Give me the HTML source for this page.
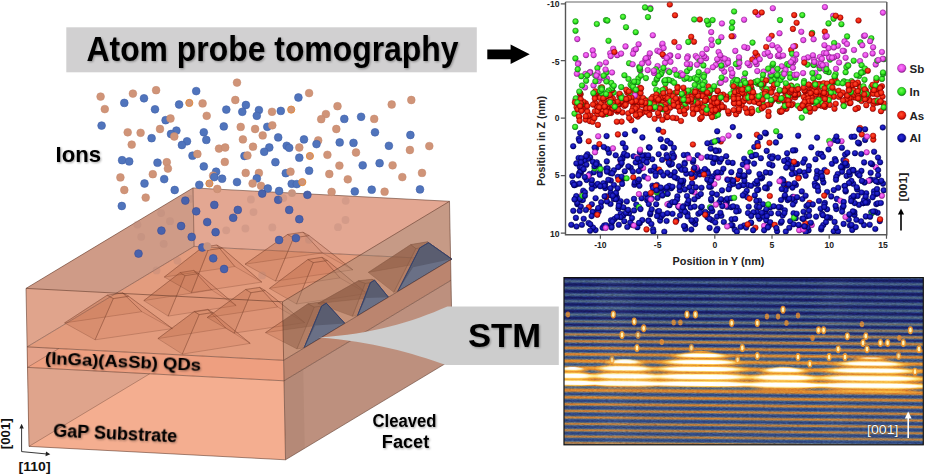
<!DOCTYPE html>
<html><head><meta charset="utf-8"><style>
html,body{margin:0;padding:0;background:#fff;}
body{width:925px;height:475px;overflow:hidden;}
svg{display:block;font-family:"Liberation Sans",sans-serif;}
.tk{font-size:8.6px;font-weight:bold;fill:#222;}
.axl{font-size:10.8px;font-weight:bold;fill:#222;}
.leg{font-size:11.5px;font-weight:bold;fill:#222;}
.lab001{font-size:11.5px;font-weight:bold;fill:#222;}
.cm{font-weight:bold;fill:#000;}
</style></head><body>
<svg width="925" height="475" viewBox="0 0 925 475">
<defs>
<radialGradient id="gal" cx="0.45" cy="0.4" r="0.6"><stop offset="0" stop-color="#3030d8"/><stop offset="0.7" stop-color="#0c0ca8"/><stop offset="1" stop-color="#000058"/></radialGradient>
<circle id="dal" r="2.8" fill="url(#gal)" stroke="#000058" stroke-width="0.5"/>
<circle id="Lal" r="4.2" fill="url(#gal)" stroke="#000058" stroke-width="0.5"/>
<radialGradient id="gas" cx="0.45" cy="0.4" r="0.6"><stop offset="0" stop-color="#ff5030"/><stop offset="0.7" stop-color="#e81808"/><stop offset="1" stop-color="#8a0000"/></radialGradient>
<circle id="das" r="2.8" fill="url(#gas)" stroke="#8a0000" stroke-width="0.5"/>
<circle id="Las" r="4.2" fill="url(#gas)" stroke="#8a0000" stroke-width="0.5"/>
<radialGradient id="gin" cx="0.45" cy="0.4" r="0.6"><stop offset="0" stop-color="#70ff50"/><stop offset="0.7" stop-color="#22dd18"/><stop offset="1" stop-color="#107a10"/></radialGradient>
<circle id="din" r="2.8" fill="url(#gin)" stroke="#107a10" stroke-width="0.5"/>
<circle id="Lin" r="4.2" fill="url(#gin)" stroke="#107a10" stroke-width="0.5"/>
<radialGradient id="gsb" cx="0.45" cy="0.4" r="0.6"><stop offset="0" stop-color="#ff80ff"/><stop offset="0.7" stop-color="#e040e0"/><stop offset="1" stop-color="#8a208a"/></radialGradient>
<circle id="dsb" r="2.8" fill="url(#gsb)" stroke="#8a208a" stroke-width="0.5"/>
<circle id="Lsb" r="4.2" fill="url(#gsb)" stroke="#8a208a" stroke-width="0.5"/>
<filter id="shd" x="-5%" y="-5%" width="110%" height="120%"><feGaussianBlur in="SourceAlpha" stdDeviation="0.8"/><feOffset dx="1.3" dy="1.3" result="b"/><feFlood flood-color="#000" flood-opacity="0.35"/><feComposite in2="b" operator="in"/><feMerge><feMergeNode/><feMergeNode in="SourceGraphic"/></feMerge></filter>
</defs>
<rect width="925" height="475" fill="#fff"/>
<g id="plot">
<use href="#dsb" x="670.3" y="55.4"/>
<use href="#dal" x="609.0" y="152.8"/>
<use href="#das" x="666.3" y="97.5"/>
<use href="#dal" x="610.5" y="204.0"/>
<use href="#das" x="633.5" y="106.1"/>
<use href="#dal" x="800.7" y="227.9"/>
<use href="#din" x="798.4" y="94.5"/>
<use href="#din" x="580.4" y="93.8"/>
<use href="#dal" x="853.3" y="170.0"/>
<use href="#das" x="806.1" y="95.3"/>
<use href="#dal" x="787.4" y="159.2"/>
<use href="#dal" x="713.1" y="176.4"/>
<use href="#das" x="771.7" y="101.3"/>
<use href="#dal" x="650.2" y="214.3"/>
<use href="#dal" x="859.0" y="204.8"/>
<use href="#din" x="645.3" y="99.8"/>
<use href="#dal" x="808.5" y="230.4"/>
<use href="#dal" x="620.6" y="201.2"/>
<use href="#din" x="669.9" y="102.8"/>
<use href="#dal" x="795.9" y="185.0"/>
<use href="#dal" x="782.7" y="215.5"/>
<use href="#dsb" x="860.0" y="61.1"/>
<use href="#din" x="704.6" y="82.0"/>
<use href="#das" x="619.3" y="96.1"/>
<use href="#dal" x="671.2" y="188.3"/>
<use href="#dal" x="620.7" y="178.6"/>
<use href="#dal" x="787.3" y="185.9"/>
<use href="#das" x="750.9" y="110.9"/>
<use href="#dsb" x="721.9" y="23.5"/>
<use href="#das" x="686.5" y="107.7"/>
<use href="#din" x="757.8" y="83.8"/>
<use href="#dal" x="579.2" y="173.1"/>
<use href="#das" x="747.8" y="94.2"/>
<use href="#dsb" x="723.0" y="58.4"/>
<use href="#dal" x="754.3" y="147.0"/>
<use href="#dsb" x="770.3" y="75.9"/>
<use href="#dal" x="780.7" y="207.4"/>
<use href="#dal" x="640.9" y="168.6"/>
<use href="#dsb" x="813.1" y="64.5"/>
<use href="#das" x="645.5" y="109.6"/>
<use href="#dsb" x="648.0" y="57.4"/>
<use href="#das" x="869.9" y="100.4"/>
<use href="#dal" x="651.6" y="198.5"/>
<use href="#dal" x="876.0" y="194.0"/>
<use href="#dal" x="756.7" y="212.0"/>
<use href="#dal" x="606.2" y="168.6"/>
<use href="#das" x="817.9" y="87.6"/>
<use href="#dal" x="870.8" y="179.6"/>
<use href="#das" x="669.8" y="4.5"/>
<use href="#dal" x="770.1" y="172.8"/>
<use href="#dsb" x="617.2" y="55.2"/>
<use href="#dsb" x="694.6" y="192.5"/>
<use href="#din" x="611.2" y="94.1"/>
<use href="#das" x="851.6" y="88.8"/>
<use href="#din" x="778.8" y="101.0"/>
<use href="#din" x="701.7" y="93.4"/>
<use href="#dal" x="853.2" y="183.8"/>
<use href="#dal" x="639.8" y="223.1"/>
<use href="#din" x="801.8" y="117.6"/>
<use href="#dsb" x="756.6" y="64.2"/>
<use href="#dal" x="667.3" y="140.9"/>
<use href="#din" x="664.3" y="81.2"/>
<use href="#das" x="808.8" y="84.8"/>
<use href="#das" x="736.3" y="101.3"/>
<use href="#dal" x="631.9" y="224.7"/>
<use href="#das" x="700.1" y="103.2"/>
<use href="#dal" x="727.2" y="206.8"/>
<use href="#din" x="639.3" y="67.0"/>
<use href="#das" x="794.2" y="15.1"/>
<use href="#dal" x="867.9" y="201.3"/>
<use href="#das" x="785.3" y="108.4"/>
<use href="#din" x="858.0" y="84.2"/>
<use href="#dal" x="795.2" y="173.1"/>
<use href="#dal" x="693.0" y="162.0"/>
<use href="#dal" x="853.5" y="197.3"/>
<use href="#das" x="809.7" y="88.4"/>
<use href="#din" x="733.6" y="89.8"/>
<use href="#dal" x="787.7" y="200.1"/>
<use href="#dal" x="672.5" y="175.3"/>
<use href="#das" x="713.6" y="107.5"/>
<use href="#dal" x="785.8" y="231.6"/>
<use href="#das" x="612.5" y="107.0"/>
<use href="#das" x="661.5" y="94.9"/>
<use href="#dal" x="851.4" y="197.9"/>
<use href="#dal" x="792.9" y="196.8"/>
<use href="#dsb" x="592.7" y="50.4"/>
<use href="#din" x="734.1" y="11.5"/>
<use href="#dsb" x="881.9" y="52.0"/>
<use href="#das" x="717.5" y="91.3"/>
<use href="#din" x="718.3" y="62.6"/>
<use href="#dsb" x="881.9" y="195.7"/>
<use href="#das" x="633.3" y="177.4"/>
<use href="#das" x="609.6" y="102.2"/>
<use href="#das" x="659.2" y="100.2"/>
<use href="#din" x="715.4" y="116.1"/>
<use href="#din" x="656.2" y="89.7"/>
<use href="#dal" x="577.4" y="204.2"/>
<use href="#din" x="772.4" y="65.3"/>
<use href="#das" x="705.9" y="109.6"/>
<use href="#das" x="697.9" y="106.4"/>
<use href="#dal" x="761.3" y="178.4"/>
<use href="#das" x="805.4" y="223.2"/>
<use href="#dal" x="650.7" y="170.8"/>
<use href="#din" x="659.5" y="91.3"/>
<use href="#dal" x="684.8" y="189.4"/>
<use href="#din" x="667.0" y="193.9"/>
<use href="#dal" x="857.5" y="173.6"/>
<use href="#dal" x="794.7" y="201.5"/>
<use href="#din" x="739.0" y="60.3"/>
<use href="#dal" x="658.6" y="129.8"/>
<use href="#das" x="772.9" y="88.1"/>
<use href="#das" x="602.9" y="110.3"/>
<use href="#dal" x="688.1" y="203.2"/>
<use href="#das" x="807.6" y="95.1"/>
<use href="#dal" x="723.8" y="222.0"/>
<use href="#das" x="708.9" y="98.6"/>
<use href="#din" x="657.7" y="73.7"/>
<use href="#das" x="714.7" y="109.9"/>
<use href="#das" x="785.9" y="87.7"/>
<use href="#das" x="784.0" y="90.7"/>
<use href="#din" x="742.9" y="81.9"/>
<use href="#dal" x="809.0" y="210.6"/>
<use href="#din" x="859.5" y="89.5"/>
<use href="#das" x="830.1" y="93.8"/>
<use href="#das" x="769.8" y="196.0"/>
<use href="#das" x="610.4" y="93.5"/>
<use href="#das" x="803.8" y="97.1"/>
<use href="#dsb" x="837.3" y="55.9"/>
<use href="#das" x="786.1" y="184.1"/>
<use href="#dal" x="581.9" y="224.8"/>
<use href="#dal" x="754.1" y="163.6"/>
<use href="#din" x="847.1" y="36.4"/>
<use href="#din" x="728.7" y="96.6"/>
<use href="#dal" x="876.3" y="204.1"/>
<use href="#dal" x="611.3" y="225.2"/>
<use href="#din" x="733.1" y="82.0"/>
<use href="#dal" x="617.9" y="176.9"/>
<use href="#das" x="818.2" y="105.2"/>
<use href="#dal" x="652.5" y="185.7"/>
<use href="#dal" x="869.9" y="180.4"/>
<use href="#dal" x="878.0" y="157.6"/>
<use href="#dal" x="871.3" y="212.1"/>
<use href="#dal" x="818.2" y="153.6"/>
<use href="#dal" x="605.2" y="184.1"/>
<use href="#das" x="700.1" y="118.9"/>
<use href="#din" x="762.1" y="94.6"/>
<use href="#das" x="801.1" y="107.6"/>
<use href="#dal" x="788.7" y="165.6"/>
<use href="#das" x="677.4" y="100.3"/>
<use href="#dal" x="804.1" y="172.5"/>
<use href="#din" x="813.4" y="87.8"/>
<use href="#dal" x="711.0" y="186.7"/>
<use href="#dal" x="596.0" y="148.3"/>
<use href="#dal" x="717.4" y="228.7"/>
<use href="#das" x="751.7" y="108.8"/>
<use href="#dal" x="790.5" y="161.6"/>
<use href="#das" x="628.2" y="113.3"/>
<use href="#dsb" x="845.6" y="57.8"/>
<use href="#dsb" x="721.4" y="37.2"/>
<use href="#dal" x="623.1" y="156.3"/>
<use href="#dal" x="572.3" y="176.0"/>
<use href="#dal" x="633.6" y="156.3"/>
<use href="#das" x="835.8" y="82.1"/>
<use href="#dal" x="784.8" y="210.4"/>
<use href="#dal" x="603.3" y="183.2"/>
<use href="#dal" x="610.8" y="180.5"/>
<use href="#dal" x="717.1" y="216.6"/>
<use href="#dsb" x="585.4" y="73.9"/>
<use href="#dal" x="842.5" y="168.6"/>
<use href="#dal" x="676.3" y="220.3"/>
<use href="#din" x="581.3" y="76.3"/>
<use href="#dsb" x="828.5" y="48.1"/>
<use href="#dsb" x="667.8" y="101.9"/>
<use href="#das" x="860.5" y="87.3"/>
<use href="#dal" x="594.6" y="147.5"/>
<use href="#das" x="811.9" y="97.0"/>
<use href="#das" x="884.0" y="103.5"/>
<use href="#dsb" x="758.2" y="14.7"/>
<use href="#das" x="681.3" y="97.8"/>
<use href="#das" x="588.7" y="141.2"/>
<use href="#das" x="751.1" y="113.2"/>
<use href="#das" x="636.2" y="90.0"/>
<use href="#dal" x="660.2" y="188.0"/>
<use href="#das" x="649.2" y="113.6"/>
<use href="#dsb" x="825.3" y="36.9"/>
<use href="#das" x="849.0" y="97.9"/>
<use href="#dal" x="679.8" y="190.5"/>
<use href="#dal" x="581.0" y="172.6"/>
<use href="#dal" x="741.7" y="176.3"/>
<use href="#das" x="675.7" y="221.8"/>
<use href="#dal" x="712.3" y="220.3"/>
<use href="#das" x="804.9" y="91.2"/>
<use href="#dal" x="746.7" y="190.9"/>
<use href="#das" x="741.8" y="105.1"/>
<use href="#dal" x="610.7" y="192.8"/>
<use href="#das" x="627.3" y="92.6"/>
<use href="#dal" x="874.0" y="191.2"/>
<use href="#dal" x="695.2" y="224.1"/>
<use href="#din" x="851.5" y="81.1"/>
<use href="#dal" x="660.7" y="139.2"/>
<use href="#dal" x="652.3" y="159.3"/>
<use href="#dal" x="666.6" y="155.0"/>
<use href="#din" x="719.6" y="83.0"/>
<use href="#din" x="575.4" y="58.4"/>
<use href="#das" x="759.4" y="83.4"/>
<use href="#das" x="849.6" y="103.2"/>
<use href="#das" x="719.2" y="107.4"/>
<use href="#das" x="647.4" y="107.4"/>
<use href="#din" x="813.3" y="78.5"/>
<use href="#dal" x="759.4" y="218.8"/>
<use href="#dal" x="842.8" y="165.1"/>
<use href="#das" x="881.9" y="86.2"/>
<use href="#dal" x="762.2" y="177.4"/>
<use href="#das" x="739.0" y="104.0"/>
<use href="#das" x="761.7" y="12.5"/>
<use href="#din" x="784.2" y="72.2"/>
<use href="#dal" x="817.2" y="174.8"/>
<use href="#dal" x="707.5" y="213.8"/>
<use href="#din" x="872.0" y="213.1"/>
<use href="#das" x="720.9" y="141.5"/>
<use href="#das" x="642.0" y="112.9"/>
<use href="#din" x="654.6" y="83.4"/>
<use href="#dal" x="726.7" y="202.8"/>
<use href="#dsb" x="728.5" y="135.6"/>
<use href="#din" x="828.7" y="72.2"/>
<use href="#dal" x="790.2" y="221.3"/>
<use href="#das" x="824.7" y="95.5"/>
<use href="#dal" x="765.9" y="133.4"/>
<use href="#din" x="790.1" y="74.0"/>
<use href="#dal" x="778.4" y="213.4"/>
<use href="#dal" x="852.2" y="229.9"/>
<use href="#das" x="834.5" y="108.7"/>
<use href="#din" x="735.2" y="91.3"/>
<use href="#das" x="756.9" y="134.7"/>
<use href="#das" x="820.5" y="95.0"/>
<use href="#dal" x="836.9" y="198.9"/>
<use href="#dal" x="740.4" y="185.2"/>
<use href="#dal" x="784.1" y="160.9"/>
<use href="#das" x="827.6" y="92.9"/>
<use href="#dsb" x="657.4" y="50.7"/>
<use href="#dal" x="629.1" y="213.3"/>
<use href="#dal" x="867.3" y="202.8"/>
<use href="#dal" x="613.9" y="170.3"/>
<use href="#dsb" x="650.3" y="8.0"/>
<use href="#dal" x="814.8" y="183.5"/>
<use href="#dal" x="819.0" y="201.0"/>
<use href="#dsb" x="625.5" y="46.4"/>
<use href="#dsb" x="668.1" y="70.7"/>
<use href="#das" x="637.3" y="106.8"/>
<use href="#das" x="610.3" y="107.8"/>
<use href="#dal" x="699.8" y="174.5"/>
<use href="#dal" x="716.4" y="230.4"/>
<use href="#dal" x="806.4" y="216.5"/>
<use href="#das" x="583.0" y="108.7"/>
<use href="#dal" x="678.3" y="206.4"/>
<use href="#dal" x="606.9" y="201.4"/>
<use href="#das" x="665.0" y="88.5"/>
<use href="#das" x="646.6" y="111.9"/>
<use href="#dal" x="713.2" y="162.9"/>
<use href="#das" x="587.3" y="117.1"/>
<use href="#dsb" x="754.8" y="57.5"/>
<use href="#das" x="745.5" y="108.5"/>
<use href="#din" x="665.4" y="83.5"/>
<use href="#din" x="787.1" y="64.1"/>
<use href="#das" x="770.3" y="104.3"/>
<use href="#das" x="585.7" y="119.6"/>
<use href="#das" x="861.6" y="101.0"/>
<use href="#das" x="692.9" y="106.7"/>
<use href="#dal" x="715.3" y="222.5"/>
<use href="#din" x="606.6" y="113.9"/>
<use href="#das" x="736.0" y="114.3"/>
<use href="#das" x="717.2" y="98.3"/>
<use href="#dal" x="654.4" y="186.3"/>
<use href="#dal" x="877.6" y="212.7"/>
<use href="#dal" x="697.7" y="171.5"/>
<use href="#din" x="873.0" y="88.1"/>
<use href="#das" x="816.9" y="93.5"/>
<use href="#dal" x="800.9" y="227.4"/>
<use href="#dsb" x="678.0" y="56.2"/>
<use href="#das" x="874.8" y="101.0"/>
<use href="#das" x="869.2" y="100.5"/>
<use href="#das" x="852.6" y="82.5"/>
<use href="#das" x="747.1" y="112.8"/>
<use href="#dal" x="754.7" y="155.0"/>
<use href="#dsb" x="732.0" y="75.9"/>
<use href="#das" x="694.0" y="41.7"/>
<use href="#das" x="670.0" y="94.6"/>
<use href="#das" x="713.0" y="101.0"/>
<use href="#dal" x="883.0" y="183.6"/>
<use href="#dal" x="817.1" y="137.6"/>
<use href="#dal" x="647.2" y="200.2"/>
<use href="#din" x="882.0" y="78.9"/>
<use href="#din" x="650.4" y="8.9"/>
<use href="#dal" x="657.7" y="211.5"/>
<use href="#dal" x="760.1" y="137.3"/>
<use href="#dsb" x="662.2" y="45.5"/>
<use href="#das" x="692.8" y="109.0"/>
<use href="#das" x="611.1" y="113.0"/>
<use href="#das" x="663.1" y="102.4"/>
<use href="#das" x="657.7" y="100.7"/>
<use href="#dal" x="744.6" y="176.5"/>
<use href="#dal" x="661.7" y="190.6"/>
<use href="#dsb" x="640.3" y="70.5"/>
<use href="#dsb" x="811.7" y="225.1"/>
<use href="#dal" x="851.4" y="180.9"/>
<use href="#das" x="597.9" y="124.9"/>
<use href="#das" x="609.5" y="113.0"/>
<use href="#dal" x="795.7" y="218.2"/>
<use href="#din" x="788.3" y="91.0"/>
<use href="#din" x="774.6" y="78.9"/>
<use href="#dal" x="843.6" y="223.9"/>
<use href="#das" x="824.9" y="106.9"/>
<use href="#din" x="731.8" y="27.9"/>
<use href="#din" x="832.2" y="82.4"/>
<use href="#dal" x="711.9" y="142.5"/>
<use href="#dal" x="845.1" y="154.6"/>
<use href="#dsb" x="595.0" y="152.3"/>
<use href="#dsb" x="813.8" y="59.2"/>
<use href="#dal" x="758.2" y="216.2"/>
<use href="#dal" x="591.8" y="204.3"/>
<use href="#dsb" x="659.7" y="51.8"/>
<use href="#das" x="883.9" y="108.0"/>
<use href="#dal" x="707.3" y="156.8"/>
<use href="#dal" x="874.9" y="211.5"/>
<use href="#dal" x="731.2" y="179.9"/>
<use href="#das" x="585.7" y="103.3"/>
<use href="#dal" x="595.3" y="185.6"/>
<use href="#das" x="792.8" y="104.0"/>
<use href="#das" x="718.2" y="110.2"/>
<use href="#din" x="613.7" y="92.6"/>
<use href="#das" x="697.6" y="103.0"/>
<use href="#das" x="643.0" y="98.0"/>
<use href="#dal" x="692.1" y="173.8"/>
<use href="#dal" x="817.1" y="185.6"/>
<use href="#dal" x="579.1" y="198.6"/>
<use href="#din" x="721.8" y="95.5"/>
<use href="#dsb" x="739.0" y="57.3"/>
<use href="#dal" x="606.7" y="196.3"/>
<use href="#das" x="587.3" y="111.6"/>
<use href="#dsb" x="727.8" y="60.2"/>
<use href="#das" x="733.8" y="102.7"/>
<use href="#das" x="705.1" y="109.9"/>
<use href="#das" x="713.0" y="111.7"/>
<use href="#dal" x="670.1" y="175.1"/>
<use href="#das" x="790.9" y="105.0"/>
<use href="#das" x="726.2" y="97.7"/>
<use href="#dal" x="726.8" y="200.9"/>
<use href="#das" x="861.8" y="134.5"/>
<use href="#dal" x="877.9" y="203.3"/>
<use href="#dal" x="591.8" y="188.6"/>
<use href="#das" x="750.4" y="99.1"/>
<use href="#dal" x="572.8" y="182.8"/>
<use href="#dal" x="608.3" y="179.8"/>
<use href="#das" x="881.0" y="111.2"/>
<use href="#din" x="807.4" y="64.6"/>
<use href="#din" x="844.1" y="81.4"/>
<use href="#dal" x="729.8" y="185.8"/>
<use href="#dsb" x="598.7" y="81.0"/>
<use href="#dal" x="622.7" y="178.9"/>
<use href="#dal" x="620.6" y="160.0"/>
<use href="#dsb" x="793.3" y="62.6"/>
<use href="#dsb" x="795.3" y="60.0"/>
<use href="#dal" x="620.5" y="165.0"/>
<use href="#dal" x="863.4" y="203.1"/>
<use href="#das" x="648.1" y="104.1"/>
<use href="#dal" x="744.2" y="158.7"/>
<use href="#das" x="833.6" y="90.9"/>
<use href="#das" x="606.9" y="105.8"/>
<use href="#din" x="849.1" y="89.3"/>
<use href="#dal" x="731.6" y="219.3"/>
<use href="#das" x="608.7" y="106.7"/>
<use href="#das" x="666.6" y="117.2"/>
<use href="#dsb" x="657.6" y="66.1"/>
<use href="#das" x="786.5" y="108.7"/>
<use href="#dal" x="821.3" y="153.9"/>
<use href="#dal" x="690.7" y="207.5"/>
<use href="#das" x="721.1" y="104.5"/>
<use href="#dal" x="760.9" y="158.2"/>
<use href="#dal" x="817.1" y="171.0"/>
<use href="#dal" x="702.7" y="171.6"/>
<use href="#dal" x="599.7" y="172.6"/>
<use href="#das" x="590.5" y="115.6"/>
<use href="#dal" x="630.3" y="222.5"/>
<use href="#dal" x="648.4" y="220.5"/>
<use href="#das" x="617.4" y="111.6"/>
<use href="#dsb" x="837.8" y="45.7"/>
<use href="#das" x="818.3" y="95.3"/>
<use href="#dal" x="602.6" y="227.7"/>
<use href="#dsb" x="621.1" y="53.6"/>
<use href="#das" x="639.6" y="101.6"/>
<use href="#dsb" x="817.8" y="65.0"/>
<use href="#din" x="862.1" y="91.7"/>
<use href="#dal" x="855.7" y="227.1"/>
<use href="#das" x="612.0" y="90.1"/>
<use href="#das" x="699.8" y="19.5"/>
<use href="#das" x="853.0" y="97.5"/>
<use href="#dsb" x="794.2" y="197.1"/>
<use href="#dal" x="653.1" y="229.4"/>
<use href="#dal" x="648.8" y="204.1"/>
<use href="#das" x="637.6" y="97.0"/>
<use href="#dsb" x="844.5" y="41.4"/>
<use href="#das" x="681.7" y="104.1"/>
<use href="#din" x="735.5" y="79.9"/>
<use href="#dsb" x="812.9" y="55.3"/>
<use href="#din" x="797.9" y="105.7"/>
<use href="#das" x="745.1" y="94.7"/>
<use href="#das" x="654.6" y="105.6"/>
<use href="#din" x="630.6" y="84.6"/>
<use href="#das" x="748.4" y="85.1"/>
<use href="#dal" x="880.8" y="203.0"/>
<use href="#din" x="736.9" y="97.8"/>
<use href="#din" x="754.9" y="82.1"/>
<use href="#dal" x="624.2" y="153.6"/>
<use href="#dal" x="803.6" y="211.7"/>
<use href="#das" x="757.3" y="102.0"/>
<use href="#dal" x="848.9" y="183.1"/>
<use href="#dsb" x="817.6" y="63.3"/>
<use href="#dal" x="695.9" y="187.3"/>
<use href="#dal" x="756.8" y="206.6"/>
<use href="#dal" x="792.4" y="187.6"/>
<use href="#das" x="664.8" y="98.0"/>
<use href="#dal" x="792.2" y="199.0"/>
<use href="#din" x="830.0" y="59.6"/>
<use href="#dal" x="875.3" y="229.0"/>
<use href="#dal" x="578.8" y="138.7"/>
<use href="#din" x="704.2" y="74.6"/>
<use href="#din" x="639.8" y="69.6"/>
<use href="#din" x="736.9" y="82.1"/>
<use href="#dsb" x="695.7" y="56.0"/>
<use href="#din" x="688.5" y="94.8"/>
<use href="#das" x="759.0" y="102.2"/>
<use href="#dal" x="866.2" y="193.2"/>
<use href="#din" x="834.8" y="76.9"/>
<use href="#dal" x="579.7" y="210.8"/>
<use href="#das" x="816.9" y="91.9"/>
<use href="#dal" x="611.6" y="227.4"/>
<use href="#das" x="718.8" y="108.7"/>
<use href="#dal" x="657.5" y="197.9"/>
<use href="#das" x="616.3" y="103.3"/>
<use href="#dal" x="720.2" y="160.1"/>
<use href="#dal" x="692.1" y="183.3"/>
<use href="#dal" x="580.4" y="171.4"/>
<use href="#das" x="659.0" y="169.6"/>
<use href="#dal" x="599.2" y="166.2"/>
<use href="#dsb" x="706.1" y="58.3"/>
<use href="#dal" x="874.0" y="194.3"/>
<use href="#din" x="574.5" y="113.6"/>
<use href="#das" x="721.1" y="107.2"/>
<use href="#dal" x="591.7" y="183.8"/>
<use href="#das" x="809.5" y="202.8"/>
<use href="#din" x="845.6" y="72.2"/>
<use href="#dal" x="830.2" y="217.8"/>
<use href="#dal" x="748.0" y="213.1"/>
<use href="#dal" x="621.8" y="178.0"/>
<use href="#das" x="681.5" y="105.8"/>
<use href="#dal" x="617.0" y="197.5"/>
<use href="#dal" x="579.8" y="167.1"/>
<use href="#din" x="853.0" y="90.5"/>
<use href="#din" x="633.6" y="89.3"/>
<use href="#dal" x="595.5" y="230.1"/>
<use href="#dal" x="711.4" y="178.4"/>
<use href="#dal" x="645.0" y="155.3"/>
<use href="#dal" x="716.1" y="173.1"/>
<use href="#dal" x="792.9" y="204.5"/>
<use href="#dal" x="592.8" y="161.7"/>
<use href="#din" x="691.7" y="92.6"/>
<use href="#das" x="575.6" y="99.8"/>
<use href="#dsb" x="764.6" y="53.9"/>
<use href="#dal" x="687.4" y="213.7"/>
<use href="#das" x="821.6" y="105.8"/>
<use href="#dal" x="747.9" y="185.1"/>
<use href="#das" x="738.2" y="86.1"/>
<use href="#das" x="843.5" y="105.2"/>
<use href="#das" x="676.3" y="118.2"/>
<use href="#dal" x="590.1" y="157.2"/>
<use href="#das" x="805.9" y="99.7"/>
<use href="#dal" x="759.2" y="200.7"/>
<use href="#das" x="874.2" y="89.8"/>
<use href="#dal" x="851.6" y="136.8"/>
<use href="#dal" x="864.1" y="162.4"/>
<use href="#das" x="631.3" y="120.3"/>
<use href="#dal" x="823.3" y="225.0"/>
<use href="#dal" x="653.5" y="170.2"/>
<use href="#din" x="752.5" y="42.6"/>
<use href="#dal" x="757.4" y="184.0"/>
<use href="#din" x="833.6" y="93.2"/>
<use href="#dal" x="836.3" y="209.1"/>
<use href="#din" x="771.2" y="75.2"/>
<use href="#das" x="819.8" y="84.0"/>
<use href="#din" x="795.6" y="77.8"/>
<use href="#din" x="575.8" y="98.4"/>
<use href="#din" x="883.8" y="59.2"/>
<use href="#dal" x="838.2" y="187.7"/>
<use href="#dal" x="734.8" y="229.6"/>
<use href="#das" x="579.2" y="116.8"/>
<use href="#dal" x="815.1" y="186.0"/>
<use href="#das" x="718.0" y="103.4"/>
<use href="#dal" x="874.9" y="180.0"/>
<use href="#dal" x="595.6" y="198.2"/>
<use href="#dal" x="731.3" y="207.2"/>
<use href="#dal" x="851.6" y="170.0"/>
<use href="#dal" x="797.1" y="197.2"/>
<use href="#dal" x="660.9" y="193.1"/>
<use href="#dal" x="618.8" y="224.8"/>
<use href="#dal" x="804.7" y="159.3"/>
<use href="#din" x="645.0" y="7.4"/>
<use href="#das" x="816.5" y="92.8"/>
<use href="#das" x="701.7" y="117.3"/>
<use href="#dal" x="648.6" y="220.9"/>
<use href="#das" x="750.1" y="97.1"/>
<use href="#dal" x="791.8" y="174.1"/>
<use href="#dsb" x="790.9" y="63.0"/>
<use href="#das" x="784.4" y="101.7"/>
<use href="#dal" x="770.3" y="207.3"/>
<use href="#dsb" x="764.1" y="225.9"/>
<use href="#dal" x="784.6" y="196.8"/>
<use href="#din" x="730.6" y="94.1"/>
<use href="#dal" x="744.1" y="225.5"/>
<use href="#din" x="663.5" y="105.7"/>
<use href="#das" x="783.5" y="97.7"/>
<use href="#din" x="737.5" y="80.3"/>
<use href="#dsb" x="593.5" y="85.4"/>
<use href="#din" x="600.6" y="87.7"/>
<use href="#das" x="733.8" y="96.2"/>
<use href="#dsb" x="757.3" y="71.1"/>
<use href="#dal" x="857.6" y="195.9"/>
<use href="#das" x="791.2" y="49.9"/>
<use href="#dsb" x="770.2" y="71.6"/>
<use href="#dsb" x="733.4" y="36.2"/>
<use href="#dal" x="679.0" y="207.3"/>
<use href="#das" x="577.4" y="107.3"/>
<use href="#dal" x="669.2" y="203.6"/>
<use href="#dal" x="607.5" y="168.4"/>
<use href="#das" x="855.8" y="97.6"/>
<use href="#das" x="777.2" y="99.0"/>
<use href="#das" x="599.9" y="95.4"/>
<use href="#das" x="766.2" y="47.0"/>
<use href="#dsb" x="772.3" y="45.2"/>
<use href="#das" x="822.8" y="92.8"/>
<use href="#dal" x="757.5" y="142.9"/>
<use href="#dal" x="831.2" y="196.4"/>
<use href="#dsb" x="613.2" y="48.7"/>
<use href="#das" x="615.8" y="107.7"/>
<use href="#das" x="716.0" y="102.3"/>
<use href="#dsb" x="647.7" y="70.1"/>
<use href="#dal" x="684.2" y="210.6"/>
<use href="#din" x="706.0" y="91.8"/>
<use href="#dal" x="575.9" y="217.9"/>
<use href="#din" x="697.9" y="76.1"/>
<use href="#das" x="620.6" y="104.1"/>
<use href="#dsb" x="610.2" y="53.2"/>
<use href="#dal" x="827.1" y="209.3"/>
<use href="#dal" x="743.6" y="185.1"/>
<use href="#das" x="755.4" y="12.1"/>
<use href="#din" x="834.1" y="43.0"/>
<use href="#dal" x="574.3" y="185.2"/>
<use href="#dal" x="797.1" y="163.9"/>
<use href="#dsb" x="738.4" y="82.1"/>
<use href="#dal" x="669.1" y="185.9"/>
<use href="#dal" x="769.5" y="184.0"/>
<use href="#dal" x="705.4" y="212.0"/>
<use href="#dsb" x="706.6" y="49.1"/>
<use href="#dsb" x="645.3" y="59.6"/>
<use href="#das" x="806.9" y="105.7"/>
<use href="#das" x="603.1" y="114.6"/>
<use href="#dal" x="592.7" y="211.9"/>
<use href="#din" x="883.1" y="73.9"/>
<use href="#das" x="601.9" y="87.3"/>
<use href="#dal" x="694.7" y="176.6"/>
<use href="#dal" x="660.1" y="220.6"/>
<use href="#din" x="791.9" y="92.9"/>
<use href="#dal" x="747.9" y="162.0"/>
<use href="#das" x="833.7" y="96.8"/>
<use href="#das" x="607.5" y="104.0"/>
<use href="#das" x="748.2" y="88.7"/>
<use href="#dsb" x="799.2" y="230.2"/>
<use href="#das" x="808.4" y="98.5"/>
<use href="#dsb" x="652.8" y="35.3"/>
<use href="#dal" x="744.4" y="180.8"/>
<use href="#dal" x="721.2" y="172.5"/>
<use href="#dal" x="849.9" y="225.5"/>
<use href="#das" x="654.6" y="118.8"/>
<use href="#dsb" x="707.5" y="70.8"/>
<use href="#dal" x="597.7" y="183.9"/>
<use href="#das" x="860.4" y="95.2"/>
<use href="#dal" x="719.6" y="162.0"/>
<use href="#dsb" x="714.4" y="184.0"/>
<use href="#das" x="818.1" y="105.3"/>
<use href="#das" x="735.0" y="103.5"/>
<use href="#dal" x="854.5" y="214.9"/>
<use href="#din" x="826.0" y="90.6"/>
<use href="#dal" x="731.3" y="172.2"/>
<use href="#das" x="789.7" y="98.9"/>
<use href="#das" x="621.6" y="121.6"/>
<use href="#din" x="792.1" y="53.8"/>
<use href="#dsb" x="866.6" y="152.3"/>
<use href="#dal" x="680.6" y="168.4"/>
<use href="#dal" x="661.0" y="216.9"/>
<use href="#dal" x="587.8" y="159.0"/>
<use href="#das" x="682.6" y="94.7"/>
<use href="#din" x="684.5" y="79.0"/>
<use href="#din" x="828.5" y="23.4"/>
<use href="#dal" x="822.1" y="213.7"/>
<use href="#dal" x="601.2" y="202.3"/>
<use href="#din" x="645.9" y="78.1"/>
<use href="#dal" x="744.7" y="193.7"/>
<use href="#dal" x="698.1" y="196.3"/>
<use href="#din" x="750.4" y="152.6"/>
<use href="#das" x="674.1" y="93.6"/>
<use href="#dsb" x="585.0" y="87.5"/>
<use href="#das" x="589.8" y="121.1"/>
<use href="#din" x="690.7" y="93.1"/>
<use href="#din" x="771.2" y="81.2"/>
<use href="#dal" x="622.8" y="143.3"/>
<use href="#das" x="811.5" y="88.3"/>
<use href="#dsb" x="687.8" y="56.4"/>
<use href="#dal" x="613.9" y="185.0"/>
<use href="#din" x="635.7" y="92.8"/>
<use href="#dal" x="666.5" y="188.8"/>
<use href="#dal" x="732.5" y="225.4"/>
<use href="#das" x="601.6" y="97.1"/>
<use href="#din" x="751.7" y="88.9"/>
<use href="#dal" x="581.8" y="200.0"/>
<use href="#dal" x="591.6" y="216.1"/>
<use href="#dsb" x="665.0" y="62.9"/>
<use href="#das" x="827.0" y="94.4"/>
<use href="#dal" x="824.8" y="202.9"/>
<use href="#dal" x="766.9" y="188.5"/>
<use href="#dal" x="764.0" y="216.9"/>
<use href="#das" x="618.0" y="110.2"/>
<use href="#das" x="738.0" y="94.8"/>
<use href="#din" x="661.8" y="72.1"/>
<use href="#dal" x="857.2" y="189.4"/>
<use href="#din" x="691.7" y="90.3"/>
<use href="#din" x="693.3" y="100.9"/>
<use href="#das" x="636.6" y="112.5"/>
<use href="#das" x="783.2" y="98.1"/>
<use href="#das" x="692.0" y="177.8"/>
<use href="#din" x="639.9" y="67.7"/>
<use href="#das" x="785.8" y="92.8"/>
<use href="#din" x="607.6" y="94.3"/>
<use href="#dsb" x="875.8" y="167.2"/>
<use href="#dsb" x="824.4" y="45.2"/>
<use href="#dsb" x="738.5" y="66.7"/>
<use href="#das" x="715.2" y="97.9"/>
<use href="#das" x="880.3" y="87.4"/>
<use href="#dsb" x="680.7" y="73.2"/>
<use href="#das" x="772.9" y="99.6"/>
<use href="#dal" x="691.3" y="173.8"/>
<use href="#din" x="762.7" y="79.1"/>
<use href="#dal" x="864.0" y="225.1"/>
<use href="#din" x="790.9" y="90.4"/>
<use href="#dal" x="610.4" y="172.9"/>
<use href="#dal" x="775.9" y="142.4"/>
<use href="#dal" x="620.7" y="213.7"/>
<use href="#din" x="762.4" y="87.8"/>
<use href="#das" x="787.4" y="98.0"/>
<use href="#dal" x="793.6" y="213.3"/>
<use href="#dal" x="681.4" y="210.4"/>
<use href="#dal" x="636.3" y="204.6"/>
<use href="#dal" x="842.0" y="171.7"/>
<use href="#dal" x="606.8" y="171.6"/>
<use href="#dal" x="863.2" y="203.1"/>
<use href="#das" x="618.6" y="101.5"/>
<use href="#dal" x="864.1" y="200.0"/>
<use href="#das" x="765.1" y="92.7"/>
<use href="#das" x="872.7" y="92.0"/>
<use href="#dal" x="837.7" y="174.0"/>
<use href="#das" x="882.5" y="96.6"/>
<use href="#din" x="611.3" y="82.9"/>
<use href="#das" x="708.5" y="86.5"/>
<use href="#das" x="818.5" y="84.4"/>
<use href="#das" x="580.5" y="94.5"/>
<use href="#das" x="760.4" y="103.6"/>
<use href="#das" x="744.5" y="98.5"/>
<use href="#dsb" x="645.9" y="58.3"/>
<use href="#din" x="648.0" y="17.1"/>
<use href="#dsb" x="779.5" y="33.3"/>
<use href="#dsb" x="582.3" y="194.3"/>
<use href="#dal" x="766.3" y="220.2"/>
<use href="#dal" x="824.6" y="170.0"/>
<use href="#din" x="709.3" y="95.1"/>
<use href="#dal" x="731.0" y="225.1"/>
<use href="#dal" x="710.7" y="148.6"/>
<use href="#dal" x="624.8" y="171.2"/>
<use href="#din" x="755.4" y="82.1"/>
<use href="#dsb" x="731.0" y="69.3"/>
<use href="#dsb" x="847.6" y="65.0"/>
<use href="#das" x="719.4" y="99.0"/>
<use href="#das" x="737.3" y="179.1"/>
<use href="#dal" x="807.5" y="227.8"/>
<use href="#dsb" x="747.3" y="47.9"/>
<use href="#das" x="794.3" y="91.1"/>
<use href="#din" x="703.4" y="65.4"/>
<use href="#dal" x="666.8" y="187.3"/>
<use href="#das" x="618.4" y="179.8"/>
<use href="#dal" x="637.4" y="227.2"/>
<use href="#din" x="684.0" y="96.3"/>
<use href="#das" x="878.6" y="89.6"/>
<use href="#dal" x="828.2" y="217.3"/>
<use href="#din" x="790.1" y="77.7"/>
<use href="#din" x="813.7" y="64.9"/>
<use href="#dsb" x="772.7" y="70.7"/>
<use href="#das" x="849.4" y="98.1"/>
<use href="#das" x="638.7" y="102.1"/>
<use href="#dsb" x="882.9" y="12.6"/>
<use href="#dal" x="670.1" y="164.7"/>
<use href="#dal" x="575.6" y="198.4"/>
<use href="#das" x="761.5" y="104.7"/>
<use href="#din" x="687.0" y="71.2"/>
<use href="#dal" x="769.1" y="225.6"/>
<use href="#dal" x="634.4" y="184.7"/>
<use href="#das" x="838.7" y="90.8"/>
<use href="#dal" x="698.4" y="213.8"/>
<use href="#dsb" x="634.1" y="50.3"/>
<use href="#das" x="621.5" y="102.4"/>
<use href="#dal" x="582.8" y="200.0"/>
<use href="#dal" x="680.0" y="215.5"/>
<use href="#dal" x="725.2" y="200.4"/>
<use href="#dal" x="597.7" y="210.3"/>
<use href="#din" x="595.4" y="81.3"/>
<use href="#dal" x="764.8" y="212.5"/>
<use href="#dal" x="823.4" y="182.4"/>
<use href="#dal" x="618.5" y="208.4"/>
<use href="#dal" x="653.0" y="188.1"/>
<use href="#dal" x="826.0" y="222.1"/>
<use href="#das" x="574.9" y="102.4"/>
<use href="#das" x="827.0" y="171.8"/>
<use href="#dal" x="576.3" y="196.1"/>
<use href="#dal" x="854.7" y="203.1"/>
<use href="#dal" x="644.4" y="176.6"/>
<use href="#dal" x="844.5" y="186.0"/>
<use href="#dal" x="604.2" y="225.6"/>
<use href="#dsb" x="719.5" y="62.5"/>
<use href="#din" x="825.9" y="71.1"/>
<use href="#din" x="656.6" y="79.6"/>
<use href="#dsb" x="610.7" y="56.1"/>
<use href="#das" x="745.7" y="83.2"/>
<use href="#das" x="679.5" y="102.7"/>
<use href="#din" x="698.7" y="72.1"/>
<use href="#das" x="663.2" y="97.3"/>
<use href="#din" x="859.0" y="76.0"/>
<use href="#dsb" x="749.5" y="65.2"/>
<use href="#das" x="612.2" y="106.9"/>
<use href="#dal" x="781.7" y="179.1"/>
<use href="#dal" x="694.6" y="206.6"/>
<use href="#das" x="774.1" y="84.7"/>
<use href="#din" x="688.3" y="41.9"/>
<use href="#das" x="663.2" y="131.8"/>
<use href="#din" x="812.2" y="32.9"/>
<use href="#dal" x="754.9" y="183.6"/>
<use href="#dsb" x="781.7" y="66.3"/>
<use href="#din" x="660.9" y="74.2"/>
<use href="#das" x="726.2" y="96.5"/>
<use href="#das" x="760.0" y="102.5"/>
<use href="#dal" x="619.6" y="204.5"/>
<use href="#dsb" x="829.4" y="56.9"/>
<use href="#din" x="612.1" y="88.3"/>
<use href="#dal" x="718.8" y="150.7"/>
<use href="#dal" x="613.8" y="198.9"/>
<use href="#dsb" x="711.4" y="39.7"/>
<use href="#dal" x="707.4" y="217.2"/>
<use href="#dal" x="758.3" y="189.6"/>
<use href="#dal" x="746.1" y="227.6"/>
<use href="#dal" x="760.5" y="177.0"/>
<use href="#din" x="671.9" y="81.0"/>
<use href="#dsb" x="833.2" y="15.8"/>
<use href="#das" x="792.9" y="28.9"/>
<use href="#das" x="780.4" y="111.7"/>
<use href="#das" x="626.1" y="102.5"/>
<use href="#dal" x="861.4" y="170.9"/>
<use href="#das" x="684.7" y="113.9"/>
<use href="#din" x="651.5" y="100.7"/>
<use href="#das" x="617.9" y="134.4"/>
<use href="#dal" x="798.2" y="135.7"/>
<use href="#dal" x="802.4" y="218.6"/>
<use href="#din" x="692.5" y="97.6"/>
<use href="#dsb" x="844.0" y="51.0"/>
<use href="#din" x="694.4" y="78.2"/>
<use href="#das" x="588.8" y="207.2"/>
<use href="#dsb" x="737.5" y="64.1"/>
<use href="#dsb" x="606.9" y="78.4"/>
<use href="#dsb" x="718.6" y="52.0"/>
<use href="#dsb" x="725.4" y="205.5"/>
<use href="#din" x="762.4" y="102.6"/>
<use href="#das" x="835.7" y="103.8"/>
<use href="#das" x="779.2" y="99.5"/>
<use href="#dal" x="821.0" y="172.8"/>
<use href="#din" x="655.9" y="69.3"/>
<use href="#dal" x="695.7" y="220.1"/>
<use href="#das" x="794.9" y="96.0"/>
<use href="#das" x="693.7" y="169.4"/>
<use href="#das" x="652.8" y="96.8"/>
<use href="#dal" x="764.8" y="212.1"/>
<use href="#dsb" x="590.2" y="72.0"/>
<use href="#dal" x="756.4" y="200.9"/>
<use href="#din" x="846.4" y="67.1"/>
<use href="#dal" x="770.3" y="222.3"/>
<use href="#din" x="679.9" y="75.8"/>
<use href="#dal" x="712.1" y="193.3"/>
<use href="#das" x="666.7" y="110.3"/>
<use href="#dsb" x="829.1" y="57.5"/>
<use href="#dal" x="606.0" y="225.2"/>
<use href="#dal" x="742.8" y="164.6"/>
<use href="#din" x="662.7" y="89.9"/>
<use href="#das" x="800.2" y="108.2"/>
<use href="#dal" x="666.6" y="221.0"/>
<use href="#das" x="724.0" y="107.3"/>
<use href="#das" x="786.0" y="103.1"/>
<use href="#dal" x="670.5" y="143.4"/>
<use href="#din" x="779.8" y="111.0"/>
<use href="#din" x="712.6" y="20.1"/>
<use href="#das" x="710.8" y="106.4"/>
<use href="#dal" x="806.5" y="206.0"/>
<use href="#das" x="864.5" y="96.7"/>
<use href="#dal" x="785.6" y="190.1"/>
<use href="#dal" x="714.8" y="159.0"/>
<use href="#dal" x="642.3" y="220.1"/>
<use href="#dal" x="736.8" y="207.3"/>
<use href="#dsb" x="725.8" y="64.5"/>
<use href="#das" x="597.6" y="106.9"/>
<use href="#din" x="657.1" y="78.6"/>
<use href="#das" x="652.9" y="108.9"/>
<use href="#dsb" x="578.4" y="63.2"/>
<use href="#dal" x="812.8" y="204.4"/>
<use href="#dal" x="662.1" y="159.8"/>
<use href="#dal" x="847.4" y="152.7"/>
<use href="#dal" x="765.8" y="172.4"/>
<use href="#dal" x="701.0" y="207.5"/>
<use href="#das" x="781.9" y="181.2"/>
<use href="#dal" x="872.1" y="164.2"/>
<use href="#din" x="780.7" y="74.5"/>
<use href="#das" x="777.0" y="95.1"/>
<use href="#din" x="606.4" y="72.4"/>
<use href="#das" x="576.6" y="107.2"/>
<use href="#das" x="854.3" y="94.7"/>
<use href="#das" x="691.0" y="101.7"/>
<use href="#das" x="857.6" y="91.5"/>
<use href="#dal" x="627.3" y="227.0"/>
<use href="#din" x="789.0" y="65.1"/>
<use href="#dal" x="689.5" y="187.3"/>
<use href="#das" x="814.7" y="108.4"/>
<use href="#dsb" x="770.1" y="55.9"/>
<use href="#das" x="824.8" y="31.6"/>
<use href="#das" x="697.9" y="97.5"/>
<use href="#das" x="723.1" y="94.6"/>
<use href="#das" x="868.5" y="95.0"/>
<use href="#das" x="661.0" y="105.2"/>
<use href="#das" x="735.0" y="92.2"/>
<use href="#das" x="875.7" y="101.3"/>
<use href="#dsb" x="841.5" y="141.2"/>
<use href="#das" x="588.4" y="115.8"/>
<use href="#din" x="871.3" y="38.3"/>
<use href="#dal" x="726.2" y="156.2"/>
<use href="#dal" x="753.5" y="212.3"/>
<use href="#dsb" x="803.1" y="73.1"/>
<use href="#das" x="583.5" y="103.7"/>
<use href="#dsb" x="875.7" y="64.4"/>
<use href="#din" x="819.9" y="68.5"/>
<use href="#dsb" x="664.0" y="56.2"/>
<use href="#dsb" x="842.7" y="50.8"/>
<use href="#das" x="827.7" y="94.2"/>
<use href="#das" x="815.9" y="94.5"/>
<use href="#dal" x="770.1" y="156.6"/>
<use href="#dsb" x="819.9" y="57.0"/>
<use href="#das" x="649.4" y="114.9"/>
<use href="#dsb" x="801.3" y="31.8"/>
<use href="#din" x="833.3" y="82.4"/>
<use href="#dal" x="848.8" y="219.6"/>
<use href="#dal" x="623.4" y="215.4"/>
<use href="#dal" x="615.8" y="194.6"/>
<use href="#das" x="677.6" y="102.5"/>
<use href="#dal" x="709.6" y="218.9"/>
<use href="#dal" x="639.4" y="185.8"/>
<use href="#dal" x="751.0" y="222.9"/>
<use href="#das" x="875.8" y="89.7"/>
<use href="#din" x="758.6" y="110.0"/>
<use href="#din" x="710.1" y="207.2"/>
<use href="#das" x="709.7" y="92.3"/>
<use href="#din" x="656.6" y="192.3"/>
<use href="#dal" x="750.9" y="222.5"/>
<use href="#das" x="812.7" y="88.5"/>
<use href="#din" x="787.6" y="100.9"/>
<use href="#dal" x="821.1" y="154.6"/>
<use href="#das" x="853.6" y="90.3"/>
<use href="#dal" x="624.3" y="221.2"/>
<use href="#dsb" x="823.9" y="53.1"/>
<use href="#das" x="579.3" y="106.3"/>
<use href="#das" x="676.1" y="92.2"/>
<use href="#das" x="598.0" y="111.2"/>
<use href="#das" x="601.0" y="94.8"/>
<use href="#dsb" x="747.6" y="63.3"/>
<use href="#dal" x="821.2" y="229.5"/>
<use href="#dal" x="576.5" y="226.5"/>
<use href="#das" x="662.6" y="54.4"/>
<use href="#din" x="861.6" y="65.2"/>
<use href="#dsb" x="612.9" y="148.3"/>
<use href="#das" x="715.7" y="98.4"/>
<use href="#das" x="819.0" y="91.5"/>
<use href="#dal" x="583.2" y="190.7"/>
<use href="#din" x="843.7" y="81.7"/>
<use href="#das" x="752.3" y="59.5"/>
<use href="#dsb" x="794.6" y="74.9"/>
<use href="#dsb" x="826.7" y="36.1"/>
<use href="#dal" x="748.7" y="171.7"/>
<use href="#das" x="605.7" y="96.4"/>
<use href="#din" x="708.5" y="96.8"/>
<use href="#dal" x="647.5" y="197.8"/>
<use href="#dsb" x="840.5" y="200.8"/>
<use href="#dsb" x="807.9" y="57.4"/>
<use href="#dal" x="619.2" y="203.0"/>
<use href="#dal" x="615.8" y="199.2"/>
<use href="#dal" x="642.2" y="155.6"/>
<use href="#das" x="578.1" y="103.3"/>
<use href="#dal" x="625.9" y="212.9"/>
<use href="#das" x="845.5" y="99.5"/>
<use href="#dsb" x="643.1" y="168.0"/>
<use href="#dal" x="674.7" y="172.1"/>
<use href="#dal" x="687.3" y="203.4"/>
<use href="#dal" x="677.4" y="196.4"/>
<use href="#dal" x="778.6" y="207.1"/>
<use href="#din" x="864.5" y="79.7"/>
<use href="#dal" x="822.4" y="178.8"/>
<use href="#din" x="635.7" y="32.2"/>
<use href="#dsb" x="704.1" y="56.3"/>
<use href="#din" x="829.3" y="141.0"/>
<use href="#das" x="711.2" y="101.3"/>
<use href="#dal" x="683.8" y="155.1"/>
<use href="#das" x="791.4" y="105.0"/>
<use href="#dsb" x="578.0" y="64.0"/>
<use href="#das" x="775.4" y="98.1"/>
<use href="#das" x="626.2" y="89.7"/>
<use href="#din" x="712.4" y="89.1"/>
<use href="#dsb" x="620.7" y="161.6"/>
<use href="#das" x="771.4" y="91.0"/>
<use href="#das" x="828.1" y="103.7"/>
<use href="#dal" x="756.9" y="181.1"/>
<use href="#dal" x="798.8" y="177.2"/>
<use href="#dal" x="870.7" y="172.7"/>
<use href="#dal" x="620.8" y="160.2"/>
<use href="#dsb" x="868.5" y="180.8"/>
<use href="#das" x="877.3" y="102.6"/>
<use href="#dsb" x="824.5" y="69.0"/>
<use href="#das" x="599.4" y="144.1"/>
<use href="#das" x="720.4" y="95.0"/>
<use href="#dal" x="586.6" y="179.9"/>
<use href="#das" x="645.6" y="100.9"/>
<use href="#das" x="824.2" y="98.1"/>
<use href="#dsb" x="697.4" y="57.8"/>
<use href="#dal" x="580.2" y="133.1"/>
<use href="#das" x="656.4" y="94.5"/>
<use href="#das" x="847.2" y="95.7"/>
<use href="#das" x="858.5" y="20.5"/>
<use href="#dal" x="846.6" y="175.9"/>
<use href="#das" x="780.1" y="111.4"/>
<use href="#dal" x="772.8" y="156.4"/>
<use href="#din" x="863.4" y="86.2"/>
<use href="#das" x="783.3" y="108.3"/>
<use href="#das" x="709.0" y="93.3"/>
<use href="#dsb" x="796.8" y="74.6"/>
<use href="#dsb" x="796.4" y="54.4"/>
<use href="#dal" x="716.8" y="158.6"/>
<use href="#das" x="674.7" y="105.8"/>
<use href="#das" x="693.4" y="113.0"/>
<use href="#dsb" x="633.0" y="53.7"/>
<use href="#dsb" x="648.0" y="178.4"/>
<use href="#dal" x="607.5" y="149.0"/>
<use href="#din" x="586.1" y="80.8"/>
<use href="#dal" x="643.3" y="160.5"/>
<use href="#dal" x="642.4" y="137.4"/>
<use href="#dal" x="732.8" y="127.1"/>
<use href="#das" x="823.7" y="83.2"/>
<use href="#dal" x="718.1" y="140.2"/>
<use href="#dal" x="883.7" y="190.3"/>
<use href="#das" x="701.8" y="92.0"/>
<use href="#dal" x="593.0" y="227.6"/>
<use href="#das" x="717.2" y="104.5"/>
<use href="#dsb" x="667.4" y="204.3"/>
<use href="#dsb" x="777.6" y="47.3"/>
<use href="#din" x="797.6" y="89.1"/>
<use href="#dal" x="591.9" y="180.0"/>
<use href="#din" x="628.5" y="79.0"/>
<use href="#dal" x="605.2" y="188.1"/>
<use href="#das" x="811.7" y="34.0"/>
<use href="#dal" x="573.3" y="210.8"/>
<use href="#din" x="863.4" y="72.0"/>
<use href="#das" x="674.7" y="103.2"/>
<use href="#din" x="638.4" y="78.4"/>
<use href="#das" x="840.3" y="17.6"/>
<use href="#dal" x="865.8" y="216.4"/>
<use href="#dal" x="579.4" y="140.7"/>
<use href="#das" x="866.3" y="98.2"/>
<use href="#dal" x="842.1" y="167.2"/>
<use href="#dal" x="877.3" y="193.4"/>
<use href="#das" x="692.2" y="92.6"/>
<use href="#das" x="714.5" y="101.1"/>
<use href="#dal" x="794.5" y="183.2"/>
<use href="#dsb" x="636.9" y="157.3"/>
<use href="#dal" x="763.1" y="204.3"/>
<use href="#das" x="798.4" y="178.3"/>
<use href="#dal" x="803.2" y="162.6"/>
<use href="#dal" x="869.7" y="224.7"/>
<use href="#das" x="737.4" y="99.1"/>
<use href="#das" x="640.6" y="93.1"/>
<use href="#dal" x="628.1" y="209.9"/>
<use href="#dsb" x="600.3" y="77.4"/>
<use href="#din" x="703.8" y="76.8"/>
<use href="#das" x="814.3" y="102.0"/>
<use href="#das" x="709.8" y="113.4"/>
<use href="#dal" x="584.9" y="192.4"/>
<use href="#dsb" x="826.1" y="65.0"/>
<use href="#din" x="745.3" y="95.9"/>
<use href="#dal" x="858.2" y="173.7"/>
<use href="#din" x="608.6" y="90.6"/>
<use href="#dal" x="738.5" y="186.4"/>
<use href="#din" x="657.3" y="71.8"/>
<use href="#dal" x="622.1" y="183.9"/>
<use href="#din" x="814.9" y="102.8"/>
<use href="#din" x="835.6" y="74.0"/>
<use href="#das" x="755.5" y="96.0"/>
<use href="#das" x="750.5" y="92.2"/>
<use href="#dsb" x="820.5" y="65.4"/>
<use href="#dal" x="834.6" y="221.9"/>
<use href="#dsb" x="792.9" y="67.7"/>
<use href="#dal" x="822.0" y="176.3"/>
<use href="#das" x="751.3" y="96.8"/>
<use href="#din" x="633.1" y="83.4"/>
<use href="#dsb" x="724.3" y="71.7"/>
<use href="#das" x="633.9" y="94.9"/>
<use href="#dal" x="682.6" y="183.9"/>
<use href="#das" x="740.2" y="88.7"/>
<use href="#das" x="835.8" y="80.6"/>
<use href="#dal" x="679.0" y="166.2"/>
<use href="#dal" x="772.0" y="158.5"/>
<use href="#din" x="631.0" y="93.9"/>
<use href="#dsb" x="863.9" y="36.0"/>
<use href="#das" x="811.2" y="101.8"/>
<use href="#dal" x="787.8" y="164.0"/>
<use href="#dsb" x="864.9" y="35.5"/>
<use href="#dal" x="764.1" y="230.3"/>
<use href="#dsb" x="642.0" y="63.5"/>
<use href="#dsb" x="577.3" y="39.1"/>
<use href="#das" x="873.3" y="139.6"/>
<use href="#das" x="873.1" y="135.8"/>
<use href="#dsb" x="604.4" y="78.6"/>
<use href="#din" x="699.7" y="61.2"/>
<use href="#dal" x="692.6" y="221.7"/>
<use href="#din" x="620.9" y="95.4"/>
<use href="#dal" x="641.6" y="198.3"/>
<use href="#dal" x="638.7" y="171.1"/>
<use href="#dal" x="597.0" y="214.2"/>
<use href="#dal" x="835.0" y="139.9"/>
<use href="#dal" x="576.3" y="184.5"/>
<use href="#dal" x="853.5" y="195.8"/>
<use href="#das" x="807.4" y="102.4"/>
<use href="#dal" x="588.6" y="223.0"/>
<use href="#das" x="860.0" y="128.0"/>
<use href="#das" x="751.9" y="91.5"/>
<use href="#dal" x="780.8" y="222.8"/>
<use href="#das" x="739.7" y="101.1"/>
<use href="#dsb" x="727.2" y="226.5"/>
<use href="#dal" x="732.6" y="162.9"/>
<use href="#das" x="750.9" y="86.4"/>
<use href="#das" x="665.5" y="104.5"/>
<use href="#das" x="828.0" y="93.9"/>
<use href="#das" x="757.4" y="55.8"/>
<use href="#dal" x="654.5" y="166.8"/>
<use href="#dal" x="823.0" y="156.8"/>
<use href="#dal" x="656.2" y="204.2"/>
<use href="#din" x="698.6" y="96.7"/>
<use href="#dal" x="604.4" y="185.9"/>
<use href="#din" x="689.8" y="68.0"/>
<use href="#dal" x="878.0" y="182.1"/>
<use href="#das" x="624.4" y="106.0"/>
<use href="#das" x="812.7" y="85.5"/>
<use href="#das" x="796.4" y="89.2"/>
<use href="#dal" x="881.3" y="180.8"/>
<use href="#dal" x="802.4" y="199.0"/>
<use href="#din" x="685.4" y="103.6"/>
<use href="#dal" x="735.2" y="218.9"/>
<use href="#dsb" x="662.5" y="43.7"/>
<use href="#das" x="627.0" y="99.3"/>
<use href="#dal" x="793.6" y="224.3"/>
<use href="#dsb" x="690.2" y="64.2"/>
<use href="#das" x="785.4" y="92.1"/>
<use href="#dal" x="694.4" y="199.3"/>
<use href="#das" x="700.8" y="109.6"/>
<use href="#dsb" x="670.5" y="61.8"/>
<use href="#das" x="796.6" y="22.8"/>
<use href="#das" x="833.9" y="80.9"/>
<use href="#dal" x="874.1" y="151.7"/>
<use href="#din" x="860.4" y="42.4"/>
<use href="#dal" x="786.2" y="167.6"/>
<use href="#dal" x="754.8" y="195.4"/>
<use href="#das" x="705.4" y="98.1"/>
<use href="#dal" x="722.3" y="206.1"/>
<use href="#din" x="861.9" y="92.9"/>
<use href="#das" x="809.9" y="111.7"/>
<use href="#dal" x="721.4" y="215.8"/>
<use href="#das" x="759.0" y="103.2"/>
<use href="#din" x="640.8" y="75.6"/>
<use href="#dal" x="677.3" y="178.5"/>
<use href="#dal" x="596.7" y="162.4"/>
<use href="#das" x="748.5" y="87.4"/>
<use href="#dal" x="837.6" y="140.9"/>
<use href="#din" x="794.0" y="217.7"/>
<use href="#das" x="734.3" y="103.4"/>
<use href="#dal" x="864.5" y="182.4"/>
<use href="#das" x="677.6" y="86.9"/>
<use href="#dal" x="697.3" y="169.6"/>
<use href="#dal" x="623.4" y="207.4"/>
<use href="#dal" x="817.7" y="187.4"/>
<use href="#dal" x="600.3" y="186.3"/>
<use href="#dal" x="833.7" y="231.2"/>
<use href="#dal" x="593.8" y="172.3"/>
<use href="#dal" x="685.1" y="226.5"/>
<use href="#das" x="702.4" y="112.1"/>
<use href="#das" x="804.6" y="104.7"/>
<use href="#dal" x="669.5" y="205.2"/>
<use href="#dsb" x="755.3" y="61.9"/>
<use href="#dal" x="612.3" y="173.5"/>
<use href="#das" x="866.3" y="105.2"/>
<use href="#din" x="833.6" y="18.7"/>
<use href="#dal" x="733.3" y="183.9"/>
<use href="#das" x="664.0" y="107.0"/>
<use href="#dal" x="727.2" y="198.7"/>
<use href="#das" x="709.7" y="90.5"/>
<use href="#din" x="741.2" y="84.7"/>
<use href="#das" x="804.4" y="90.3"/>
<use href="#das" x="873.5" y="104.0"/>
<use href="#dsb" x="780.1" y="56.5"/>
<use href="#dal" x="720.4" y="212.8"/>
<use href="#das" x="856.2" y="92.8"/>
<use href="#das" x="863.8" y="95.9"/>
<use href="#din" x="763.5" y="84.2"/>
<use href="#das" x="808.5" y="104.8"/>
<use href="#das" x="795.8" y="94.9"/>
<use href="#dal" x="816.1" y="216.6"/>
<use href="#dal" x="834.9" y="159.1"/>
<use href="#das" x="814.8" y="100.3"/>
<use href="#dal" x="805.7" y="231.9"/>
<use href="#dsb" x="865.4" y="55.0"/>
<use href="#das" x="583.4" y="101.7"/>
<use href="#din" x="748.2" y="91.3"/>
<use href="#das" x="632.0" y="95.9"/>
<use href="#dal" x="733.1" y="206.4"/>
<use href="#das" x="831.7" y="81.7"/>
<use href="#dsb" x="669.6" y="55.8"/>
<use href="#din" x="606.0" y="20.1"/>
<use href="#das" x="874.2" y="101.4"/>
<use href="#dal" x="809.2" y="215.8"/>
<use href="#din" x="830.8" y="92.7"/>
<use href="#din" x="623.0" y="16.8"/>
<use href="#das" x="640.0" y="111.4"/>
<use href="#dal" x="731.0" y="198.3"/>
<use href="#dal" x="634.8" y="182.5"/>
<use href="#dal" x="691.4" y="220.3"/>
<use href="#dal" x="687.0" y="196.0"/>
<use href="#dal" x="711.3" y="200.5"/>
<use href="#dal" x="625.5" y="147.8"/>
<use href="#das" x="857.9" y="107.9"/>
<use href="#das" x="739.1" y="94.2"/>
<use href="#das" x="587.3" y="106.1"/>
<use href="#din" x="693.6" y="92.0"/>
<use href="#dal" x="859.1" y="143.4"/>
<use href="#din" x="718.0" y="114.8"/>
<use href="#das" x="764.4" y="90.0"/>
<use href="#dsb" x="785.6" y="69.9"/>
<use href="#dal" x="816.3" y="178.2"/>
<use href="#dal" x="712.3" y="211.1"/>
<use href="#das" x="718.2" y="98.4"/>
<use href="#dsb" x="605.5" y="69.5"/>
<use href="#das" x="880.7" y="101.7"/>
<use href="#din" x="747.4" y="93.0"/>
<use href="#das" x="696.7" y="109.2"/>
<use href="#din" x="676.1" y="92.8"/>
<use href="#dsb" x="804.1" y="58.8"/>
<use href="#dal" x="846.9" y="165.4"/>
<use href="#dal" x="590.3" y="224.3"/>
<use href="#das" x="700.7" y="88.9"/>
<use href="#dal" x="697.8" y="155.2"/>
<use href="#dal" x="611.0" y="195.3"/>
<use href="#das" x="652.3" y="102.5"/>
<use href="#dal" x="651.4" y="224.0"/>
<use href="#das" x="846.4" y="99.4"/>
<use href="#das" x="666.0" y="98.6"/>
<use href="#das" x="842.8" y="92.6"/>
<use href="#din" x="607.5" y="92.4"/>
<use href="#dal" x="746.7" y="162.5"/>
<use href="#dal" x="653.4" y="231.7"/>
<use href="#dal" x="804.5" y="226.9"/>
<use href="#dal" x="838.0" y="231.4"/>
<use href="#din" x="780.5" y="80.1"/>
<use href="#din" x="663.6" y="109.5"/>
<use href="#das" x="666.1" y="115.1"/>
<use href="#das" x="693.0" y="114.0"/>
<use href="#din" x="708.4" y="24.4"/>
<use href="#din" x="745.3" y="91.0"/>
<use href="#din" x="612.3" y="103.2"/>
<use href="#dsb" x="686.8" y="64.1"/>
<use href="#das" x="813.8" y="90.4"/>
<use href="#dal" x="634.8" y="130.6"/>
<use href="#dal" x="843.7" y="201.9"/>
<use href="#dsb" x="744.3" y="47.0"/>
<use href="#das" x="579.9" y="92.9"/>
<use href="#dal" x="842.4" y="208.1"/>
<use href="#dal" x="854.4" y="212.0"/>
<use href="#dal" x="736.9" y="231.7"/>
<use href="#dal" x="598.6" y="211.6"/>
<use href="#das" x="685.8" y="100.0"/>
<use href="#dal" x="738.8" y="174.9"/>
<use href="#das" x="656.2" y="97.7"/>
<use href="#das" x="766.9" y="90.5"/>
<use href="#dal" x="639.8" y="152.1"/>
<use href="#din" x="773.0" y="63.7"/>
<use href="#das" x="829.4" y="97.5"/>
<use href="#dal" x="622.4" y="158.9"/>
<use href="#das" x="848.8" y="89.2"/>
<use href="#das" x="762.8" y="99.6"/>
<use href="#din" x="776.9" y="75.7"/>
<use href="#das" x="726.2" y="99.5"/>
<use href="#dsb" x="747.1" y="167.0"/>
<use href="#das" x="744.1" y="94.2"/>
<use href="#dsb" x="720.9" y="82.6"/>
<use href="#das" x="594.9" y="111.3"/>
<use href="#dal" x="578.6" y="158.0"/>
<use href="#dal" x="581.6" y="167.4"/>
<use href="#dal" x="844.9" y="186.0"/>
<use href="#das" x="688.6" y="97.1"/>
<use href="#das" x="637.8" y="116.6"/>
<use href="#dsb" x="813.6" y="39.3"/>
<use href="#dal" x="843.5" y="160.0"/>
<use href="#dal" x="789.3" y="227.8"/>
<use href="#dal" x="664.3" y="231.7"/>
<use href="#dal" x="805.6" y="175.7"/>
<use href="#dal" x="655.6" y="173.3"/>
<use href="#dal" x="647.8" y="157.3"/>
<use href="#dal" x="827.1" y="192.0"/>
<use href="#dal" x="669.5" y="159.9"/>
<use href="#dal" x="783.6" y="184.0"/>
<use href="#din" x="705.6" y="106.1"/>
<use href="#das" x="631.0" y="93.3"/>
<use href="#das" x="744.0" y="100.9"/>
<use href="#dal" x="878.1" y="175.3"/>
<use href="#dal" x="650.4" y="212.8"/>
<use href="#das" x="847.4" y="95.0"/>
<use href="#das" x="852.6" y="85.1"/>
<use href="#din" x="777.2" y="75.1"/>
<use href="#din" x="681.0" y="109.3"/>
<use href="#din" x="877.6" y="101.1"/>
<use href="#das" x="621.2" y="101.4"/>
<use href="#dsb" x="649.8" y="53.4"/>
<use href="#das" x="803.6" y="87.6"/>
<use href="#din" x="782.5" y="76.7"/>
<use href="#das" x="578.9" y="116.5"/>
<use href="#dsb" x="598.2" y="136.3"/>
<use href="#dal" x="701.5" y="187.8"/>
<use href="#das" x="615.8" y="104.7"/>
<use href="#das" x="633.0" y="108.2"/>
<use href="#din" x="661.0" y="106.2"/>
<use href="#das" x="739.1" y="90.6"/>
<use href="#das" x="646.2" y="108.4"/>
<use href="#das" x="673.0" y="96.3"/>
<use href="#dal" x="573.2" y="146.2"/>
<use href="#dal" x="854.4" y="136.6"/>
<use href="#dal" x="787.1" y="153.2"/>
<use href="#dal" x="687.6" y="154.9"/>
<use href="#das" x="750.6" y="91.4"/>
<use href="#das" x="795.1" y="97.5"/>
<use href="#dal" x="685.3" y="229.0"/>
<use href="#das" x="580.6" y="99.2"/>
<use href="#din" x="864.9" y="68.6"/>
<use href="#din" x="822.5" y="86.6"/>
<use href="#das" x="731.6" y="36.3"/>
<use href="#das" x="827.1" y="83.6"/>
<use href="#das" x="779.8" y="90.8"/>
<use href="#das" x="810.6" y="93.2"/>
<use href="#dsb" x="882.8" y="58.8"/>
<use href="#das" x="843.0" y="100.5"/>
<use href="#das" x="622.4" y="112.4"/>
<use href="#dsb" x="687.1" y="58.1"/>
<use href="#din" x="709.9" y="90.4"/>
<use href="#dal" x="808.2" y="204.7"/>
<use href="#das" x="850.5" y="102.9"/>
<use href="#dal" x="610.5" y="188.3"/>
<use href="#das" x="802.8" y="104.4"/>
<use href="#din" x="732.6" y="85.3"/>
<use href="#dal" x="728.6" y="189.3"/>
<use href="#dsb" x="815.4" y="73.0"/>
<use href="#das" x="808.9" y="101.3"/>
<use href="#dal" x="709.2" y="186.7"/>
<use href="#dal" x="576.4" y="163.4"/>
<use href="#das" x="855.5" y="109.1"/>
<use href="#das" x="691.9" y="96.9"/>
<use href="#das" x="702.6" y="94.8"/>
<use href="#das" x="670.1" y="107.7"/>
<use href="#dsb" x="793.0" y="59.7"/>
<use href="#das" x="879.4" y="101.9"/>
<use href="#dsb" x="763.7" y="71.6"/>
<use href="#dsb" x="833.8" y="57.4"/>
<use href="#das" x="739.0" y="90.9"/>
<use href="#dsb" x="727.2" y="179.3"/>
<use href="#din" x="594.6" y="168.5"/>
<use href="#din" x="667.8" y="79.8"/>
<use href="#dal" x="723.4" y="168.8"/>
<use href="#das" x="769.5" y="89.5"/>
<use href="#das" x="766.1" y="80.4"/>
<use href="#din" x="768.2" y="68.6"/>
<use href="#dal" x="672.0" y="163.9"/>
<use href="#das" x="664.8" y="96.2"/>
<use href="#dsb" x="638.9" y="194.1"/>
<use href="#din" x="856.6" y="75.3"/>
<use href="#dal" x="626.8" y="201.5"/>
<use href="#din" x="736.0" y="83.7"/>
<use href="#dal" x="667.4" y="172.7"/>
<use href="#din" x="633.9" y="101.7"/>
<use href="#dal" x="691.3" y="229.5"/>
<use href="#dal" x="711.2" y="208.3"/>
<use href="#das" x="605.9" y="196.7"/>
<use href="#das" x="663.4" y="93.2"/>
<use href="#din" x="629.1" y="63.2"/>
<use href="#din" x="575.5" y="30.8"/>
<use href="#dsb" x="744.1" y="78.5"/>
<use href="#das" x="615.4" y="109.8"/>
<use href="#dal" x="801.8" y="191.4"/>
<use href="#das" x="667.9" y="159.0"/>
<use href="#dsb" x="803.3" y="229.5"/>
<use href="#din" x="706.9" y="20.8"/>
<use href="#dal" x="842.1" y="211.6"/>
<use href="#din" x="863.7" y="94.0"/>
<use href="#din" x="797.2" y="86.3"/>
<use href="#din" x="658.6" y="75.9"/>
<use href="#dal" x="798.6" y="224.9"/>
<use href="#dsb" x="605.9" y="62.5"/>
<use href="#das" x="785.1" y="96.8"/>
<use href="#das" x="749.6" y="101.5"/>
<use href="#dal" x="849.8" y="174.8"/>
<use href="#dal" x="861.6" y="192.5"/>
<use href="#dal" x="876.1" y="181.3"/>
<use href="#dal" x="709.5" y="182.1"/>
<use href="#dal" x="680.2" y="183.0"/>
<use href="#dal" x="606.8" y="161.4"/>
<use href="#dal" x="620.5" y="159.3"/>
<use href="#dal" x="759.5" y="174.1"/>
<use href="#dsb" x="732.4" y="73.1"/>
<use href="#dsb" x="814.4" y="61.9"/>
<use href="#dal" x="796.6" y="213.7"/>
<use href="#das" x="658.4" y="99.6"/>
<use href="#das" x="706.1" y="100.2"/>
<use href="#das" x="791.1" y="85.6"/>
<use href="#dal" x="824.2" y="204.6"/>
<use href="#dal" x="684.7" y="162.7"/>
<use href="#din" x="688.2" y="90.5"/>
<use href="#das" x="755.4" y="227.7"/>
<use href="#dal" x="646.7" y="162.4"/>
<use href="#dal" x="795.2" y="150.3"/>
<use href="#das" x="738.2" y="98.7"/>
<use href="#dal" x="621.7" y="176.7"/>
<use href="#dsb" x="674.6" y="69.9"/>
<use href="#din" x="668.9" y="80.1"/>
<use href="#dsb" x="836.0" y="68.8"/>
<use href="#das" x="667.7" y="98.3"/>
<use href="#din" x="689.7" y="78.8"/>
<use href="#din" x="788.0" y="96.3"/>
<use href="#din" x="686.6" y="77.6"/>
<use href="#das" x="714.6" y="111.5"/>
<use href="#dal" x="656.8" y="185.0"/>
<use href="#din" x="768.2" y="92.5"/>
<use href="#dal" x="733.3" y="180.8"/>
<use href="#das" x="674.4" y="42.0"/>
<use href="#din" x="596.8" y="24.0"/>
<use href="#das" x="857.7" y="82.6"/>
<use href="#dal" x="648.9" y="147.2"/>
<use href="#das" x="601.0" y="103.3"/>
<use href="#din" x="791.3" y="86.2"/>
<use href="#das" x="872.8" y="108.8"/>
<use href="#dal" x="634.0" y="198.9"/>
<use href="#dal" x="719.4" y="202.1"/>
<use href="#din" x="804.1" y="81.1"/>
<use href="#dal" x="872.6" y="197.3"/>
<use href="#dsb" x="576.8" y="73.7"/>
<use href="#din" x="670.5" y="101.2"/>
<use href="#dal" x="664.7" y="147.7"/>
<use href="#das" x="783.3" y="97.7"/>
<use href="#das" x="640.1" y="87.7"/>
<use href="#din" x="624.4" y="75.3"/>
<use href="#dsb" x="599.7" y="64.5"/>
<use href="#dal" x="693.3" y="160.1"/>
<use href="#das" x="681.0" y="121.0"/>
<use href="#das" x="599.8" y="97.8"/>
<use href="#das" x="612.9" y="98.6"/>
<use href="#dsb" x="638.6" y="44.3"/>
<use href="#dal" x="685.1" y="211.9"/>
<use href="#dal" x="580.8" y="206.5"/>
<use href="#din" x="660.3" y="109.2"/>
<use href="#das" x="646.5" y="229.4"/>
<use href="#dal" x="721.4" y="158.9"/>
<use href="#das" x="798.1" y="94.0"/>
<use href="#din" x="812.4" y="73.1"/>
<use href="#das" x="659.8" y="108.0"/>
<use href="#din" x="582.0" y="85.5"/>
<use href="#dal" x="611.0" y="220.3"/>
<use href="#das" x="762.9" y="83.9"/>
<use href="#din" x="581.2" y="104.1"/>
<use href="#dsb" x="725.5" y="79.6"/>
<use href="#din" x="822.6" y="102.9"/>
<use href="#das" x="738.5" y="106.5"/>
<use href="#das" x="651.2" y="98.7"/>
<use href="#das" x="838.9" y="96.8"/>
<use href="#das" x="790.0" y="92.5"/>
<use href="#dal" x="604.6" y="196.4"/>
<use href="#din" x="703.1" y="89.1"/>
<use href="#das" x="653.6" y="104.0"/>
<use href="#dal" x="828.5" y="149.5"/>
<use href="#das" x="835.7" y="15.7"/>
<use href="#dal" x="683.2" y="206.2"/>
<use href="#das" x="804.3" y="62.6"/>
<use href="#das" x="702.2" y="95.7"/>
<use href="#das" x="824.2" y="195.6"/>
<use href="#das" x="794.8" y="95.2"/>
<use href="#dal" x="811.3" y="147.3"/>
<use href="#dal" x="767.9" y="227.4"/>
<use href="#das" x="677.3" y="92.1"/>
<use href="#das" x="669.6" y="91.5"/>
<use href="#dal" x="865.1" y="139.9"/>
<use href="#din" x="841.4" y="24.2"/>
<use href="#das" x="829.8" y="104.9"/>
<use href="#dal" x="594.5" y="166.3"/>
<use href="#das" x="677.0" y="103.0"/>
<use href="#dal" x="686.3" y="173.6"/>
<use href="#din" x="602.1" y="93.4"/>
<use href="#dal" x="766.7" y="150.9"/>
<use href="#das" x="858.8" y="96.7"/>
<use href="#das" x="741.0" y="90.0"/>
<use href="#dsb" x="632.6" y="64.3"/>
<use href="#dal" x="681.9" y="169.8"/>
<use href="#das" x="816.5" y="91.9"/>
<use href="#das" x="678.2" y="106.9"/>
<use href="#das" x="866.0" y="90.7"/>
<use href="#dal" x="765.0" y="132.7"/>
<use href="#das" x="683.8" y="92.8"/>
<use href="#din" x="826.4" y="69.1"/>
<use href="#das" x="594.6" y="95.0"/>
<use href="#dsb" x="633.9" y="225.5"/>
<use href="#dal" x="795.4" y="164.3"/>
<use href="#das" x="787.9" y="86.6"/>
<use href="#dal" x="578.4" y="175.5"/>
<use href="#din" x="597.4" y="68.1"/>
<use href="#dal" x="639.0" y="222.9"/>
<use href="#dal" x="590.1" y="230.7"/>
<use href="#dal" x="603.8" y="147.0"/>
<use href="#dal" x="672.5" y="202.1"/>
<use href="#dsb" x="826.4" y="53.3"/>
<use href="#das" x="794.0" y="161.8"/>
<use href="#din" x="805.7" y="110.7"/>
<use href="#dal" x="672.4" y="153.3"/>
<use href="#das" x="809.6" y="108.1"/>
<use href="#dal" x="721.0" y="199.2"/>
<use href="#dal" x="826.7" y="217.3"/>
<use href="#din" x="698.8" y="86.6"/>
<use href="#din" x="780.0" y="20.1"/>
<use href="#din" x="613.8" y="85.7"/>
<use href="#das" x="771.3" y="92.6"/>
<use href="#dal" x="870.1" y="216.7"/>
<use href="#das" x="640.0" y="114.4"/>
<use href="#dsb" x="777.8" y="55.9"/>
<use href="#din" x="637.6" y="82.2"/>
<use href="#dal" x="849.2" y="171.9"/>
<use href="#das" x="866.6" y="93.9"/>
<use href="#dsb" x="715.9" y="204.6"/>
<use href="#dal" x="711.2" y="157.3"/>
<use href="#das" x="596.6" y="92.6"/>
<use href="#das" x="783.9" y="100.2"/>
<use href="#das" x="760.9" y="84.6"/>
<use href="#dal" x="668.7" y="162.8"/>
<use href="#dal" x="783.3" y="180.4"/>
<use href="#dal" x="836.2" y="227.7"/>
<use href="#dsb" x="724.7" y="58.7"/>
<use href="#das" x="769.9" y="104.2"/>
<use href="#das" x="754.2" y="101.8"/>
<use href="#dal" x="648.2" y="155.3"/>
<use href="#das" x="846.2" y="161.2"/>
<use href="#das" x="691.2" y="99.3"/>
<use href="#dsb" x="872.6" y="53.4"/>
<use href="#das" x="656.0" y="186.1"/>
<use href="#das" x="706.2" y="113.1"/>
<use href="#dal" x="571.3" y="224.8"/>
<use href="#das" x="673.5" y="101.1"/>
<use href="#dal" x="759.4" y="207.1"/>
<use href="#dal" x="577.3" y="202.7"/>
<use href="#din" x="734.2" y="197.8"/>
<use href="#das" x="858.3" y="96.2"/>
<use href="#dal" x="700.8" y="194.1"/>
<use href="#dal" x="777.1" y="231.2"/>
<use href="#das" x="629.3" y="93.8"/>
<use href="#das" x="847.3" y="95.6"/>
<use href="#dal" x="606.6" y="136.1"/>
<use href="#das" x="738.8" y="110.9"/>
<use href="#das" x="673.7" y="105.3"/>
<use href="#das" x="864.7" y="89.4"/>
<use href="#das" x="858.9" y="98.1"/>
<use href="#din" x="877.2" y="60.6"/>
<use href="#das" x="739.0" y="103.2"/>
<use href="#das" x="815.1" y="83.2"/>
<use href="#das" x="619.5" y="93.7"/>
<use href="#das" x="618.1" y="104.2"/>
<use href="#dal" x="820.6" y="208.7"/>
<use href="#dal" x="751.8" y="156.3"/>
<use href="#dsb" x="640.2" y="149.7"/>
<use href="#dsb" x="803.3" y="40.1"/>
<use href="#din" x="631.8" y="85.8"/>
<use href="#dal" x="662.5" y="195.4"/>
<use href="#das" x="786.9" y="100.2"/>
<use href="#das" x="624.7" y="98.6"/>
<use href="#dsb" x="700.8" y="60.7"/>
<use href="#dal" x="679.4" y="186.7"/>
<use href="#dal" x="660.9" y="172.1"/>
<use href="#das" x="580.7" y="103.3"/>
<use href="#das" x="785.9" y="105.8"/>
<use href="#das" x="667.6" y="117.0"/>
<use href="#das" x="712.4" y="110.4"/>
<use href="#dal" x="672.5" y="213.8"/>
<use href="#das" x="873.3" y="93.7"/>
<use href="#dal" x="836.2" y="177.0"/>
<use href="#das" x="703.3" y="107.5"/>
<use href="#dal" x="579.6" y="183.6"/>
<use href="#dal" x="638.7" y="162.1"/>
<use href="#dal" x="833.7" y="190.1"/>
<use href="#dal" x="743.9" y="175.6"/>
<use href="#din" x="674.2" y="82.7"/>
<use href="#das" x="595.2" y="91.4"/>
<use href="#dsb" x="759.7" y="59.3"/>
<use href="#das" x="840.4" y="94.9"/>
<use href="#das" x="880.5" y="101.4"/>
<use href="#das" x="717.7" y="90.8"/>
<use href="#din" x="777.5" y="68.9"/>
<use href="#dal" x="630.7" y="167.8"/>
<use href="#dal" x="815.5" y="159.2"/>
<use href="#das" x="733.7" y="98.7"/>
<use href="#dal" x="599.8" y="174.7"/>
<use href="#din" x="785.8" y="83.2"/>
<use href="#din" x="577.3" y="102.6"/>
<use href="#dal" x="851.5" y="224.8"/>
<use href="#din" x="853.7" y="60.7"/>
<use href="#dal" x="667.3" y="157.3"/>
<use href="#dal" x="659.1" y="211.1"/>
<use href="#din" x="777.4" y="84.1"/>
<use href="#das" x="614.4" y="52.0"/>
<use href="#din" x="735.9" y="63.9"/>
<use href="#dal" x="831.9" y="163.8"/>
<use href="#din" x="847.5" y="82.4"/>
<use href="#das" x="824.6" y="88.4"/>
<use href="#dsb" x="648.4" y="62.7"/>
<use href="#dsb" x="678.8" y="206.1"/>
<use href="#dsb" x="715.7" y="65.0"/>
<use href="#dal" x="856.7" y="187.3"/>
<use href="#dal" x="824.3" y="207.1"/>
<use href="#das" x="677.5" y="87.8"/>
<use href="#das" x="794.7" y="94.2"/>
<use href="#dal" x="707.3" y="171.2"/>
<use href="#das" x="653.7" y="107.4"/>
<use href="#dsb" x="597.6" y="72.9"/>
<use href="#dsb" x="744.1" y="19.7"/>
<use href="#dsb" x="739.4" y="63.0"/>
<use href="#das" x="767.3" y="105.0"/>
<use href="#din" x="600.2" y="91.0"/>
<use href="#dal" x="859.5" y="175.4"/>
<use href="#dal" x="771.0" y="213.3"/>
<use href="#das" x="761.7" y="108.5"/>
<use href="#din" x="745.1" y="73.4"/>
<use href="#din" x="828.8" y="100.1"/>
<use href="#din" x="803.9" y="82.9"/>
<use href="#dal" x="684.6" y="164.0"/>
<use href="#das" x="788.3" y="100.8"/>
<use href="#dal" x="716.9" y="194.6"/>
<use href="#das" x="687.9" y="101.4"/>
<use href="#das" x="784.7" y="90.7"/>
<use href="#din" x="665.1" y="80.2"/>
<use href="#das" x="592.6" y="121.8"/>
<use href="#dal" x="615.7" y="155.3"/>
<use href="#dsb" x="593.6" y="55.1"/>
<use href="#dal" x="620.5" y="217.2"/>
<use href="#din" x="744.1" y="80.9"/>
<use href="#das" x="825.9" y="94.0"/>
<use href="#dal" x="584.5" y="160.7"/>
<use href="#dal" x="861.9" y="180.9"/>
<use href="#din" x="829.9" y="86.7"/>
<use href="#das" x="804.5" y="102.2"/>
<use href="#das" x="733.6" y="86.3"/>
<use href="#das" x="832.4" y="87.5"/>
<use href="#dal" x="574.2" y="184.8"/>
<use href="#das" x="641.1" y="88.4"/>
<use href="#din" x="818.7" y="76.9"/>
<use href="#dsb" x="824.9" y="7.1"/>
<use href="#das" x="719.4" y="107.5"/>
<use href="#das" x="795.1" y="46.1"/>
<use href="#das" x="654.2" y="104.5"/>
<use href="#dsb" x="678.9" y="47.1"/>
<use href="#dal" x="773.7" y="206.3"/>
<use href="#das" x="742.4" y="92.7"/>
<use href="#das" x="679.9" y="111.2"/>
<use href="#din" x="621.2" y="87.1"/>
<use href="#dal" x="873.0" y="211.5"/>
<use href="#das" x="617.6" y="101.7"/>
<use href="#din" x="732.3" y="22.3"/>
<use href="#dal" x="740.0" y="170.9"/>
<use href="#dal" x="616.0" y="192.9"/>
<use href="#dal" x="799.5" y="171.2"/>
<use href="#din" x="589.7" y="73.0"/>
<use href="#dal" x="738.7" y="210.9"/>
<use href="#dsb" x="790.9" y="62.2"/>
<use href="#dal" x="711.1" y="198.9"/>
<use href="#dal" x="722.0" y="190.4"/>
<use href="#dal" x="707.3" y="179.4"/>
<use href="#das" x="824.1" y="92.9"/>
<use href="#dal" x="803.3" y="218.7"/>
<use href="#dsb" x="873.1" y="47.3"/>
<use href="#dal" x="766.4" y="209.2"/>
<use href="#dal" x="808.9" y="166.1"/>
<use href="#dsb" x="612.0" y="72.5"/>
<use href="#din" x="621.6" y="98.1"/>
<use href="#din" x="714.1" y="86.2"/>
<use href="#dal" x="859.3" y="129.6"/>
<use href="#dsb" x="696.4" y="167.5"/>
<use href="#dal" x="638.1" y="181.3"/>
<use href="#din" x="608.5" y="40.8"/>
<use href="#das" x="597.3" y="214.7"/>
<use href="#dsb" x="589.9" y="72.6"/>
<use href="#din" x="766.5" y="89.0"/>
<use href="#das" x="683.4" y="87.7"/>
<use href="#das" x="774.7" y="224.9"/>
<use href="#dsb" x="674.1" y="156.9"/>
<use href="#dal" x="614.6" y="218.9"/>
<use href="#das" x="757.5" y="99.4"/>
<use href="#das" x="672.8" y="117.8"/>
<use href="#dal" x="579.9" y="198.8"/>
<use href="#dsb" x="784.3" y="74.0"/>
<use href="#das" x="707.3" y="92.5"/>
<use href="#dal" x="677.0" y="199.6"/>
<use href="#din" x="781.3" y="98.3"/>
<use href="#dal" x="711.0" y="180.6"/>
<use href="#das" x="814.9" y="86.7"/>
<use href="#dal" x="781.0" y="200.0"/>
<use href="#das" x="702.5" y="96.2"/>
<use href="#dal" x="634.1" y="210.4"/>
<use href="#din" x="601.9" y="88.4"/>
<use href="#dal" x="701.8" y="206.8"/>
<use href="#das" x="612.9" y="103.0"/>
<use href="#dal" x="715.5" y="150.2"/>
<use href="#din" x="633.0" y="86.7"/>
<use href="#din" x="818.7" y="99.8"/>
<use href="#dal" x="709.6" y="227.9"/>
<use href="#din" x="843.8" y="106.1"/>
<use href="#das" x="629.1" y="118.0"/>
<use href="#dal" x="585.9" y="210.0"/>
<use href="#dal" x="617.0" y="216.8"/>
<use href="#din" x="768.3" y="204.4"/>
<use href="#din" x="606.4" y="81.5"/>
<use href="#dsb" x="847.0" y="44.0"/>
<use href="#dal" x="882.8" y="127.5"/>
<use href="#dal" x="704.9" y="169.1"/>
<use href="#das" x="577.7" y="109.4"/>
<use href="#das" x="633.6" y="102.1"/>
<use href="#dsb" x="682.6" y="74.9"/>
<use href="#din" x="587.1" y="75.4"/>
<use href="#das" x="791.4" y="91.6"/>
<use href="#dal" x="621.7" y="163.0"/>
<use href="#das" x="692.9" y="144.5"/>
<use href="#dal" x="612.7" y="195.8"/>
<use href="#dsb" x="711.9" y="45.1"/>
<use href="#din" x="761.0" y="84.5"/>
<use href="#din" x="779.6" y="90.0"/>
<use href="#din" x="718.3" y="41.6"/>
<use href="#din" x="601.8" y="89.5"/>
<use href="#din" x="593.3" y="93.1"/>
<use href="#das" x="714.7" y="102.9"/>
<use href="#din" x="575.5" y="21.4"/>
<use href="#dal" x="589.7" y="174.0"/>
<use href="#dsb" x="779.5" y="181.2"/>
<use href="#dal" x="618.7" y="205.9"/>
<use href="#das" x="825.4" y="103.9"/>
<use href="#das" x="612.9" y="108.4"/>
<use href="#din" x="784.9" y="105.9"/>
<use href="#dsb" x="833.8" y="47.4"/>
<use href="#dal" x="845.7" y="191.5"/>
<use href="#dal" x="772.4" y="165.4"/>
<use href="#din" x="698.6" y="81.0"/>
<use href="#dsb" x="772.8" y="8.2"/>
<use href="#dal" x="747.4" y="197.2"/>
<use href="#das" x="596.6" y="105.9"/>
<use href="#das" x="635.4" y="108.7"/>
<use href="#din" x="694.7" y="85.0"/>
<use href="#das" x="705.1" y="214.7"/>
<use href="#din" x="776.2" y="131.3"/>
<use href="#das" x="718.8" y="98.9"/>
<use href="#dal" x="675.0" y="202.2"/>
<use href="#das" x="605.8" y="96.8"/>
<use href="#das" x="865.0" y="99.3"/>
<use href="#dal" x="835.6" y="205.9"/>
<use href="#dal" x="840.9" y="167.0"/>
<use href="#dal" x="672.5" y="186.7"/>
<use href="#das" x="848.2" y="84.8"/>
<use href="#das" x="667.5" y="111.4"/>
<use href="#das" x="604.0" y="100.0"/>
<use href="#dal" x="855.0" y="153.2"/>
<use href="#dal" x="640.7" y="165.8"/>
<use href="#das" x="875.4" y="86.3"/>
<use href="#dal" x="707.4" y="143.2"/>
<use href="#dal" x="880.1" y="162.3"/>
<use href="#dsb" x="663.6" y="48.1"/>
<use href="#das" x="745.6" y="98.2"/>
<use href="#din" x="871.4" y="86.7"/>
<use href="#dsb" x="728.0" y="62.9"/>
<use href="#din" x="714.8" y="141.4"/>
<use href="#dal" x="683.3" y="180.7"/>
<use href="#din" x="595.3" y="75.5"/>
<use href="#das" x="579.5" y="120.7"/>
<use href="#din" x="802.3" y="15.1"/>
<use href="#das" x="597.4" y="114.3"/>
<use href="#dal" x="808.6" y="170.3"/>
<use href="#das" x="715.6" y="110.0"/>
<use href="#dal" x="667.7" y="193.7"/>
<use href="#dal" x="674.7" y="177.3"/>
<use href="#dal" x="784.4" y="213.1"/>
<use href="#das" x="595.1" y="102.7"/>
<use href="#dal" x="587.4" y="154.2"/>
<use href="#dal" x="761.8" y="212.7"/>
<use href="#das" x="594.8" y="98.6"/>
<use href="#din" x="575.1" y="126.9"/>
<use href="#das" x="594.4" y="118.1"/>
<use href="#din" x="866.7" y="94.1"/>
<use href="#dsb" x="666.7" y="57.9"/>
<use href="#dal" x="757.1" y="190.3"/>
<use href="#dal" x="878.1" y="170.1"/>
<use href="#din" x="859.1" y="99.1"/>
<use href="#din" x="696.7" y="79.4"/>
<use href="#dal" x="612.4" y="221.6"/>
<use href="#dal" x="655.7" y="175.7"/>
<use href="#das" x="597.6" y="111.1"/>
<use href="#dsb" x="689.1" y="158.2"/>
<use href="#dal" x="586.4" y="164.7"/>
<use href="#das" x="604.7" y="107.1"/>
<use href="#din" x="630.6" y="92.9"/>
<use href="#das" x="771.7" y="35.8"/>
<use href="#dal" x="792.9" y="150.4"/>
<use href="#das" x="601.7" y="114.3"/>
<use href="#das" x="857.8" y="91.2"/>
<use href="#dal" x="742.8" y="195.4"/>
<use href="#dal" x="728.1" y="162.3"/>
<use href="#dal" x="835.8" y="161.0"/>
<use href="#dal" x="632.0" y="218.1"/>
<use href="#das" x="642.1" y="105.0"/>
<use href="#din" x="577.7" y="69.3"/>
<use href="#din" x="721.6" y="77.6"/>
<use href="#din" x="626.0" y="27.2"/>
<use href="#dal" x="586.1" y="156.2"/>
<use href="#dal" x="789.2" y="198.7"/>
<use href="#dal" x="691.6" y="191.3"/>
<use href="#dal" x="688.6" y="200.5"/>
<use href="#das" x="705.8" y="98.9"/>
<use href="#din" x="721.0" y="97.5"/>
<use href="#das" x="722.1" y="107.0"/>
<use href="#das" x="695.1" y="93.6"/>
<use href="#dsb" x="821.1" y="63.4"/>
<use href="#das" x="751.2" y="96.9"/>
<use href="#das" x="858.2" y="98.4"/>
<use href="#dsb" x="722.8" y="139.0"/>
<use href="#dal" x="583.7" y="218.8"/>
<use href="#dal" x="845.5" y="190.4"/>
<use href="#das" x="765.8" y="91.9"/>
<use href="#dal" x="821.5" y="227.6"/>
<use href="#dal" x="660.9" y="187.6"/>
<use href="#dal" x="853.3" y="170.4"/>
<use href="#din" x="626.6" y="178.3"/>
<use href="#das" x="749.8" y="91.2"/>
<use href="#das" x="675.0" y="15.3"/>
<use href="#dal" x="574.5" y="199.4"/>
<use href="#das" x="749.6" y="198.6"/>
<use href="#das" x="581.4" y="108.7"/>
<use href="#das" x="660.0" y="108.5"/>
<use href="#das" x="610.7" y="99.3"/>
<use href="#das" x="791.9" y="89.7"/>
<use href="#dal" x="784.9" y="195.3"/>
<use href="#din" x="582.4" y="195.8"/>
<use href="#dal" x="845.4" y="163.4"/>
<use href="#dal" x="581.3" y="158.0"/>
<use href="#dsb" x="586.0" y="55.1"/>
<use href="#das" x="855.4" y="84.3"/>
<use href="#das" x="665.9" y="109.0"/>
<use href="#din" x="579.3" y="91.5"/>
<use href="#dsb" x="654.0" y="72.9"/>
<use href="#das" x="752.3" y="111.8"/>
<use href="#din" x="603.6" y="75.7"/>
<use href="#dal" x="663.0" y="214.7"/>
<use href="#din" x="838.1" y="83.0"/>
<use href="#dal" x="656.5" y="190.4"/>
<use href="#dsb" x="711.2" y="32.1"/>
<use href="#dsb" x="768.9" y="39.0"/>
<use href="#dal" x="781.7" y="189.1"/>
<use href="#das" x="688.1" y="100.2"/>
<use href="#din" x="883.7" y="107.2"/>
<use href="#das" x="704.9" y="100.9"/>
<use href="#das" x="755.5" y="52.8"/>
<use href="#dsb" x="878.3" y="60.1"/>
<use href="#dsb" x="653.8" y="70.7"/>
<use href="#dal" x="625.1" y="134.2"/>
<use href="#das" x="612.8" y="105.3"/>
<use href="#dal" x="810.8" y="222.7"/>
<use href="#dsb" x="778.9" y="55.0"/>
<use href="#dal" x="700.3" y="212.5"/>
<use href="#din" x="694.2" y="19.5"/>
<use href="#das" x="768.5" y="111.8"/>
<use href="#das" x="684.1" y="110.5"/>
<use href="#das" x="658.9" y="115.6"/>
<use href="#dsb" x="605.7" y="227.9"/>
<use href="#das" x="635.0" y="92.6"/>
<use href="#dal" x="765.6" y="187.2"/>
<use href="#dal" x="822.9" y="215.2"/>
<use href="#dal" x="581.0" y="162.4"/>
<use href="#dal" x="851.1" y="201.1"/>
<use href="#das" x="581.4" y="110.9"/>
<use href="#das" x="753.1" y="92.3"/>
<use href="#dsb" x="697.0" y="64.7"/>
<use href="#dsb" x="767.8" y="52.5"/>
<use href="#dal" x="865.6" y="202.5"/>
<use href="#dsb" x="735.3" y="50.9"/>
<use href="#dal" x="658.7" y="154.2"/>
<use href="#din" x="600.5" y="169.0"/>
<use href="#dal" x="861.2" y="154.0"/>
<use href="#dal" x="865.7" y="196.6"/>
<use href="#dsb" x="588.2" y="175.7"/>
<use href="#dal" x="788.8" y="184.4"/>
<use href="#das" x="876.4" y="80.5"/>
<use href="#das" x="764.8" y="93.8"/>
<use href="#das" x="695.8" y="91.2"/>
<use href="#dal" x="753.1" y="230.2"/>
<use href="#dal" x="639.0" y="179.5"/>
<use href="#das" x="796.4" y="90.2"/>
<use href="#das" x="618.5" y="109.9"/>
<use href="#dsb" x="717.2" y="59.2"/>
<use href="#dal" x="635.7" y="162.5"/>
<use href="#das" x="872.6" y="84.9"/>
<use href="#das" x="631.8" y="110.9"/>
<use href="#das" x="768.5" y="115.9"/>
<use href="#dal" x="879.8" y="221.1"/>
<use href="#das" x="609.7" y="94.9"/>
<use href="#dal" x="841.9" y="147.7"/>
<use href="#dal" x="645.8" y="194.0"/>
<use href="#dal" x="681.0" y="180.9"/>
<use href="#dsb" x="862.3" y="45.3"/>
<use href="#das" x="738.9" y="109.3"/>
<use href="#din" x="834.5" y="76.2"/>
<use href="#das" x="698.1" y="95.9"/>
<use href="#dal" x="748.7" y="206.7"/>
<use href="#din" x="876.4" y="78.0"/>
<use href="#din" x="663.4" y="67.9"/>
<use href="#din" x="875.5" y="85.6"/>
<use href="#dal" x="715.8" y="151.1"/>
<use href="#din" x="758.7" y="96.4"/>
<use href="#dsb" x="721.7" y="68.5"/>
<use href="#dal" x="852.8" y="211.4"/>
<use href="#das" x="880.1" y="88.3"/>
<use href="#dsb" x="845.5" y="217.0"/>
<use href="#das" x="625.6" y="104.9"/>
<use href="#das" x="691.2" y="36.8"/>
<use href="#din" x="649.6" y="103.4"/>
<use href="#dal" x="836.4" y="136.5"/>
<use href="#das" x="585.7" y="116.3"/>
<use href="#das" x="599.3" y="107.4"/>
<use href="#dsb" x="793.3" y="46.5"/>
<use href="#das" x="824.1" y="105.6"/>
<use href="#dal" x="765.0" y="188.0"/>
<use href="#din" x="757.5" y="80.8"/>
<use href="#das" x="874.0" y="90.3"/>
<use href="#das" x="580.1" y="106.2"/>
<use href="#dal" x="584.8" y="177.1"/>
<use href="#dal" x="818.2" y="191.0"/>
<use href="#dal" x="673.7" y="156.0"/>
<use href="#das" x="675.8" y="98.5"/>
<use href="#dsb" x="870.1" y="41.2"/>
<use href="#dsb" x="596.4" y="75.6"/>
<use href="#din" x="676.5" y="74.8"/>
<use href="#dal" x="805.6" y="195.7"/>
<use href="#das" x="722.2" y="106.7"/>
<use href="#dal" x="778.0" y="157.6"/>
<use href="#das" x="812.5" y="100.8"/>
<use href="#das" x="864.4" y="94.5"/>
<use href="#das" x="877.3" y="94.6"/>
<use href="#dal" x="684.0" y="226.0"/>
<use href="#das" x="604.6" y="106.6"/>
<use href="#das" x="681.9" y="99.9"/>
<use href="#dal" x="766.9" y="216.1"/>
<use href="#das" x="635.7" y="115.2"/>
<use href="#das" x="745.2" y="85.3"/>
<use href="#das" x="635.9" y="101.1"/>
<use href="#dal" x="870.8" y="163.2"/>
<use href="#dsb" x="867.0" y="136.6"/>
<use href="#dal" x="708.1" y="173.5"/>
<use href="#dal" x="651.7" y="209.3"/>
<use href="#das" x="662.4" y="119.8"/>
<use href="#das" x="788.6" y="104.7"/>
<use href="#din" x="639.0" y="207.1"/>
<use href="#din" x="883.0" y="72.5"/>
<use href="#dal" x="861.1" y="221.4"/>
<use href="#das" x="808.7" y="84.6"/>
<use href="#din" x="607.4" y="20.6"/>
<use href="#dsb" x="634.9" y="95.4"/>
<use href="#das" x="880.1" y="219.3"/>
<use href="#das" x="650.9" y="192.9"/>
<use href="#das" x="758.1" y="146.2"/>
<use href="#din" x="850.8" y="92.1"/>
<use href="#das" x="695.2" y="92.1"/>
<use href="#das" x="631.5" y="97.8"/>
<use href="#din" x="655.1" y="107.1"/>
<use href="#din" x="763.0" y="74.8"/>
<use href="#din" x="683.5" y="99.7"/>
<use href="#dal" x="584.9" y="195.8"/>
<use href="#dal" x="836.0" y="179.7"/>
<use href="#dal" x="727.7" y="179.9"/>
<use href="#das" x="603.3" y="98.3"/>
<use href="#din" x="748.2" y="88.8"/>
<use href="#das" x="733.7" y="110.1"/>
<use href="#din" x="706.7" y="109.7"/>
<use href="#dsb" x="783.1" y="55.5"/>
<use href="#din" x="816.5" y="101.6"/>
<use href="#dal" x="780.0" y="136.3"/>
<use href="#din" x="669.4" y="72.1"/>
<use href="#dal" x="804.5" y="226.4"/>
<use href="#din" x="748.2" y="97.6"/>
<use href="#dsb" x="720.2" y="55.2"/>
<use href="#din" x="721.3" y="65.6"/>
<use href="#dal" x="865.1" y="129.3"/>
<use href="#das" x="631.6" y="101.8"/>
<use href="#das" x="629.0" y="98.0"/>
<use href="#das" x="802.6" y="105.7"/>
<use href="#dsb" x="839.1" y="62.5"/>
<use href="#dal" x="583.6" y="169.2"/>
<use href="#das" x="728.7" y="113.4"/>
<use href="#dal" x="637.6" y="158.7"/>
<use href="#dal" x="856.4" y="219.8"/>
<use href="#din" x="702.8" y="84.8"/>
<use href="#das" x="645.4" y="102.9"/>
<use href="#das" x="763.8" y="106.8"/>
<use href="#dal" x="640.5" y="209.1"/>
<use href="#dal" x="627.3" y="155.4"/>
<use href="#dal" x="843.5" y="206.1"/>
<use href="#din" x="848.3" y="65.6"/>
<use href="#das" x="750.8" y="82.5"/>
<use href="#das" x="824.9" y="99.0"/>
<use href="#din" x="681.8" y="93.9"/>
<use href="#dsb" x="779.4" y="49.7"/>
<use href="#dsb" x="650.9" y="199.5"/>
<use href="#dal" x="736.2" y="211.5"/>
<use href="#das" x="626.3" y="99.1"/>
<use href="#dal" x="751.0" y="185.8"/>
<use href="#din" x="771.1" y="99.9"/>
<use href="#din" x="737.2" y="80.4"/>
<use href="#dal" x="739.3" y="136.1"/>
<use href="#dal" x="687.7" y="216.5"/>
<use href="#dal" x="740.6" y="227.0"/>
<use href="#dal" x="649.6" y="147.8"/>
<use href="#dal" x="657.0" y="216.1"/>
<use href="#dal" x="744.1" y="175.5"/>
<use href="#dsb" x="830.3" y="143.8"/>
<use href="#din" x="861.1" y="72.4"/>
<use href="#das" x="747.7" y="224.4"/>
<use href="#das" x="628.9" y="91.5"/>
<use href="#das" x="658.0" y="113.0"/>
<use href="#din" x="606.1" y="94.1"/>
<use href="#das" x="849.0" y="90.4"/>
<use href="#das" x="649.9" y="108.2"/>
<use href="#dsb" x="832.1" y="57.8"/>
<use href="#dal" x="600.8" y="206.7"/>
<use href="#dal" x="714.8" y="158.1"/>
<use href="#din" x="815.3" y="84.6"/>
<use href="#dal" x="598.2" y="208.1"/>
<use href="#dal" x="663.4" y="175.5"/>
<use href="#dal" x="694.4" y="167.8"/>
<use href="#das" x="717.2" y="102.6"/>
<use href="#dal" x="769.3" y="164.1"/>
<use href="#dal" x="673.9" y="147.8"/>
<use href="#das" x="593.0" y="104.6"/>
<use href="#dsb" x="701.3" y="157.7"/>
<use href="#dal" x="717.2" y="131.3"/>
<use href="#das" x="616.8" y="121.7"/>
<use href="#dal" x="673.1" y="157.7"/>
<use href="#das" x="751.8" y="97.3"/>
<use href="#din" x="610.0" y="102.3"/>
<use href="#das" x="704.0" y="174.5"/>
<use href="#das" x="713.8" y="98.4"/>
<use href="#dal" x="682.6" y="207.3"/>
<use href="#dal" x="858.0" y="142.6"/>
<use href="#dal" x="618.2" y="167.1"/>
<use href="#din" x="634.2" y="81.6"/>
<use href="#din" x="767.1" y="96.5"/>
<use href="#dsb" x="821.9" y="58.8"/>
<use href="#din" x="635.9" y="89.7"/>
<use href="#dal" x="751.3" y="215.9"/>
<use href="#din" x="842.6" y="83.3"/>
<use href="#dsb" x="854.0" y="50.0"/>
<use href="#dal" x="792.2" y="168.4"/>
<use href="#din" x="861.4" y="72.8"/>
<use href="#das" x="769.5" y="142.8"/>
<use href="#dsb" x="718.1" y="177.6"/>
<use href="#das" x="742.3" y="89.6"/>
<use href="#dal" x="776.4" y="228.1"/>
<use href="#dal" x="717.6" y="172.2"/>
<use href="#dsb" x="712.8" y="67.3"/>
<use href="#dal" x="781.7" y="221.4"/>
<use href="#dal" x="756.1" y="155.0"/>
<use href="#das" x="781.7" y="111.4"/>
<use href="#dal" x="685.2" y="169.9"/>
<use href="#das" x="641.6" y="101.9"/>
<use href="#dsb" x="822.6" y="65.2"/>
<use href="#das" x="728.1" y="111.3"/>
<use href="#das" x="867.8" y="70.7"/>
<use href="#das" x="798.2" y="89.1"/>
<use href="#dal" x="617.6" y="188.2"/>
<use href="#dal" x="628.4" y="166.4"/>
<use href="#dal" x="596.2" y="164.3"/>
<use href="#dal" x="849.4" y="214.4"/>
<use href="#das" x="606.0" y="111.8"/>
<use href="#das" x="881.2" y="92.8"/>
<use href="#dsb" x="635.9" y="49.2"/>
<use href="#dal" x="667.4" y="213.3"/>
<use href="#dal" x="663.1" y="147.1"/>
<use href="#din" x="745.3" y="82.9"/>
<use href="#das" x="712.1" y="117.1"/>
<use href="#dal" x="877.0" y="189.0"/>
<use href="#dsb" x="702.3" y="53.8"/>
<use href="#dal" x="632.9" y="171.5"/>
<use href="#din" x="614.8" y="106.8"/>
<path d="M565.5 2 V234.8 H886.8 V2" fill="none" stroke="#555" stroke-width="1.4"/>
<path d="M565.5 2 H886.8" fill="none" stroke="#666" stroke-width="1.2"/>
<path d="M560.8 3.8 H565.5 M560.8 60.7 H565.5 M560.8 118.2 H565.5 M560.8 175.7 H565.5 M560.8 233.2 H565.5 M600.4 234.8 V238.8 M657.6 234.8 V238.8 M714.8 234.8 V238.8 M772.0 234.8 V238.8 M829.2 234.8 V238.8 M886.5 234.8 V238.8 " stroke="#555" stroke-width="1.2"/>
<text x="559.5" y="7.0" class="tk" text-anchor="end">-10</text>
<text x="559.5" y="65.0" class="tk" text-anchor="end">-5</text>
<text x="559.5" y="121.2" class="tk" text-anchor="end">0</text>
<text x="559.5" y="178.2" class="tk" text-anchor="end">5</text>
<text x="559.5" y="236.6" class="tk" text-anchor="end">10</text>
<text x="600.4" y="248" class="tk" text-anchor="middle">-10</text>
<text x="657.6" y="248" class="tk" text-anchor="middle">-5</text>
<text x="714.8" y="248" class="tk" text-anchor="middle">0</text>
<text x="772.0" y="248" class="tk" text-anchor="middle">5</text>
<text x="829.2" y="248" class="tk" text-anchor="middle">10</text>
<text x="883.0" y="248" class="tk" text-anchor="middle">15</text>
<text x="718.5" y="264.6" class="axl" text-anchor="middle" textLength="92" lengthAdjust="spacingAndGlyphs">Position in Y (nm)</text>
<text transform="translate(544.6 141) rotate(-90)" x="0" y="0" class="axl" text-anchor="middle" textLength="90" lengthAdjust="spacingAndGlyphs">Position in Z (nm)</text>
<use href="#Lsb" x="901.7" y="68.3"/>
<text x="909.5" y="72.5" class="leg">Sb</text>
<use href="#Lin" x="901.7" y="91.5"/>
<text x="909.5" y="95.7" class="leg">In</text>
<use href="#Las" x="901.7" y="115.3"/>
<text x="909.5" y="119.5" class="leg">As</text>
<use href="#Lal" x="901.7" y="138.0"/>
<text x="909.5" y="142.2" class="leg">Al</text>
<text transform="translate(906.5 187) rotate(-90)" class="lab001" text-anchor="middle" textLength="29" lengthAdjust="spacingAndGlyphs">[001]</text>
<path d="M901 230.6 V213" stroke="#000" stroke-width="1.6"/><path d="M897.9 214.5 L901 208.6 L904.1 214.5 Z" fill="#000"/>
</g>
<defs><linearGradient id="s77"><stop offset="0" stop-color="#324b84"/><stop offset="0.342" stop-color="#324b84"/><stop offset="0.356" stop-color="#415a84"/><stop offset="0.37" stop-color="#e28a2d"/><stop offset="0.384" stop-color="#f09f30"/><stop offset="0.397" stop-color="#ed9b2f"/><stop offset="0.411" stop-color="#75726d"/><stop offset="0.425" stop-color="#334b84"/><stop offset="1" stop-color="#324b84"/></linearGradient><linearGradient id="s78"><stop offset="0" stop-color="#2a4081"/><stop offset="0.329" stop-color="#2b4182"/><stop offset="0.342" stop-color="#3f5884"/><stop offset="0.356" stop-color="#a47b51"/><stop offset="0.37" stop-color="#e1892d"/><stop offset="0.397" stop-color="#e38b2d"/><stop offset="0.411" stop-color="#cb8138"/><stop offset="0.425" stop-color="#5c6c7c"/><stop offset="0.438" stop-color="#2d4584"/><stop offset="1" stop-color="#2a4081"/></linearGradient><linearGradient id="s79"><stop offset="0" stop-color="#576a7f"/><stop offset="0.315" stop-color="#596b7e"/><stop offset="0.329" stop-color="#7b746a"/><stop offset="0.342" stop-color="#e48d2d"/><stop offset="0.356" stop-color="#fcc74e"/><stop offset="0.37" stop-color="#fedb73"/><stop offset="0.397" stop-color="#fedd76"/><stop offset="0.411" stop-color="#fdd364"/><stop offset="0.425" stop-color="#f3a633"/><stop offset="0.438" stop-color="#a17b53"/><stop offset="0.452" stop-color="#5f6c7a"/><stop offset="1" stop-color="#576a7f"/></linearGradient><linearGradient id="s80"><stop offset="0" stop-color="#c1803e"/><stop offset="0.301" stop-color="#c3803d"/><stop offset="0.315" stop-color="#dc842d"/><stop offset="0.329" stop-color="#f7b63f"/><stop offset="0.342" stop-color="#fff5c0"/><stop offset="0.356" stop-color="#ffffff"/><stop offset="0.425" stop-color="#fffef7"/><stop offset="0.438" stop-color="#fdd568"/><stop offset="0.452" stop-color="#e7912e"/><stop offset="0.466" stop-color="#c7813b"/><stop offset="1" stop-color="#c1803e"/></linearGradient><linearGradient id="s81"><stop offset="0" stop-color="#e0872c"/><stop offset="0.301" stop-color="#e48d2d"/><stop offset="0.315" stop-color="#f4ab37"/><stop offset="0.329" stop-color="#ffee98"/><stop offset="0.342" stop-color="#ffffff"/><stop offset="0.425" stop-color="#ffffff"/><stop offset="0.438" stop-color="#fff9d9"/><stop offset="0.452" stop-color="#fcc54b"/><stop offset="0.466" stop-color="#e9942e"/><stop offset="1" stop-color="#e0872c"/></linearGradient><linearGradient id="s82"><stop offset="0" stop-color="#aa7c4d"/><stop offset="0.288" stop-color="#ae7d4b"/><stop offset="0.301" stop-color="#c8813a"/><stop offset="0.315" stop-color="#f09f30"/><stop offset="0.329" stop-color="#fedc74"/><stop offset="0.342" stop-color="#fff9d8"/><stop offset="0.356" stop-color="#ffffff"/><stop offset="0.411" stop-color="#ffffff"/><stop offset="0.425" stop-color="#fffdf4"/><stop offset="0.438" stop-color="#ffef9d"/><stop offset="0.452" stop-color="#f8b740"/><stop offset="0.466" stop-color="#df852c"/><stop offset="0.479" stop-color="#b37e47"/><stop offset="0.808" stop-color="#aa7c4d"/><stop offset="0.822" stop-color="#e9942e"/><stop offset="0.836" stop-color="#fffae1"/><stop offset="0.849" stop-color="#ffffff"/><stop offset="0.863" stop-color="#ffffff"/><stop offset="0.877" stop-color="#fdcd58"/><stop offset="0.89" stop-color="#b27e48"/><stop offset="1" stop-color="#aa7c4d"/></linearGradient><linearGradient id="s83"><stop offset="0" stop-color="#4d6784"/><stop offset="0.288" stop-color="#546a80"/><stop offset="0.301" stop-color="#73726f"/><stop offset="0.315" stop-color="#b97f44"/><stop offset="0.329" stop-color="#ed9a2f"/><stop offset="0.342" stop-color="#f9ba43"/><stop offset="0.37" stop-color="#fdcd5a"/><stop offset="0.411" stop-color="#fccc57"/><stop offset="0.425" stop-color="#fbc249"/><stop offset="0.438" stop-color="#f4a834"/><stop offset="0.452" stop-color="#dc842d"/><stop offset="0.466" stop-color="#897761"/><stop offset="0.479" stop-color="#5d6c7c"/><stop offset="0.781" stop-color="#4e6784"/><stop offset="0.795" stop-color="#576a7f"/><stop offset="0.808" stop-color="#a97c4e"/><stop offset="0.822" stop-color="#f4a835"/><stop offset="0.836" stop-color="#fcc74e"/><stop offset="0.863" stop-color="#fcc952"/><stop offset="0.877" stop-color="#f9ba43"/><stop offset="0.89" stop-color="#df862c"/><stop offset="0.904" stop-color="#6b6f73"/><stop offset="0.918" stop-color="#4e6884"/><stop offset="1" stop-color="#4d6784"/></linearGradient><linearGradient id="s84"><stop offset="0" stop-color="#314984"/><stop offset="0.288" stop-color="#375084"/><stop offset="0.301" stop-color="#496384"/><stop offset="0.329" stop-color="#ba7f43"/><stop offset="0.342" stop-color="#e0872c"/><stop offset="0.425" stop-color="#e38b2d"/><stop offset="0.438" stop-color="#ce8236"/><stop offset="0.466" stop-color="#5a6b7d"/><stop offset="0.479" stop-color="#3d5684"/><stop offset="0.781" stop-color="#354e84"/><stop offset="0.795" stop-color="#4f6884"/><stop offset="0.808" stop-color="#a17b53"/><stop offset="0.822" stop-color="#df852c"/><stop offset="0.877" stop-color="#e28a2d"/><stop offset="0.89" stop-color="#bf803f"/><stop offset="0.904" stop-color="#6e7072"/><stop offset="0.918" stop-color="#3c5584"/><stop offset="1" stop-color="#314984"/></linearGradient><linearGradient id="s85"><stop offset="0" stop-color="#405984"/><stop offset="0.274" stop-color="#435c84"/><stop offset="0.288" stop-color="#4d6784"/><stop offset="0.301" stop-color="#79736b"/><stop offset="0.315" stop-color="#bb7f42"/><stop offset="0.329" stop-color="#e6902e"/><stop offset="0.356" stop-color="#f5ac38"/><stop offset="0.425" stop-color="#f3a734"/><stop offset="0.438" stop-color="#ec992f"/><stop offset="0.452" stop-color="#d68331"/><stop offset="0.466" stop-color="#91795d"/><stop offset="0.479" stop-color="#5b6b7c"/><stop offset="0.493" stop-color="#465f84"/><stop offset="0.767" stop-color="#445d84"/><stop offset="0.781" stop-color="#5c6c7c"/><stop offset="0.808" stop-color="#e58f2d"/><stop offset="0.836" stop-color="#f4aa36"/><stop offset="0.877" stop-color="#f3a734"/><stop offset="0.89" stop-color="#ec992f"/><stop offset="0.904" stop-color="#c98139"/><stop offset="0.918" stop-color="#75726d"/><stop offset="0.932" stop-color="#486284"/><stop offset="1" stop-color="#405984"/></linearGradient><linearGradient id="s86"><stop offset="0" stop-color="#8d785f"/><stop offset="0.137" stop-color="#8d785f"/><stop offset="0.151" stop-color="#9b7a56"/><stop offset="0.164" stop-color="#ffe88b"/><stop offset="0.178" stop-color="#fff7cc"/><stop offset="0.192" stop-color="#ffe88b"/><stop offset="0.205" stop-color="#9b7a56"/><stop offset="0.26" stop-color="#8f785e"/><stop offset="0.274" stop-color="#9b7a57"/><stop offset="0.288" stop-color="#c1803e"/><stop offset="0.301" stop-color="#eb982f"/><stop offset="0.315" stop-color="#fcc64c"/><stop offset="0.329" stop-color="#ffe98c"/><stop offset="0.342" stop-color="#fff4bb"/><stop offset="0.356" stop-color="#fff7d0"/><stop offset="0.411" stop-color="#fff8d4"/><stop offset="0.425" stop-color="#fff6c6"/><stop offset="0.438" stop-color="#fff0a1"/><stop offset="0.452" stop-color="#fdd568"/><stop offset="0.466" stop-color="#f4a935"/><stop offset="0.479" stop-color="#db842e"/><stop offset="0.493" stop-color="#a67c50"/><stop offset="0.507" stop-color="#92795c"/><stop offset="0.753" stop-color="#92795c"/><stop offset="0.767" stop-color="#af7d4a"/><stop offset="0.781" stop-color="#e7922e"/><stop offset="0.795" stop-color="#fcc64d"/><stop offset="0.808" stop-color="#ffed94"/><stop offset="0.822" stop-color="#fff5bf"/><stop offset="0.863" stop-color="#fff7cc"/><stop offset="0.877" stop-color="#fff6c6"/><stop offset="0.89" stop-color="#fff1aa"/><stop offset="0.904" stop-color="#fdd86d"/><stop offset="0.918" stop-color="#f3a432"/><stop offset="0.932" stop-color="#c8813a"/><stop offset="0.945" stop-color="#997a58"/><stop offset="1" stop-color="#8d785f"/></linearGradient><linearGradient id="s87"><stop offset="0" stop-color="#e0872c"/><stop offset="0.123" stop-color="#e0872c"/><stop offset="0.137" stop-color="#e7912e"/><stop offset="0.151" stop-color="#fff3b3"/><stop offset="0.164" stop-color="#ffffff"/><stop offset="0.192" stop-color="#ffffff"/><stop offset="0.205" stop-color="#fff3b3"/><stop offset="0.219" stop-color="#e7912e"/><stop offset="0.26" stop-color="#e28a2d"/><stop offset="0.274" stop-color="#e8932e"/><stop offset="0.288" stop-color="#f6af3a"/><stop offset="0.301" stop-color="#fede79"/><stop offset="0.315" stop-color="#fffae2"/><stop offset="0.329" stop-color="#ffffff"/><stop offset="0.452" stop-color="#ffffff"/><stop offset="0.466" stop-color="#fff0a0"/><stop offset="0.479" stop-color="#fbc249"/><stop offset="0.493" stop-color="#ee9b2f"/><stop offset="0.74" stop-color="#e1892d"/><stop offset="0.753" stop-color="#e6912e"/><stop offset="0.767" stop-color="#f5ae39"/><stop offset="0.781" stop-color="#fee483"/><stop offset="0.795" stop-color="#fffef9"/><stop offset="0.904" stop-color="#ffffff"/><stop offset="0.918" stop-color="#fff2b1"/><stop offset="0.932" stop-color="#fbc34a"/><stop offset="0.945" stop-color="#ec992f"/><stop offset="1" stop-color="#e0872c"/></linearGradient><linearGradient id="s88"><stop offset="0" stop-color="#e48d2d"/><stop offset="0.123" stop-color="#e6902e"/><stop offset="0.137" stop-color="#fcc850"/><stop offset="0.151" stop-color="#ffffff"/><stop offset="0.205" stop-color="#ffffff"/><stop offset="0.219" stop-color="#fcc850"/><stop offset="0.233" stop-color="#e6902e"/><stop offset="0.26" stop-color="#e7912e"/><stop offset="0.274" stop-color="#f09e30"/><stop offset="0.288" stop-color="#fbc249"/><stop offset="0.301" stop-color="#ffef9b"/><stop offset="0.315" stop-color="#ffffff"/><stop offset="0.452" stop-color="#ffffff"/><stop offset="0.466" stop-color="#fff6c8"/><stop offset="0.479" stop-color="#fdd465"/><stop offset="0.493" stop-color="#f4aa36"/><stop offset="0.521" stop-color="#e58e2d"/><stop offset="0.74" stop-color="#e7912e"/><stop offset="0.753" stop-color="#f1a130"/><stop offset="0.767" stop-color="#fccb55"/><stop offset="0.781" stop-color="#fff4bd"/><stop offset="0.795" stop-color="#ffffff"/><stop offset="0.904" stop-color="#ffffff"/><stop offset="0.918" stop-color="#fffcec"/><stop offset="0.932" stop-color="#fedf7a"/><stop offset="0.945" stop-color="#f6af3a"/><stop offset="0.959" stop-color="#e9952e"/><stop offset="1" stop-color="#e48d2d"/></linearGradient><linearGradient id="s89"><stop offset="0" stop-color="#ab7d4c"/><stop offset="0.11" stop-color="#ac7d4c"/><stop offset="0.123" stop-color="#cd8137"/><stop offset="0.137" stop-color="#fbc148"/><stop offset="0.151" stop-color="#fff7cb"/><stop offset="0.164" stop-color="#ffffff"/><stop offset="0.192" stop-color="#ffffff"/><stop offset="0.205" stop-color="#fff7cb"/><stop offset="0.219" stop-color="#fbc148"/><stop offset="0.233" stop-color="#cd8237"/><stop offset="0.247" stop-color="#ae7d4a"/><stop offset="0.26" stop-color="#b77e44"/><stop offset="0.274" stop-color="#d88330"/><stop offset="0.288" stop-color="#ef9d2f"/><stop offset="0.301" stop-color="#fcc851"/><stop offset="0.315" stop-color="#ffee96"/><stop offset="0.329" stop-color="#fff8d6"/><stop offset="0.342" stop-color="#fffefa"/><stop offset="0.425" stop-color="#ffffff"/><stop offset="0.438" stop-color="#fffbe7"/><stop offset="0.452" stop-color="#fff3b3"/><stop offset="0.466" stop-color="#fdd86e"/><stop offset="0.479" stop-color="#f5ad39"/><stop offset="0.493" stop-color="#e28b2d"/><stop offset="0.507" stop-color="#c1803f"/><stop offset="0.534" stop-color="#ab7d4c"/><stop offset="0.726" stop-color="#ae7d4b"/><stop offset="0.74" stop-color="#bc7f41"/><stop offset="0.753" stop-color="#e1882d"/><stop offset="0.767" stop-color="#f5ad38"/><stop offset="0.781" stop-color="#feda71"/><stop offset="0.795" stop-color="#fff3b7"/><stop offset="0.808" stop-color="#fffbe7"/><stop offset="0.822" stop-color="#fffffc"/><stop offset="0.877" stop-color="#ffffff"/><stop offset="0.89" stop-color="#fffdf2"/><stop offset="0.904" stop-color="#fff7ce"/><stop offset="0.918" stop-color="#ffe98d"/><stop offset="0.932" stop-color="#fac048"/><stop offset="0.945" stop-color="#e9952e"/><stop offset="0.959" stop-color="#ca8139"/><stop offset="0.973" stop-color="#b17d48"/><stop offset="1" stop-color="#ab7d4c"/></linearGradient><linearGradient id="s90"><stop offset="0" stop-color="#4f6883"/><stop offset="0.11" stop-color="#546a80"/><stop offset="0.123" stop-color="#827666"/><stop offset="0.137" stop-color="#e48d2d"/><stop offset="0.151" stop-color="#f7b63f"/><stop offset="0.192" stop-color="#fbc34a"/><stop offset="0.205" stop-color="#f7b63f"/><stop offset="0.219" stop-color="#e48d2d"/><stop offset="0.233" stop-color="#837665"/><stop offset="0.247" stop-color="#576a7f"/><stop offset="0.26" stop-color="#5c6c7c"/><stop offset="0.274" stop-color="#75726d"/><stop offset="0.301" stop-color="#df862c"/><stop offset="0.342" stop-color="#fbc249"/><stop offset="0.425" stop-color="#fcc44b"/><stop offset="0.466" stop-color="#e7912e"/><stop offset="0.479" stop-color="#bd7f41"/><stop offset="0.493" stop-color="#857664"/><stop offset="0.507" stop-color="#636e78"/><stop offset="0.726" stop-color="#546a80"/><stop offset="0.74" stop-color="#646e77"/><stop offset="0.753" stop-color="#897762"/><stop offset="0.767" stop-color="#c5803c"/><stop offset="0.781" stop-color="#e9952e"/><stop offset="0.808" stop-color="#f9bc44"/><stop offset="0.89" stop-color="#fabf47"/><stop offset="0.918" stop-color="#f09f30"/><stop offset="0.932" stop-color="#de852c"/><stop offset="0.945" stop-color="#9f7b54"/><stop offset="0.959" stop-color="#707170"/><stop offset="0.973" stop-color="#596b7e"/><stop offset="1" stop-color="#506883"/></linearGradient><linearGradient id="s91"><stop offset="0" stop-color="#385084"/><stop offset="0.11" stop-color="#3e5784"/><stop offset="0.123" stop-color="#666e76"/><stop offset="0.137" stop-color="#bb7f42"/><stop offset="0.151" stop-color="#e48d2d"/><stop offset="0.205" stop-color="#e48d2d"/><stop offset="0.219" stop-color="#bb7f42"/><stop offset="0.233" stop-color="#676e76"/><stop offset="0.247" stop-color="#405984"/><stop offset="0.26" stop-color="#3f5884"/><stop offset="0.274" stop-color="#4c6684"/><stop offset="0.315" stop-color="#ce8236"/><stop offset="0.329" stop-color="#e38b2d"/><stop offset="0.438" stop-color="#e58f2d"/><stop offset="0.452" stop-color="#dd842d"/><stop offset="0.493" stop-color="#586b7e"/><stop offset="0.521" stop-color="#3b5484"/><stop offset="0.726" stop-color="#3c5484"/><stop offset="0.74" stop-color="#455f84"/><stop offset="0.753" stop-color="#616d79"/><stop offset="0.781" stop-color="#c0803f"/><stop offset="0.795" stop-color="#e0862c"/><stop offset="0.904" stop-color="#e28b2d"/><stop offset="0.918" stop-color="#d08235"/><stop offset="0.959" stop-color="#4c6684"/><stop offset="1" stop-color="#385084"/></linearGradient><linearGradient id="s92"><stop offset="0" stop-color="#4c6684"/><stop offset="0.0959" stop-color="#4e6884"/><stop offset="0.11" stop-color="#676e76"/><stop offset="0.123" stop-color="#b37e47"/><stop offset="0.137" stop-color="#ed9b2f"/><stop offset="0.151" stop-color="#f7b53f"/><stop offset="0.192" stop-color="#f9bd45"/><stop offset="0.205" stop-color="#f7b53f"/><stop offset="0.219" stop-color="#ed9b2f"/><stop offset="0.233" stop-color="#b47e46"/><stop offset="0.247" stop-color="#6c7073"/><stop offset="0.26" stop-color="#626d79"/><stop offset="0.274" stop-color="#7e7468"/><stop offset="0.301" stop-color="#e28a2d"/><stop offset="0.342" stop-color="#f9bc44"/><stop offset="0.438" stop-color="#f8b740"/><stop offset="0.466" stop-color="#e8932e"/><stop offset="0.479" stop-color="#c8813a"/><stop offset="0.493" stop-color="#90795e"/><stop offset="0.507" stop-color="#696f74"/><stop offset="0.534" stop-color="#4e6884"/><stop offset="0.575" stop-color="#4c6684"/><stop offset="0.589" stop-color="#897762"/><stop offset="0.603" stop-color="#f7b53f"/><stop offset="0.616" stop-color="#fabd45"/><stop offset="0.63" stop-color="#ee9c2f"/><stop offset="0.644" stop-color="#566a7f"/><stop offset="0.712" stop-color="#4e6884"/><stop offset="0.726" stop-color="#596b7e"/><stop offset="0.74" stop-color="#74726e"/><stop offset="0.767" stop-color="#dc842e"/><stop offset="0.808" stop-color="#f8b740"/><stop offset="0.89" stop-color="#f9ba42"/><stop offset="0.932" stop-color="#e48d2d"/><stop offset="0.959" stop-color="#837665"/><stop offset="0.973" stop-color="#626d79"/><stop offset="1" stop-color="#4d6784"/></linearGradient><linearGradient id="s93"><stop offset="0" stop-color="#a97c4e"/><stop offset="0.0822" stop-color="#a97c4d"/><stop offset="0.0959" stop-color="#b27e48"/><stop offset="0.11" stop-color="#e1882d"/><stop offset="0.123" stop-color="#fbc148"/><stop offset="0.137" stop-color="#fff1a8"/><stop offset="0.151" stop-color="#fffbe5"/><stop offset="0.164" stop-color="#fffdf5"/><stop offset="0.192" stop-color="#fffdf5"/><stop offset="0.205" stop-color="#fffbe5"/><stop offset="0.219" stop-color="#fff1a8"/><stop offset="0.233" stop-color="#fbc249"/><stop offset="0.247" stop-color="#e48d2d"/><stop offset="0.26" stop-color="#d78331"/><stop offset="0.274" stop-color="#e8932e"/><stop offset="0.288" stop-color="#f7b63f"/><stop offset="0.315" stop-color="#fff2ad"/><stop offset="0.329" stop-color="#fff9db"/><stop offset="0.342" stop-color="#fffdf4"/><stop offset="0.425" stop-color="#fffef9"/><stop offset="0.438" stop-color="#fffbe7"/><stop offset="0.452" stop-color="#fff5c2"/><stop offset="0.466" stop-color="#ffe78a"/><stop offset="0.479" stop-color="#fcc64c"/><stop offset="0.493" stop-color="#f09f30"/><stop offset="0.507" stop-color="#de842c"/><stop offset="0.521" stop-color="#bb7f42"/><stop offset="0.548" stop-color="#a97c4d"/><stop offset="0.562" stop-color="#ac7d4c"/><stop offset="0.575" stop-color="#e8932e"/><stop offset="0.589" stop-color="#fff0a2"/><stop offset="0.603" stop-color="#fffdf2"/><stop offset="0.616" stop-color="#fffdf6"/><stop offset="0.63" stop-color="#fffbe4"/><stop offset="0.644" stop-color="#fdd160"/><stop offset="0.658" stop-color="#c8813a"/><stop offset="0.671" stop-color="#a97c4e"/><stop offset="0.712" stop-color="#b17d48"/><stop offset="0.74" stop-color="#e58e2d"/><stop offset="0.753" stop-color="#f5ae3a"/><stop offset="0.781" stop-color="#fff0a0"/><stop offset="0.795" stop-color="#fff7ce"/><stop offset="0.808" stop-color="#fffbe8"/><stop offset="0.89" stop-color="#fffcee"/><stop offset="0.904" stop-color="#fff9db"/><stop offset="0.918" stop-color="#fff3b5"/><stop offset="0.932" stop-color="#fee17e"/><stop offset="0.945" stop-color="#fabf46"/><stop offset="0.959" stop-color="#ec992f"/><stop offset="0.973" stop-color="#d68331"/><stop offset="0.986" stop-color="#b77e44"/><stop offset="1" stop-color="#ac7d4c"/></linearGradient><linearGradient id="s94"><stop offset="0" stop-color="#e7912e"/><stop offset="0.0137" stop-color="#fbc148"/><stop offset="0.0274" stop-color="#ffffff"/><stop offset="0.0411" stop-color="#ffffff"/><stop offset="0.0548" stop-color="#f1a030"/><stop offset="0.0685" stop-color="#e7912e"/><stop offset="0.0959" stop-color="#ed9a2f"/><stop offset="0.11" stop-color="#fcc44b"/><stop offset="0.123" stop-color="#fff7cb"/><stop offset="0.137" stop-color="#ffffff"/><stop offset="0.219" stop-color="#ffffff"/><stop offset="0.233" stop-color="#fff7cf"/><stop offset="0.247" stop-color="#fccc58"/><stop offset="0.26" stop-color="#f7b43e"/><stop offset="0.274" stop-color="#fccb56"/><stop offset="0.288" stop-color="#fff09f"/><stop offset="0.301" stop-color="#fffffd"/><stop offset="0.466" stop-color="#ffffff"/><stop offset="0.479" stop-color="#fff6c6"/><stop offset="0.493" stop-color="#fdda70"/><stop offset="0.507" stop-color="#f7b53f"/><stop offset="0.521" stop-color="#ef9d2f"/><stop offset="0.548" stop-color="#e7922e"/><stop offset="0.562" stop-color="#f4aa36"/><stop offset="0.575" stop-color="#fff5c4"/><stop offset="0.589" stop-color="#ffffff"/><stop offset="0.644" stop-color="#ffffff"/><stop offset="0.658" stop-color="#fedb73"/><stop offset="0.671" stop-color="#ec992f"/><stop offset="0.712" stop-color="#eb982f"/><stop offset="0.726" stop-color="#f3a734"/><stop offset="0.74" stop-color="#fcc84f"/><stop offset="0.753" stop-color="#ffee96"/><stop offset="0.767" stop-color="#fffdf2"/><stop offset="0.932" stop-color="#ffffff"/><stop offset="0.945" stop-color="#fff4bc"/><stop offset="0.959" stop-color="#fdd66a"/><stop offset="0.973" stop-color="#f7b23d"/><stop offset="1" stop-color="#e8942e"/></linearGradient><linearGradient id="s95"><stop offset="0" stop-color="#f1a030"/><stop offset="0.0137" stop-color="#ffffff"/><stop offset="0.0411" stop-color="#ffffff"/><stop offset="0.0548" stop-color="#fff9dc"/><stop offset="0.0685" stop-color="#eb972f"/><stop offset="0.0822" stop-color="#e9942e"/><stop offset="0.0959" stop-color="#f2a130"/><stop offset="0.11" stop-color="#fdd262"/><stop offset="0.123" stop-color="#fffbe8"/><stop offset="0.137" stop-color="#ffffff"/><stop offset="0.219" stop-color="#ffffff"/><stop offset="0.233" stop-color="#fffced"/><stop offset="0.247" stop-color="#fedc74"/><stop offset="0.26" stop-color="#fbc148"/><stop offset="0.274" stop-color="#fdd364"/><stop offset="0.288" stop-color="#fff2b0"/><stop offset="0.301" stop-color="#ffffff"/><stop offset="0.466" stop-color="#ffffff"/><stop offset="0.479" stop-color="#fff8d6"/><stop offset="0.493" stop-color="#fee17e"/><stop offset="0.507" stop-color="#f9bc44"/><stop offset="0.521" stop-color="#f2a130"/><stop offset="0.534" stop-color="#eb972f"/><stop offset="0.548" stop-color="#ee9c2f"/><stop offset="0.562" stop-color="#fdd364"/><stop offset="0.575" stop-color="#ffffff"/><stop offset="0.644" stop-color="#ffffff"/><stop offset="0.658" stop-color="#fff7cc"/><stop offset="0.671" stop-color="#f7b53f"/><stop offset="0.685" stop-color="#ea962e"/><stop offset="0.712" stop-color="#ee9c2f"/><stop offset="0.726" stop-color="#f6b03b"/><stop offset="0.74" stop-color="#fdd261"/><stop offset="0.753" stop-color="#fff2ae"/><stop offset="0.767" stop-color="#ffffff"/><stop offset="0.932" stop-color="#ffffff"/><stop offset="0.945" stop-color="#fff8d2"/><stop offset="0.959" stop-color="#fee07d"/><stop offset="0.973" stop-color="#f9bd45"/><stop offset="0.986" stop-color="#f2a230"/><stop offset="1" stop-color="#eb972f"/></linearGradient><linearGradient id="s96"><stop offset="0" stop-color="#f3a633"/><stop offset="0.0137" stop-color="#fff9db"/><stop offset="0.0274" stop-color="#ffffff"/><stop offset="0.0411" stop-color="#ffffff"/><stop offset="0.0548" stop-color="#fff4bc"/><stop offset="0.0685" stop-color="#e9942e"/><stop offset="0.0822" stop-color="#c3803d"/><stop offset="0.0959" stop-color="#e0872c"/><stop offset="0.11" stop-color="#f6b13c"/><stop offset="0.123" stop-color="#ffe98d"/><stop offset="0.137" stop-color="#fffbe6"/><stop offset="0.151" stop-color="#ffffff"/><stop offset="0.205" stop-color="#ffffff"/><stop offset="0.219" stop-color="#fffbe7"/><stop offset="0.233" stop-color="#ffec92"/><stop offset="0.247" stop-color="#f9bd45"/><stop offset="0.26" stop-color="#f1a130"/><stop offset="0.274" stop-color="#f5ae3a"/><stop offset="0.288" stop-color="#fdd161"/><stop offset="0.301" stop-color="#fff0a0"/><stop offset="0.315" stop-color="#fffadd"/><stop offset="0.329" stop-color="#ffffff"/><stop offset="0.438" stop-color="#ffffff"/><stop offset="0.452" stop-color="#fffdf0"/><stop offset="0.479" stop-color="#fedf7a"/><stop offset="0.493" stop-color="#f9bb43"/><stop offset="0.507" stop-color="#ec992f"/><stop offset="0.521" stop-color="#de842c"/><stop offset="0.534" stop-color="#cc8138"/><stop offset="0.548" stop-color="#e38b2d"/><stop offset="0.562" stop-color="#fcc64c"/><stop offset="0.575" stop-color="#fff6c5"/><stop offset="0.589" stop-color="#ffffff"/><stop offset="0.644" stop-color="#fffef7"/><stop offset="0.658" stop-color="#ffed94"/><stop offset="0.671" stop-color="#f4a835"/><stop offset="0.685" stop-color="#d48233"/><stop offset="0.699" stop-color="#c5803c"/><stop offset="0.726" stop-color="#e7912e"/><stop offset="0.74" stop-color="#f5ae39"/><stop offset="0.753" stop-color="#fdd263"/><stop offset="0.767" stop-color="#ffef9f"/><stop offset="0.781" stop-color="#fff9d7"/><stop offset="0.795" stop-color="#fffffc"/><stop offset="0.904" stop-color="#ffffff"/><stop offset="0.918" stop-color="#fffbe9"/><stop offset="0.945" stop-color="#fedf7b"/><stop offset="0.959" stop-color="#f9bd45"/><stop offset="0.973" stop-color="#ed9b2f"/><stop offset="0.986" stop-color="#df862c"/><stop offset="1" stop-color="#c98139"/></linearGradient><linearGradient id="s97"><stop offset="0" stop-color="#e1892d"/><stop offset="0.0137" stop-color="#fcc74e"/><stop offset="0.0274" stop-color="#fdd161"/><stop offset="0.0411" stop-color="#fdd161"/><stop offset="0.0548" stop-color="#fabf46"/><stop offset="0.0685" stop-color="#c98139"/><stop offset="0.0822" stop-color="#72716f"/><stop offset="0.0959" stop-color="#897762"/><stop offset="0.11" stop-color="#d28234"/><stop offset="0.123" stop-color="#f3a532"/><stop offset="0.137" stop-color="#fcc64c"/><stop offset="0.151" stop-color="#fdd262"/><stop offset="0.205" stop-color="#fdd263"/><stop offset="0.219" stop-color="#fcc64c"/><stop offset="0.247" stop-color="#e0872c"/><stop offset="0.26" stop-color="#bb7f42"/><stop offset="0.274" stop-color="#c98139"/><stop offset="0.288" stop-color="#e7912e"/><stop offset="0.329" stop-color="#fdcf5c"/><stop offset="0.425" stop-color="#fdd76c"/><stop offset="0.452" stop-color="#fcc850"/><stop offset="0.479" stop-color="#ed9b2f"/><stop offset="0.493" stop-color="#d88330"/><stop offset="0.507" stop-color="#a47b51"/><stop offset="0.521" stop-color="#807567"/><stop offset="0.534" stop-color="#78736c"/><stop offset="0.548" stop-color="#a37b51"/><stop offset="0.562" stop-color="#e9942e"/><stop offset="0.575" stop-color="#fabf46"/><stop offset="0.589" stop-color="#fdd161"/><stop offset="0.63" stop-color="#fdd567"/><stop offset="0.644" stop-color="#fccd58"/><stop offset="0.658" stop-color="#f6af3a"/><stop offset="0.671" stop-color="#da832f"/><stop offset="0.685" stop-color="#877763"/><stop offset="0.699" stop-color="#707170"/><stop offset="0.712" stop-color="#7b746a"/><stop offset="0.726" stop-color="#997a57"/><stop offset="0.74" stop-color="#c98139"/><stop offset="0.753" stop-color="#e8932e"/><stop offset="0.795" stop-color="#fccc57"/><stop offset="0.89" stop-color="#fdd365"/><stop offset="0.918" stop-color="#fcc64c"/><stop offset="0.945" stop-color="#ee9c2f"/><stop offset="0.959" stop-color="#de842c"/><stop offset="0.986" stop-color="#857664"/><stop offset="1" stop-color="#707170"/></linearGradient><linearGradient id="s98"><stop offset="0" stop-color="#b07d49"/><stop offset="0.0137" stop-color="#e8922e"/><stop offset="0.0411" stop-color="#eb982f"/><stop offset="0.0548" stop-color="#e58e2d"/><stop offset="0.0822" stop-color="#4a6484"/><stop offset="0.0959" stop-color="#536981"/><stop offset="0.123" stop-color="#cc8137"/><stop offset="0.137" stop-color="#e6902e"/><stop offset="0.205" stop-color="#ec992f"/><stop offset="0.233" stop-color="#d28234"/><stop offset="0.247" stop-color="#9c7a56"/><stop offset="0.26" stop-color="#7a736a"/><stop offset="0.274" stop-color="#817566"/><stop offset="0.301" stop-color="#d18234"/><stop offset="0.438" stop-color="#ec992f"/><stop offset="0.466" stop-color="#de852c"/><stop offset="0.507" stop-color="#636e78"/><stop offset="0.521" stop-color="#4b6584"/><stop offset="0.534" stop-color="#4b6584"/><stop offset="0.548" stop-color="#73716f"/><stop offset="0.562" stop-color="#bb7f42"/><stop offset="0.575" stop-color="#e58e2d"/><stop offset="0.644" stop-color="#ea962e"/><stop offset="0.658" stop-color="#df852c"/><stop offset="0.685" stop-color="#5b6b7d"/><stop offset="0.699" stop-color="#465f84"/><stop offset="0.712" stop-color="#496384"/><stop offset="0.74" stop-color="#817566"/><stop offset="0.767" stop-color="#d38233"/><stop offset="0.904" stop-color="#ea972e"/><stop offset="0.932" stop-color="#df852c"/><stop offset="0.973" stop-color="#6b6f73"/><stop offset="0.986" stop-color="#4e6884"/><stop offset="1" stop-color="#445d84"/></linearGradient><linearGradient id="s99"><stop offset="0" stop-color="#d68331"/><stop offset="0.0137" stop-color="#ef9e2f"/><stop offset="0.0548" stop-color="#ed9a2f"/><stop offset="0.0685" stop-color="#c1803e"/><stop offset="0.0822" stop-color="#656e77"/><stop offset="0.0959" stop-color="#676f75"/><stop offset="0.123" stop-color="#e0872c"/><stop offset="0.151" stop-color="#f2a331"/><stop offset="0.219" stop-color="#ee9c2f"/><stop offset="0.233" stop-color="#e28a2d"/><stop offset="0.26" stop-color="#93795b"/><stop offset="0.274" stop-color="#987a58"/><stop offset="0.301" stop-color="#e1882d"/><stop offset="0.438" stop-color="#f2a431"/><stop offset="0.466" stop-color="#e58f2d"/><stop offset="0.479" stop-color="#ce8236"/><stop offset="0.507" stop-color="#75726e"/><stop offset="0.521" stop-color="#5a6b7d"/><stop offset="0.534" stop-color="#616d79"/><stop offset="0.548" stop-color="#93795b"/><stop offset="0.562" stop-color="#dc842d"/><stop offset="0.589" stop-color="#f2a431"/><stop offset="0.644" stop-color="#f1a130"/><stop offset="0.658" stop-color="#e8922e"/><stop offset="0.671" stop-color="#bf803f"/><stop offset="0.685" stop-color="#78736b"/><stop offset="0.699" stop-color="#536981"/><stop offset="0.712" stop-color="#566a7f"/><stop offset="0.74" stop-color="#977a59"/><stop offset="0.767" stop-color="#e28a2d"/><stop offset="0.904" stop-color="#f1a130"/><stop offset="0.932" stop-color="#e68f2e"/><stop offset="0.945" stop-color="#d48332"/><stop offset="0.986" stop-color="#5e6c7b"/><stop offset="1" stop-color="#4b6584"/></linearGradient><linearGradient id="s100"><stop offset="0" stop-color="#fcc64c"/><stop offset="0.0137" stop-color="#fee687"/><stop offset="0.0411" stop-color="#ffeb90"/><stop offset="0.0548" stop-color="#fee381"/><stop offset="0.0685" stop-color="#f9ba43"/><stop offset="0.0822" stop-color="#d68331"/><stop offset="0.0959" stop-color="#cc8137"/><stop offset="0.11" stop-color="#f09f30"/><stop offset="0.123" stop-color="#fcca53"/><stop offset="0.137" stop-color="#fee280"/><stop offset="0.164" stop-color="#ffee98"/><stop offset="0.205" stop-color="#ffec93"/><stop offset="0.219" stop-color="#fee382"/><stop offset="0.247" stop-color="#f5ae3a"/><stop offset="0.26" stop-color="#eb982f"/><stop offset="0.274" stop-color="#ec992f"/><stop offset="0.288" stop-color="#f5ae39"/><stop offset="0.315" stop-color="#fedd76"/><stop offset="0.342" stop-color="#ffef9a"/><stop offset="0.425" stop-color="#ffef9d"/><stop offset="0.452" stop-color="#fee381"/><stop offset="0.479" stop-color="#f8b942"/><stop offset="0.493" stop-color="#ed9b2f"/><stop offset="0.507" stop-color="#d88330"/><stop offset="0.521" stop-color="#b77e45"/><stop offset="0.534" stop-color="#c98139"/><stop offset="0.548" stop-color="#ee9b2f"/><stop offset="0.562" stop-color="#fcc84f"/><stop offset="0.575" stop-color="#fee280"/><stop offset="0.589" stop-color="#ffed94"/><stop offset="0.63" stop-color="#ffee97"/><stop offset="0.644" stop-color="#ffea8e"/><stop offset="0.658" stop-color="#fdda70"/><stop offset="0.671" stop-color="#f8b640"/><stop offset="0.685" stop-color="#e38b2d"/><stop offset="0.699" stop-color="#b27e48"/><stop offset="0.712" stop-color="#af7d4a"/><stop offset="0.726" stop-color="#d48332"/><stop offset="0.74" stop-color="#eb972f"/><stop offset="0.767" stop-color="#fccc57"/><stop offset="0.795" stop-color="#fee789"/><stop offset="0.89" stop-color="#ffed95"/><stop offset="0.918" stop-color="#fee17e"/><stop offset="0.945" stop-color="#fabe46"/><stop offset="0.959" stop-color="#f2a130"/><stop offset="0.973" stop-color="#e1892d"/><stop offset="1" stop-color="#997a58"/></linearGradient><linearGradient id="s101"><stop offset="0" stop-color="#fffdf0"/><stop offset="0.0137" stop-color="#ffffff"/><stop offset="0.0548" stop-color="#ffffff"/><stop offset="0.0685" stop-color="#fff9d8"/><stop offset="0.0822" stop-color="#fcc952"/><stop offset="0.0959" stop-color="#f9bc44"/><stop offset="0.11" stop-color="#ffe88b"/><stop offset="0.123" stop-color="#fffdf2"/><stop offset="0.233" stop-color="#ffffff"/><stop offset="0.247" stop-color="#fff3b4"/><stop offset="0.26" stop-color="#fee17e"/><stop offset="0.274" stop-color="#fee07c"/><stop offset="0.288" stop-color="#fff1ab"/><stop offset="0.301" stop-color="#fffcef"/><stop offset="0.315" stop-color="#ffffff"/><stop offset="0.466" stop-color="#ffffff"/><stop offset="0.479" stop-color="#fff6c5"/><stop offset="0.493" stop-color="#fee07c"/><stop offset="0.507" stop-color="#fabf46"/><stop offset="0.521" stop-color="#f5ab37"/><stop offset="0.534" stop-color="#f9bc44"/><stop offset="0.548" stop-color="#ffe98c"/><stop offset="0.562" stop-color="#fffdf4"/><stop offset="0.658" stop-color="#ffffff"/><stop offset="0.671" stop-color="#fff7cc"/><stop offset="0.685" stop-color="#fdd466"/><stop offset="0.699" stop-color="#f5ac38"/><stop offset="0.712" stop-color="#f3a633"/><stop offset="0.726" stop-color="#fabd45"/><stop offset="0.74" stop-color="#fedd77"/><stop offset="0.767" stop-color="#fffef7"/><stop offset="0.932" stop-color="#ffffff"/><stop offset="0.945" stop-color="#fff8d3"/><stop offset="0.959" stop-color="#ffea8f"/><stop offset="0.973" stop-color="#fcca53"/><stop offset="0.986" stop-color="#f4aa36"/><stop offset="1" stop-color="#e9952e"/></linearGradient><linearGradient id="s102"><stop offset="0" stop-color="#ffffff"/><stop offset="0.0685" stop-color="#ffffff"/><stop offset="0.0822" stop-color="#fff2b0"/><stop offset="0.0959" stop-color="#fee789"/><stop offset="0.11" stop-color="#fffcea"/><stop offset="0.123" stop-color="#ffffff"/><stop offset="0.247" stop-color="#ffffff"/><stop offset="0.26" stop-color="#fff9dc"/><stop offset="0.274" stop-color="#fff8d6"/><stop offset="0.288" stop-color="#ffffff"/><stop offset="0.479" stop-color="#ffffff"/><stop offset="0.493" stop-color="#fff7d0"/><stop offset="0.507" stop-color="#fee484"/><stop offset="0.521" stop-color="#fdd567"/><stop offset="0.534" stop-color="#ffe98c"/><stop offset="0.548" stop-color="#fffef6"/><stop offset="0.671" stop-color="#ffffff"/><stop offset="0.685" stop-color="#fff5c4"/><stop offset="0.699" stop-color="#fdd86e"/><stop offset="0.712" stop-color="#fdcf5d"/><stop offset="0.726" stop-color="#fee483"/><stop offset="0.74" stop-color="#fff7cb"/><stop offset="0.753" stop-color="#ffffff"/><stop offset="0.945" stop-color="#ffffff"/><stop offset="0.959" stop-color="#fffcec"/><stop offset="0.973" stop-color="#ffef9b"/><stop offset="0.986" stop-color="#fdd05f"/><stop offset="1" stop-color="#f8b740"/></linearGradient><linearGradient id="s103"><stop offset="0" stop-color="#ffffff"/><stop offset="0.0685" stop-color="#ffffff"/><stop offset="0.0822" stop-color="#fff3b5"/><stop offset="0.0959" stop-color="#fee688"/><stop offset="0.11" stop-color="#fff9da"/><stop offset="0.123" stop-color="#ffffff"/><stop offset="0.247" stop-color="#ffffff"/><stop offset="0.26" stop-color="#fff8d1"/><stop offset="0.274" stop-color="#fff6c9"/><stop offset="0.288" stop-color="#fffef8"/><stop offset="0.479" stop-color="#ffffff"/><stop offset="0.507" stop-color="#fedf7b"/><stop offset="0.521" stop-color="#fdd465"/><stop offset="0.534" stop-color="#ffe98c"/><stop offset="0.548" stop-color="#fffcee"/><stop offset="0.562" stop-color="#ffffff"/><stop offset="0.671" stop-color="#ffffff"/><stop offset="0.685" stop-color="#fff5c1"/><stop offset="0.699" stop-color="#fdd96f"/><stop offset="0.712" stop-color="#fdce5a"/><stop offset="0.726" stop-color="#fedf7b"/><stop offset="0.753" stop-color="#ffffff"/><stop offset="0.945" stop-color="#ffffff"/><stop offset="0.959" stop-color="#fff9da"/><stop offset="0.973" stop-color="#ffea8f"/><stop offset="0.986" stop-color="#fccc56"/><stop offset="1" stop-color="#f6b23c"/></linearGradient><linearGradient id="s104"><stop offset="0" stop-color="#fff6c5"/><stop offset="0.0137" stop-color="#fffef6"/><stop offset="0.0411" stop-color="#fffffd"/><stop offset="0.0548" stop-color="#fffdf2"/><stop offset="0.0685" stop-color="#fff4bb"/><stop offset="0.0822" stop-color="#fdd263"/><stop offset="0.0959" stop-color="#fabe46"/><stop offset="0.11" stop-color="#fedb73"/><stop offset="0.123" stop-color="#fff4bc"/><stop offset="0.137" stop-color="#fffcee"/><stop offset="0.151" stop-color="#ffffff"/><stop offset="0.205" stop-color="#ffffff"/><stop offset="0.219" stop-color="#fffdf3"/><stop offset="0.233" stop-color="#fff7cd"/><stop offset="0.247" stop-color="#ffee96"/><stop offset="0.26" stop-color="#fdd96f"/><stop offset="0.274" stop-color="#fdd568"/><stop offset="0.288" stop-color="#fee484"/><stop offset="0.315" stop-color="#fffae0"/><stop offset="0.329" stop-color="#fffffd"/><stop offset="0.438" stop-color="#ffffff"/><stop offset="0.452" stop-color="#fffced"/><stop offset="0.466" stop-color="#fff6c7"/><stop offset="0.479" stop-color="#ffec92"/><stop offset="0.493" stop-color="#fdcf5d"/><stop offset="0.507" stop-color="#f7b43e"/><stop offset="0.521" stop-color="#f4ab37"/><stop offset="0.534" stop-color="#fac048"/><stop offset="0.548" stop-color="#fee483"/><stop offset="0.562" stop-color="#fff6c8"/><stop offset="0.575" stop-color="#fffdf4"/><stop offset="0.644" stop-color="#ffffff"/><stop offset="0.658" stop-color="#fffbe6"/><stop offset="0.671" stop-color="#fff2ae"/><stop offset="0.685" stop-color="#fdd567"/><stop offset="0.699" stop-color="#f6b23c"/><stop offset="0.712" stop-color="#f3a532"/><stop offset="0.726" stop-color="#f7b43e"/><stop offset="0.74" stop-color="#fdcf5d"/><stop offset="0.753" stop-color="#ffea8e"/><stop offset="0.781" stop-color="#fffae1"/><stop offset="0.808" stop-color="#ffffff"/><stop offset="0.904" stop-color="#fffffd"/><stop offset="0.932" stop-color="#fff7ce"/><stop offset="0.945" stop-color="#fff0a1"/><stop offset="0.973" stop-color="#fabe45"/><stop offset="0.986" stop-color="#f1a030"/><stop offset="1" stop-color="#e48e2d"/></linearGradient><linearGradient id="s105"><stop offset="0" stop-color="#fabe46"/><stop offset="0.0137" stop-color="#fdce5b"/><stop offset="0.0548" stop-color="#fdcd59"/><stop offset="0.0685" stop-color="#f9bb43"/><stop offset="0.0822" stop-color="#ec992f"/><stop offset="0.0959" stop-color="#e28a2d"/><stop offset="0.11" stop-color="#ee9d2f"/><stop offset="0.137" stop-color="#fccc56"/><stop offset="0.205" stop-color="#fdd363"/><stop offset="0.233" stop-color="#fbc148"/><stop offset="0.26" stop-color="#ee9c2f"/><stop offset="0.274" stop-color="#ec982f"/><stop offset="0.329" stop-color="#fdd05f"/><stop offset="0.425" stop-color="#fdd66a"/><stop offset="0.466" stop-color="#fabe46"/><stop offset="0.493" stop-color="#e8932e"/><stop offset="0.507" stop-color="#d9832f"/><stop offset="0.521" stop-color="#cf8236"/><stop offset="0.534" stop-color="#e38c2d"/><stop offset="0.548" stop-color="#f3a532"/><stop offset="0.575" stop-color="#fdce5a"/><stop offset="0.644" stop-color="#fdd261"/><stop offset="0.671" stop-color="#f8b63f"/><stop offset="0.685" stop-color="#ed9a2f"/><stop offset="0.699" stop-color="#db842e"/><stop offset="0.712" stop-color="#c7813b"/><stop offset="0.726" stop-color="#d9832f"/><stop offset="0.753" stop-color="#f4a734"/><stop offset="0.822" stop-color="#fdd465"/><stop offset="0.904" stop-color="#fdd05f"/><stop offset="0.945" stop-color="#f6b03b"/><stop offset="0.973" stop-color="#e0872c"/><stop offset="1" stop-color="#9a7a57"/></linearGradient><linearGradient id="s106"><stop offset="0" stop-color="#ef9e2f"/><stop offset="0.0548" stop-color="#f4aa36"/><stop offset="0.0822" stop-color="#de852c"/><stop offset="0.0959" stop-color="#c3803d"/><stop offset="0.11" stop-color="#df862c"/><stop offset="0.137" stop-color="#f4a935"/><stop offset="0.219" stop-color="#f4ab37"/><stop offset="0.274" stop-color="#db832e"/><stop offset="0.425" stop-color="#f7b33d"/><stop offset="0.479" stop-color="#e58e2d"/><stop offset="0.507" stop-color="#ae7d4a"/><stop offset="0.521" stop-color="#a87c4e"/><stop offset="0.548" stop-color="#e48d2d"/><stop offset="0.589" stop-color="#f6b03b"/><stop offset="0.658" stop-color="#f3a734"/><stop offset="0.685" stop-color="#de852c"/><stop offset="0.699" stop-color="#b47e47"/><stop offset="0.712" stop-color="#a17b52"/><stop offset="0.726" stop-color="#af7d4a"/><stop offset="0.753" stop-color="#e58e2d"/><stop offset="0.904" stop-color="#f5ad39"/><stop offset="0.959" stop-color="#de842c"/><stop offset="1" stop-color="#79736b"/></linearGradient><linearGradient id="s107"><stop offset="0" stop-color="#fcc74e"/><stop offset="0.0137" stop-color="#fdd567"/><stop offset="0.0548" stop-color="#fdd466"/><stop offset="0.0685" stop-color="#fcc64d"/><stop offset="0.0822" stop-color="#f4a835"/><stop offset="0.0959" stop-color="#ec982f"/><stop offset="0.11" stop-color="#f4a834"/><stop offset="0.137" stop-color="#fdd263"/><stop offset="0.205" stop-color="#fdd96f"/><stop offset="0.26" stop-color="#f4a835"/><stop offset="0.274" stop-color="#f2a331"/><stop offset="0.329" stop-color="#fdd76b"/><stop offset="0.438" stop-color="#fdd96f"/><stop offset="0.493" stop-color="#ee9c2f"/><stop offset="0.521" stop-color="#e28b2d"/><stop offset="0.548" stop-color="#f6b23d"/><stop offset="0.575" stop-color="#fdd567"/><stop offset="0.644" stop-color="#fdd86d"/><stop offset="0.671" stop-color="#fbc249"/><stop offset="0.685" stop-color="#f4a734"/><stop offset="0.712" stop-color="#e0872c"/><stop offset="0.74" stop-color="#ef9e2f"/><stop offset="0.795" stop-color="#fdd568"/><stop offset="0.904" stop-color="#fdd76b"/><stop offset="0.945" stop-color="#f9b942"/><stop offset="0.973" stop-color="#e7922e"/><stop offset="0.986" stop-color="#d38233"/><stop offset="1" stop-color="#b27e48"/></linearGradient><linearGradient id="s108"><stop offset="0" stop-color="#fffefb"/><stop offset="0.0685" stop-color="#fffefa"/><stop offset="0.0822" stop-color="#fff2b0"/><stop offset="0.0959" stop-color="#fee686"/><stop offset="0.11" stop-color="#fff1ab"/><stop offset="0.123" stop-color="#fffdf0"/><stop offset="0.137" stop-color="#ffffff"/><stop offset="0.233" stop-color="#ffffff"/><stop offset="0.26" stop-color="#fff2ad"/><stop offset="0.274" stop-color="#fff0a0"/><stop offset="0.288" stop-color="#fff4b9"/><stop offset="0.301" stop-color="#fffbe6"/><stop offset="0.315" stop-color="#ffffff"/><stop offset="0.452" stop-color="#ffffff"/><stop offset="0.466" stop-color="#fffef7"/><stop offset="0.493" stop-color="#ffe88c"/><stop offset="0.507" stop-color="#fdd467"/><stop offset="0.521" stop-color="#fdd363"/><stop offset="0.534" stop-color="#fee687"/><stop offset="0.562" stop-color="#ffffff"/><stop offset="0.658" stop-color="#ffffff"/><stop offset="0.671" stop-color="#fffcee"/><stop offset="0.699" stop-color="#fedc75"/><stop offset="0.712" stop-color="#fdcf5c"/><stop offset="0.726" stop-color="#fdd669"/><stop offset="0.767" stop-color="#fffdf1"/><stop offset="0.932" stop-color="#ffffff"/><stop offset="0.959" stop-color="#fff0a4"/><stop offset="0.986" stop-color="#fbc148"/><stop offset="1" stop-color="#f4a936"/></linearGradient><linearGradient id="s109"><stop offset="0" stop-color="#ffffff"/><stop offset="0.493" stop-color="#ffffff"/><stop offset="0.507" stop-color="#fffcea"/><stop offset="0.521" stop-color="#fffbe7"/><stop offset="0.534" stop-color="#ffffff"/><stop offset="0.699" stop-color="#ffffff"/><stop offset="0.712" stop-color="#fff9dc"/><stop offset="0.74" stop-color="#ffffff"/><stop offset="0.973" stop-color="#fffefa"/><stop offset="0.986" stop-color="#fff3b4"/><stop offset="1" stop-color="#fee27f"/></linearGradient><linearGradient id="s110"><stop offset="0" stop-color="#ffffff"/><stop offset="0.973" stop-color="#ffffff"/><stop offset="0.986" stop-color="#fff8d5"/><stop offset="1" stop-color="#ffee97"/></linearGradient><linearGradient id="s111"><stop offset="0" stop-color="#ffffff"/><stop offset="0.0685" stop-color="#ffffff"/><stop offset="0.0822" stop-color="#fff6c6"/><stop offset="0.0959" stop-color="#fff1aa"/><stop offset="0.11" stop-color="#fffef9"/><stop offset="0.247" stop-color="#ffffff"/><stop offset="0.274" stop-color="#fff7cf"/><stop offset="0.301" stop-color="#ffffff"/><stop offset="0.479" stop-color="#fffef8"/><stop offset="0.493" stop-color="#fff3b2"/><stop offset="0.507" stop-color="#fee687"/><stop offset="0.521" stop-color="#ffe98d"/><stop offset="0.548" stop-color="#ffffff"/><stop offset="0.685" stop-color="#ffffff"/><stop offset="0.699" stop-color="#fff5c4"/><stop offset="0.712" stop-color="#ffef9e"/><stop offset="0.726" stop-color="#fff2ad"/><stop offset="0.74" stop-color="#fffae1"/><stop offset="0.753" stop-color="#ffffff"/><stop offset="0.959" stop-color="#fffef9"/><stop offset="0.986" stop-color="#fede79"/><stop offset="1" stop-color="#fcc64c"/></linearGradient><linearGradient id="s112"><stop offset="0" stop-color="#f8b640"/><stop offset="0.0411" stop-color="#fcca53"/><stop offset="0.0548" stop-color="#fcc64c"/><stop offset="0.0822" stop-color="#e9942e"/><stop offset="0.0959" stop-color="#e6902e"/><stop offset="0.11" stop-color="#f5af3a"/><stop offset="0.123" stop-color="#fdd363"/><stop offset="0.137" stop-color="#fee789"/><stop offset="0.164" stop-color="#ffef9f"/><stop offset="0.205" stop-color="#ffef9a"/><stop offset="0.219" stop-color="#ffe88b"/><stop offset="0.247" stop-color="#f8b942"/><stop offset="0.26" stop-color="#ef9e2f"/><stop offset="0.274" stop-color="#ea962e"/><stop offset="0.342" stop-color="#fdcd59"/><stop offset="0.438" stop-color="#fccb55"/><stop offset="0.507" stop-color="#e38b2d"/><stop offset="0.521" stop-color="#e8932e"/><stop offset="0.534" stop-color="#f5ad38"/><stop offset="0.562" stop-color="#fee585"/><stop offset="0.589" stop-color="#fff1a9"/><stop offset="0.644" stop-color="#fff1a7"/><stop offset="0.671" stop-color="#fedf7b"/><stop offset="0.685" stop-color="#fcc850"/><stop offset="0.699" stop-color="#f5ad38"/><stop offset="0.712" stop-color="#f09f30"/><stop offset="0.726" stop-color="#f2a431"/><stop offset="0.781" stop-color="#ffeb90"/><stop offset="0.89" stop-color="#fff1a9"/><stop offset="0.932" stop-color="#fee484"/><stop offset="0.973" stop-color="#f3a633"/><stop offset="1" stop-color="#d08235"/></linearGradient><linearGradient id="s113"><stop offset="0" stop-color="#7e7468"/><stop offset="0.0548" stop-color="#8a7761"/><stop offset="0.0822" stop-color="#686f75"/><stop offset="0.0959" stop-color="#6c7072"/><stop offset="0.123" stop-color="#b87e44"/><stop offset="0.151" stop-color="#dc842d"/><stop offset="0.205" stop-color="#dc842d"/><stop offset="0.233" stop-color="#bb7f42"/><stop offset="0.26" stop-color="#78736c"/><stop offset="0.274" stop-color="#6a6f74"/><stop offset="0.438" stop-color="#8d785f"/><stop offset="0.507" stop-color="#5c6c7c"/><stop offset="0.521" stop-color="#696f75"/><stop offset="0.534" stop-color="#90795d"/><stop offset="0.548" stop-color="#c8813a"/><stop offset="0.562" stop-color="#e58f2d"/><stop offset="0.644" stop-color="#ef9e2f"/><stop offset="0.671" stop-color="#e28a2d"/><stop offset="0.699" stop-color="#95795a"/><stop offset="0.712" stop-color="#887762"/><stop offset="0.726" stop-color="#9b7a57"/><stop offset="0.753" stop-color="#df852c"/><stop offset="0.918" stop-color="#ef9d2f"/><stop offset="0.945" stop-color="#e38b2d"/><stop offset="0.959" stop-color="#cc8137"/><stop offset="1" stop-color="#646e77"/></linearGradient><linearGradient id="s114"><stop offset="0" stop-color="#4f6883"/><stop offset="0.0959" stop-color="#4e6884"/><stop offset="0.137" stop-color="#827566"/><stop offset="0.219" stop-color="#827566"/><stop offset="0.274" stop-color="#4b6584"/><stop offset="0.507" stop-color="#496284"/><stop offset="0.521" stop-color="#526982"/><stop offset="0.562" stop-color="#bc7f42"/><stop offset="0.589" stop-color="#d78330"/><stop offset="0.644" stop-color="#d58332"/><stop offset="0.671" stop-color="#b27e48"/><stop offset="0.699" stop-color="#74726e"/><stop offset="0.712" stop-color="#6e7072"/><stop offset="0.726" stop-color="#817567"/><stop offset="0.753" stop-color="#ca8139"/><stop offset="0.767" stop-color="#e1892d"/><stop offset="0.918" stop-color="#ea962e"/><stop offset="0.945" stop-color="#d88330"/><stop offset="0.986" stop-color="#6a6f73"/><stop offset="1" stop-color="#516982"/></linearGradient><linearGradient id="s115"><stop offset="0" stop-color="#7f7568"/><stop offset="0.0959" stop-color="#817566"/><stop offset="0.219" stop-color="#9d7b55"/><stop offset="0.507" stop-color="#7d7469"/><stop offset="0.521" stop-color="#877763"/><stop offset="0.562" stop-color="#d78331"/><stop offset="0.658" stop-color="#df852c"/><stop offset="0.699" stop-color="#a87c4e"/><stop offset="0.712" stop-color="#aa7c4d"/><stop offset="0.74" stop-color="#e0872c"/><stop offset="0.795" stop-color="#f8b841"/><stop offset="0.918" stop-color="#f7b43e"/><stop offset="0.959" stop-color="#e58e2d"/><stop offset="1" stop-color="#90795e"/></linearGradient><linearGradient id="s116"><stop offset="0" stop-color="#cd8137"/><stop offset="0.521" stop-color="#d38233"/><stop offset="0.726" stop-color="#e8932e"/><stop offset="0.904" stop-color="#fbc349"/><stop offset="1" stop-color="#de842c"/></linearGradient><clipPath id="stmclip"><rect x="564.0" y="277.6" width="359.3" height="167.2"/></clipPath>
<filter id="stmblur" x="-5%" y="-5%" width="110%" height="110%"><feGaussianBlur stdDeviation="1.3 0.75"/></filter>
<filter id="grain" x="0" y="0" width="100%" height="100%" color-interpolation-filters="sRGB"><feTurbulence type="fractalNoise" baseFrequency="0.35 0.9" numOctaves="2" seed="7"/><feColorMatrix type="matrix" values="0.33 0.33 0.33 0 0  0.33 0.33 0.33 0 0  0.33 0.33 0.33 0 0  0 0 0 0 1"/></filter><filter id="spblur" x="-50%" y="-50%" width="200%" height="200%"><feGaussianBlur stdDeviation="0.6"/></filter></defs>
<g clip-path="url(#stmclip)"><g filter="url(#stmblur)"><g transform="matrix(1 0.009 0 1 0 -6.4)">
<rect x="560.0" y="274.00" width="365.0" height="1.70" fill="#334b84"/>
<rect x="560.0" y="275.00" width="365.0" height="1.70" fill="#4a6484"/>
<rect x="560.0" y="276.00" width="365.0" height="1.70" fill="#3f5884"/>
<rect x="560.0" y="277.00" width="365.0" height="1.70" fill="#243377"/>
<rect x="560.0" y="278.00" width="365.0" height="1.70" fill="#191c63"/>
<rect x="560.0" y="279.00" width="365.0" height="1.70" fill="#191c62"/>
<rect x="560.0" y="280.00" width="365.0" height="1.70" fill="#222f75"/>
<rect x="560.0" y="281.00" width="365.0" height="1.70" fill="#3d5684"/>
<rect x="560.0" y="282.00" width="365.0" height="1.70" fill="#4b6584"/>
<rect x="560.0" y="283.00" width="365.0" height="1.70" fill="#385084"/>
<rect x="560.0" y="284.00" width="365.0" height="1.70" fill="#202a71"/>
<rect x="560.0" y="285.00" width="365.0" height="1.70" fill="#191b62"/>
<rect x="560.0" y="286.00" width="365.0" height="1.70" fill="#1a1f65"/>
<rect x="560.0" y="287.00" width="365.0" height="1.70" fill="#273a7d"/>
<rect x="560.0" y="288.00" width="365.0" height="1.70" fill="#445d84"/>
<rect x="560.0" y="289.00" width="365.0" height="1.70" fill="#4b6584"/>
<rect x="560.0" y="290.00" width="365.0" height="1.70" fill="#314984"/>
<rect x="560.0" y="291.00" width="365.0" height="1.70" fill="#1d246c"/>
<rect x="560.0" y="292.00" width="365.0" height="1.70" fill="#191b62"/>
<rect x="560.0" y="293.00" width="365.0" height="1.70" fill="#1d246c"/>
<rect x="560.0" y="294.00" width="365.0" height="1.70" fill="#324a84"/>
<rect x="560.0" y="295.00" width="365.0" height="1.70" fill="#4c6684"/>
<rect x="560.0" y="296.00" width="365.0" height="1.70" fill="#455e84"/>
<rect x="560.0" y="297.00" width="365.0" height="1.70" fill="#27397c"/>
<rect x="560.0" y="298.00" width="365.0" height="1.70" fill="#1a1f65"/>
<rect x="560.0" y="299.00" width="365.0" height="1.70" fill="#1a1e64"/>
<rect x="560.0" y="300.00" width="365.0" height="1.70" fill="#253679"/>
<rect x="560.0" y="301.00" width="365.0" height="1.70" fill="#435c84"/>
<rect x="560.0" y="302.00" width="365.0" height="1.70" fill="#4f6884"/>
<rect x="560.0" y="303.00" width="365.0" height="1.70" fill="#385084"/>
<rect x="560.0" y="304.00" width="365.0" height="1.70" fill="#202971"/>
<rect x="560.0" y="305.00" width="365.0" height="1.70" fill="#191d63"/>
<rect x="560.0" y="306.00" width="365.0" height="1.70" fill="#1d236b"/>
<rect x="560.0" y="307.00" width="365.0" height="1.70" fill="#2e4684"/>
<rect x="560.0" y="308.00" width="365.0" height="1.70" fill="#4c6684"/>
<rect x="560.0" y="309.00" width="365.0" height="1.70" fill="#4c6684"/>
<rect x="560.0" y="310.00" width="365.0" height="1.70" fill="#2e4784"/>
<rect x="560.0" y="311.00" width="365.0" height="1.70" fill="#1d246b"/>
<rect x="560.0" y="312.00" width="365.0" height="1.70" fill="#1a1d64"/>
<rect x="560.0" y="313.00" width="365.0" height="1.70" fill="#212c72"/>
<rect x="560.0" y="314.00" width="365.0" height="1.70" fill="#3a5384"/>
<rect x="560.0" y="315.00" width="365.0" height="1.70" fill="#556a80"/>
<rect x="560.0" y="316.00" width="365.0" height="1.70" fill="#4a6484"/>
<rect x="560.0" y="317.00" width="365.0" height="1.70" fill="#2a4081"/>
<rect x="560.0" y="318.00" width="365.0" height="1.70" fill="#1c2169"/>
<rect x="560.0" y="319.00" width="365.0" height="1.70" fill="#1b2066"/>
<rect x="560.0" y="320.00" width="365.0" height="1.70" fill="#283b7d"/>
<rect x="560.0" y="321.00" width="365.0" height="1.70" fill="#506883"/>
<rect x="560.0" y="322.00" width="365.0" height="1.70" fill="#77736c"/>
<rect x="560.0" y="323.00" width="365.0" height="1.70" fill="#576a7f"/>
<rect x="560.0" y="324.00" width="365.0" height="1.70" fill="#2a4182"/>
<rect x="560.0" y="325.00" width="365.0" height="1.70" fill="#1c236a"/>
<rect x="560.0" y="326.00" width="365.0" height="1.70" fill="#1f276f"/>
<rect x="560.0" y="327.00" width="365.0" height="1.70" fill="#3c5584"/>
<rect x="560.0" y="328.00" width="365.0" height="1.70" fill="#7f7568"/>
<rect x="560.0" y="329.00" width="365.0" height="1.70" fill="#94795b"/>
<rect x="560.0" y="330.00" width="365.0" height="1.70" fill="#546a81"/>
<rect x="560.0" y="331.00" width="365.0" height="1.70" fill="#26377a"/>
<rect x="560.0" y="332.00" width="365.0" height="1.70" fill="#1e256d"/>
<rect x="560.0" y="333.00" width="365.0" height="1.70" fill="#314984"/>
<rect x="560.0" y="334.00" width="365.0" height="1.70" fill="#7f7568"/>
<rect x="560.0" y="335.00" width="365.0" height="1.70" fill="#b67e45"/>
<rect x="560.0" y="336.00" width="365.0" height="1.70" fill="#8b7861"/>
<rect x="560.0" y="337.00" width="365.0" height="1.70" fill="#3e5784"/>
<rect x="560.0" y="338.00" width="365.0" height="1.70" fill="#222f75"/>
<rect x="560.0" y="339.00" width="365.0" height="1.70" fill="#253579"/>
<rect x="560.0" y="340.00" width="365.0" height="1.70" fill="#4c6684"/>
<rect x="560.0" y="341.00" width="365.0" height="1.70" fill="#a67c4f"/>
<rect x="560.0" y="342.00" width="365.0" height="1.70" fill="#c5803c"/>
<rect x="560.0" y="343.00" width="365.0" height="1.70" fill="#897762"/>
<rect x="560.0" y="344.00" width="365.0" height="1.70" fill="#3c5584"/>
<rect x="560.0" y="345.00" width="365.0" height="1.70" fill="#253478"/>
<rect x="560.0" y="346.00" width="365.0" height="1.70" fill="#2d4584"/>
<rect x="560.0" y="347.00" width="365.0" height="1.70" fill="#6d7072"/>
<rect x="560.0" y="348.00" width="365.0" height="1.70" fill="#c6803b"/>
<rect x="560.0" y="349.00" width="365.0" height="1.70" fill="#d18234"/>
<rect x="560.0" y="350.00" width="365.0" height="1.70" fill="#7b746a"/>
<rect x="560.0" y="351.00" width="365.0" height="1.70" fill="url(#s77)"/>
<rect x="560.0" y="352.00" width="365.0" height="1.70" fill="url(#s78)"/>
<rect x="560.0" y="353.00" width="365.0" height="1.70" fill="url(#s79)"/>
<rect x="560.0" y="354.00" width="365.0" height="1.70" fill="url(#s80)"/>
<rect x="560.0" y="355.00" width="365.0" height="1.70" fill="url(#s81)"/>
<rect x="560.0" y="356.00" width="365.0" height="1.70" fill="url(#s82)"/>
<rect x="560.0" y="357.00" width="365.0" height="1.70" fill="url(#s83)"/>
<rect x="560.0" y="358.00" width="365.0" height="1.70" fill="url(#s84)"/>
<rect x="560.0" y="359.00" width="365.0" height="1.70" fill="url(#s85)"/>
<rect x="560.0" y="360.00" width="365.0" height="1.70" fill="url(#s86)"/>
<rect x="560.0" y="361.00" width="365.0" height="1.70" fill="url(#s87)"/>
<rect x="560.0" y="362.00" width="365.0" height="1.70" fill="url(#s88)"/>
<rect x="560.0" y="363.00" width="365.0" height="1.70" fill="url(#s89)"/>
<rect x="560.0" y="364.00" width="365.0" height="1.70" fill="url(#s90)"/>
<rect x="560.0" y="365.00" width="365.0" height="1.70" fill="url(#s91)"/>
<rect x="560.0" y="366.00" width="365.0" height="1.70" fill="url(#s92)"/>
<rect x="560.0" y="367.00" width="365.0" height="1.70" fill="url(#s93)"/>
<rect x="560.0" y="368.00" width="365.0" height="1.70" fill="url(#s94)"/>
<rect x="560.0" y="369.00" width="365.0" height="1.70" fill="url(#s95)"/>
<rect x="560.0" y="370.00" width="365.0" height="1.70" fill="url(#s96)"/>
<rect x="560.0" y="371.00" width="365.0" height="1.70" fill="url(#s97)"/>
<rect x="560.0" y="372.00" width="365.0" height="1.70" fill="url(#s98)"/>
<rect x="560.0" y="373.00" width="365.0" height="1.70" fill="url(#s99)"/>
<rect x="560.0" y="374.00" width="365.0" height="1.70" fill="url(#s100)"/>
<rect x="560.0" y="375.00" width="365.0" height="1.70" fill="url(#s101)"/>
<rect x="560.0" y="376.00" width="365.0" height="1.70" fill="url(#s102)"/>
<rect x="560.0" y="377.00" width="365.0" height="1.70" fill="url(#s103)"/>
<rect x="560.0" y="378.00" width="365.0" height="1.70" fill="url(#s104)"/>
<rect x="560.0" y="379.00" width="365.0" height="1.70" fill="url(#s105)"/>
<rect x="560.0" y="380.00" width="365.0" height="1.70" fill="url(#s106)"/>
<rect x="560.0" y="381.00" width="365.0" height="1.70" fill="url(#s107)"/>
<rect x="560.0" y="382.00" width="365.0" height="1.70" fill="url(#s108)"/>
<rect x="560.0" y="383.00" width="365.0" height="1.70" fill="url(#s109)"/>
<rect x="560.0" y="384.00" width="365.0" height="1.70" fill="url(#s110)"/>
<rect x="560.0" y="385.00" width="365.0" height="1.70" fill="url(#s111)"/>
<rect x="560.0" y="386.00" width="365.0" height="1.70" fill="url(#s112)"/>
<rect x="560.0" y="387.00" width="365.0" height="1.70" fill="url(#s113)"/>
<rect x="560.0" y="388.00" width="365.0" height="1.70" fill="url(#s114)"/>
<rect x="560.0" y="389.00" width="365.0" height="1.70" fill="url(#s115)"/>
<rect x="560.0" y="390.00" width="365.0" height="1.70" fill="url(#s116)"/>
<rect x="560.0" y="391.00" width="365.0" height="1.70" fill="#e38b2d"/>
<rect x="560.0" y="392.00" width="365.0" height="1.70" fill="#bf7f40"/>
<rect x="560.0" y="393.00" width="365.0" height="1.70" fill="#606d7a"/>
<rect x="560.0" y="394.00" width="365.0" height="1.70" fill="#324b84"/>
<rect x="560.0" y="395.00" width="365.0" height="1.70" fill="#314a84"/>
<rect x="560.0" y="396.00" width="365.0" height="1.70" fill="#576a7f"/>
<rect x="560.0" y="397.00" width="365.0" height="1.70" fill="#b27e48"/>
<rect x="560.0" y="398.00" width="365.0" height="1.70" fill="#df852c"/>
<rect x="560.0" y="399.00" width="365.0" height="1.70" fill="#ad7d4b"/>
<rect x="560.0" y="400.00" width="365.0" height="1.70" fill="#4d6784"/>
<rect x="560.0" y="401.00" width="365.0" height="1.70" fill="#2e4784"/>
<rect x="560.0" y="402.00" width="365.0" height="1.70" fill="#2f4884"/>
<rect x="560.0" y="403.00" width="365.0" height="1.70" fill="#4f6883"/>
<rect x="560.0" y="404.00" width="365.0" height="1.70" fill="#ae7d4a"/>
<rect x="560.0" y="405.00" width="365.0" height="1.70" fill="#d9832f"/>
<rect x="560.0" y="406.00" width="365.0" height="1.70" fill="#94795b"/>
<rect x="560.0" y="407.00" width="365.0" height="1.70" fill="#405984"/>
<rect x="560.0" y="408.00" width="365.0" height="1.70" fill="#2d4584"/>
<rect x="560.0" y="409.00" width="365.0" height="1.70" fill="#314984"/>
<rect x="560.0" y="410.00" width="365.0" height="1.70" fill="#5c6c7c"/>
<rect x="560.0" y="411.00" width="365.0" height="1.70" fill="#be7f40"/>
<rect x="560.0" y="412.00" width="365.0" height="1.70" fill="#ca8139"/>
<rect x="560.0" y="413.00" width="365.0" height="1.70" fill="#6a6f74"/>
<rect x="560.0" y="414.00" width="365.0" height="1.70" fill="#334c84"/>
<rect x="560.0" y="415.00" width="365.0" height="1.70" fill="#2d4584"/>
<rect x="560.0" y="416.00" width="365.0" height="1.70" fill="#3c5584"/>
<rect x="560.0" y="417.00" width="365.0" height="1.70" fill="#887762"/>
<rect x="560.0" y="418.00" width="365.0" height="1.70" fill="#d18235"/>
<rect x="560.0" y="419.00" width="365.0" height="1.70" fill="#9b7a57"/>
<rect x="560.0" y="420.00" width="365.0" height="1.70" fill="#425b84"/>
<rect x="560.0" y="421.00" width="365.0" height="1.70" fill="#2e4684"/>
<rect x="560.0" y="422.00" width="365.0" height="1.70" fill="#314984"/>
<rect x="560.0" y="423.00" width="365.0" height="1.70" fill="#5b6b7d"/>
<rect x="560.0" y="424.00" width="365.0" height="1.70" fill="#bb7f42"/>
<rect x="560.0" y="425.00" width="365.0" height="1.70" fill="#ba7f43"/>
<rect x="560.0" y="426.00" width="365.0" height="1.70" fill="#576a7f"/>
<rect x="560.0" y="427.00" width="365.0" height="1.70" fill="#314984"/>
<rect x="560.0" y="428.00" width="365.0" height="1.70" fill="#2e4784"/>
<rect x="560.0" y="429.00" width="365.0" height="1.70" fill="#445e84"/>
<rect x="560.0" y="430.00" width="365.0" height="1.70" fill="#9d7a56"/>
<rect x="560.0" y="431.00" width="365.0" height="1.70" fill="#c4803c"/>
<rect x="560.0" y="432.00" width="365.0" height="1.70" fill="#75726d"/>
<rect x="560.0" y="433.00" width="365.0" height="1.70" fill="#375084"/>
<rect x="560.0" y="434.00" width="365.0" height="1.70" fill="#2f4784"/>
<rect x="560.0" y="435.00" width="365.0" height="1.70" fill="#375084"/>
<rect x="560.0" y="436.00" width="365.0" height="1.70" fill="#73726e"/>
<rect x="560.0" y="437.00" width="365.0" height="1.70" fill="#bf7f40"/>
<rect x="560.0" y="438.00" width="365.0" height="1.70" fill="#977a59"/>
<rect x="560.0" y="439.00" width="365.0" height="1.70" fill="#435d84"/>
<rect x="560.0" y="440.00" width="365.0" height="1.70" fill="#2f4884"/>
<rect x="560.0" y="441.00" width="365.0" height="1.70" fill="#314a84"/>
<rect x="560.0" y="442.00" width="365.0" height="1.70" fill="#536981"/>
<rect x="560.0" y="443.00" width="365.0" height="1.70" fill="#ac7d4c"/>
<rect x="560.0" y="444.00" width="365.0" height="1.70" fill="#ac7d4c"/>
<rect x="560.0" y="445.00" width="365.0" height="1.70" fill="#546a81"/>
<rect x="560.0" y="446.00" width="365.0" height="1.70" fill="#324a84"/>
<rect x="560.0" y="447.00" width="365.0" height="1.70" fill="#304884"/>
</g></g><g filter="url(#spblur)"><ellipse cx="567.9" cy="314.5" rx="2.2" ry="3.0" fill="#e89030" opacity="0.8"/><ellipse cx="613.3" cy="314.5" rx="2.6" ry="4.0" fill="#f59a28" opacity="0.90"/><ellipse cx="613.3" cy="314.5" rx="1.3" ry="2.4" fill="#fff4b8" opacity="1.00"/><ellipse cx="687.0" cy="314.5" rx="2.6" ry="4.0" fill="#f59a28" opacity="0.90"/><ellipse cx="687.0" cy="314.5" rx="1.3" ry="2.4" fill="#fff4b8" opacity="1.00"/><ellipse cx="695.4" cy="314.5" rx="2.6" ry="4.0" fill="#f59a28" opacity="0.90"/><ellipse cx="695.4" cy="314.5" rx="1.3" ry="2.4" fill="#fff4b8" opacity="1.00"/><ellipse cx="783.0" cy="309.7" rx="2.6" ry="4.0" fill="#f59a28" opacity="0.90"/><ellipse cx="783.0" cy="309.7" rx="1.3" ry="2.4" fill="#fff4b8" opacity="1.00"/><ellipse cx="798.0" cy="315.6" rx="2.2" ry="3.0" fill="#e89030" opacity="0.8"/><ellipse cx="767.0" cy="316.4" rx="2.2" ry="3.0" fill="#e89030" opacity="0.8"/><ellipse cx="778.0" cy="316.4" rx="2.2" ry="3.0" fill="#e89030" opacity="0.8"/><ellipse cx="634.2" cy="321.6" rx="2.6" ry="4.0" fill="#f59a28" opacity="0.90"/><ellipse cx="634.2" cy="321.6" rx="1.3" ry="2.4" fill="#fff4b8" opacity="1.00"/><ellipse cx="643.7" cy="328.3" rx="2.6" ry="4.0" fill="#f59a28" opacity="0.90"/><ellipse cx="643.7" cy="328.3" rx="1.3" ry="2.4" fill="#fff4b8" opacity="1.00"/><ellipse cx="731.7" cy="323.1" rx="2.6" ry="4.0" fill="#f59a28" opacity="0.90"/><ellipse cx="731.7" cy="323.1" rx="1.3" ry="2.4" fill="#fff4b8" opacity="1.00"/><ellipse cx="757.3" cy="323.1" rx="2.6" ry="4.0" fill="#f59a28" opacity="0.90"/><ellipse cx="757.3" cy="323.1" rx="1.3" ry="2.4" fill="#fff4b8" opacity="1.00"/><ellipse cx="786.5" cy="323.1" rx="2.2" ry="3.0" fill="#e89030" opacity="0.8"/><ellipse cx="818.5" cy="330.2" rx="2.6" ry="4.0" fill="#f59a28" opacity="0.90"/><ellipse cx="818.5" cy="330.2" rx="1.3" ry="2.4" fill="#fff4b8" opacity="1.00"/><ellipse cx="823.6" cy="330.2" rx="2.6" ry="4.0" fill="#f59a28" opacity="0.90"/><ellipse cx="823.6" cy="330.2" rx="1.3" ry="2.4" fill="#fff4b8" opacity="1.00"/><ellipse cx="861.9" cy="324.3" rx="2.2" ry="3.0" fill="#e89030" opacity="0.8"/><ellipse cx="910.4" cy="330.2" rx="2.6" ry="4.0" fill="#f59a28" opacity="0.90"/><ellipse cx="910.4" cy="330.2" rx="1.3" ry="2.4" fill="#fff4b8" opacity="1.00"/><ellipse cx="673.7" cy="322.4" rx="2.2" ry="3.0" fill="#e89030" opacity="0.8"/><ellipse cx="680.4" cy="322.4" rx="2.2" ry="3.0" fill="#e89030" opacity="0.8"/><ellipse cx="622.0" cy="335.0" rx="2.6" ry="4.0" fill="#f59a28" opacity="0.90"/><ellipse cx="622.0" cy="335.0" rx="1.3" ry="2.4" fill="#fff4b8" opacity="1.00"/><ellipse cx="638.0" cy="335.0" rx="2.6" ry="4.0" fill="#f59a28" opacity="0.63"/><ellipse cx="638.0" cy="335.0" rx="1.3" ry="2.4" fill="#fff4b8" opacity="0.70"/><ellipse cx="847.3" cy="336.2" rx="2.6" ry="4.0" fill="#f59a28" opacity="0.90"/><ellipse cx="847.3" cy="336.2" rx="1.3" ry="2.4" fill="#fff4b8" opacity="1.00"/><ellipse cx="865.8" cy="336.2" rx="2.6" ry="4.0" fill="#f59a28" opacity="0.90"/><ellipse cx="865.8" cy="336.2" rx="1.3" ry="2.4" fill="#fff4b8" opacity="1.00"/><ellipse cx="812.6" cy="338.0" rx="2.2" ry="3.0" fill="#e89030" opacity="0.8"/><ellipse cx="899.4" cy="338.0" rx="2.2" ry="3.0" fill="#e89030" opacity="0.8"/><ellipse cx="637.0" cy="348.0" rx="2.6" ry="4.0" fill="#f59a28" opacity="0.90"/><ellipse cx="637.0" cy="348.0" rx="1.3" ry="2.4" fill="#fff4b8" opacity="1.00"/><ellipse cx="742.3" cy="348.0" rx="2.6" ry="4.0" fill="#f59a28" opacity="0.90"/><ellipse cx="742.3" cy="348.0" rx="1.3" ry="2.4" fill="#fff4b8" opacity="1.00"/><ellipse cx="863.0" cy="342.9" rx="2.6" ry="4.0" fill="#f59a28" opacity="0.90"/><ellipse cx="863.0" cy="342.9" rx="1.3" ry="2.4" fill="#fff4b8" opacity="1.00"/><ellipse cx="880.4" cy="342.9" rx="2.6" ry="4.0" fill="#f59a28" opacity="0.90"/><ellipse cx="880.4" cy="342.9" rx="1.3" ry="2.4" fill="#fff4b8" opacity="1.00"/><ellipse cx="887.6" cy="342.9" rx="2.6" ry="4.0" fill="#f59a28" opacity="0.90"/><ellipse cx="887.6" cy="342.9" rx="1.3" ry="2.4" fill="#fff4b8" opacity="1.00"/><ellipse cx="903.3" cy="342.9" rx="2.6" ry="4.0" fill="#f59a28" opacity="0.90"/><ellipse cx="903.3" cy="342.9" rx="1.3" ry="2.4" fill="#fff4b8" opacity="1.00"/><ellipse cx="691.4" cy="348.0" rx="2.6" ry="4.0" fill="#f59a28" opacity="0.72"/><ellipse cx="691.4" cy="348.0" rx="1.3" ry="2.4" fill="#fff4b8" opacity="0.80"/><ellipse cx="919.0" cy="349.2" rx="2.6" ry="4.0" fill="#f59a28" opacity="0.90"/><ellipse cx="919.0" cy="349.2" rx="1.3" ry="2.4" fill="#fff4b8" opacity="1.00"/><ellipse cx="838.2" cy="349.2" rx="2.6" ry="4.0" fill="#f59a28" opacity="0.90"/><ellipse cx="838.2" cy="349.2" rx="1.3" ry="2.4" fill="#fff4b8" opacity="1.00"/><ellipse cx="867.0" cy="349.2" rx="2.6" ry="4.0" fill="#f59a28" opacity="0.90"/><ellipse cx="867.0" cy="349.2" rx="1.3" ry="2.4" fill="#fff4b8" opacity="1.00"/><ellipse cx="661.8" cy="342.0" rx="2.2" ry="3.0" fill="#e89030" opacity="0.8"/><ellipse cx="757.3" cy="355.9" rx="2.6" ry="4.0" fill="#f59a28" opacity="0.90"/><ellipse cx="757.3" cy="355.9" rx="1.3" ry="2.4" fill="#fff4b8" opacity="1.00"/><ellipse cx="829.1" cy="357.1" rx="2.6" ry="4.0" fill="#f59a28" opacity="0.90"/><ellipse cx="829.1" cy="357.1" rx="1.3" ry="2.4" fill="#fff4b8" opacity="1.00"/><ellipse cx="845.0" cy="357.1" rx="2.6" ry="4.0" fill="#f59a28" opacity="0.90"/><ellipse cx="845.0" cy="357.1" rx="1.3" ry="2.4" fill="#fff4b8" opacity="1.00"/><ellipse cx="798.0" cy="357.1" rx="2.6" ry="4.0" fill="#f59a28" opacity="0.90"/><ellipse cx="798.0" cy="357.1" rx="1.3" ry="2.4" fill="#fff4b8" opacity="1.00"/><ellipse cx="809.8" cy="363.8" rx="2.6" ry="4.0" fill="#f59a28" opacity="0.90"/><ellipse cx="809.8" cy="363.8" rx="1.3" ry="2.4" fill="#fff4b8" opacity="1.00"/><ellipse cx="737.6" cy="359.8" rx="2.6" ry="4.0" fill="#f59a28" opacity="0.72"/><ellipse cx="737.6" cy="359.8" rx="1.3" ry="2.4" fill="#fff4b8" opacity="0.80"/><ellipse cx="612.0" cy="359.8" rx="2.6" ry="4.0" fill="#f59a28" opacity="0.63"/><ellipse cx="612.0" cy="359.8" rx="1.3" ry="2.4" fill="#fff4b8" opacity="0.70"/><ellipse cx="898.6" cy="355.9" rx="2.6" ry="4.0" fill="#f59a28" opacity="0.72"/><ellipse cx="898.6" cy="355.9" rx="1.3" ry="2.4" fill="#fff4b8" opacity="0.80"/><ellipse cx="915.0" cy="371.7" rx="2.6" ry="4.0" fill="#f59a28" opacity="0.90"/><ellipse cx="915.0" cy="371.7" rx="1.3" ry="2.4" fill="#fff4b8" opacity="1.00"/></g>
<rect x="564.0" y="277.6" width="359.3" height="167.2" filter="url(#grain)" style="mix-blend-mode:overlay" opacity="0.45"/>
</g>
<rect x="564.0" y="277.6" width="359.3" height="167.2" fill="none" stroke="#111" stroke-width="1.2"/>
<text x="867" y="434.2" font-size="13.5" fill="#fff" textLength="31.5" lengthAdjust="spacingAndGlyphs" style="text-shadow:0 0 1px #000">[001]</text>
<path d="M908.2 438 V417" stroke="#fff" stroke-width="1.6"/><path d="M904.8 418.5 L908.2 411.5 L911.6 418.5 Z" fill="#fff"/>
<clipPath id="facetclip"><polygon points="282.5,301.8 449.5,201.3 452.5,359.3 285.5,459.8"/></clipPath>
<polygon points="27.1,346.9 283.6,360.3 450.6,259.8 194.1,246.4" fill="#e39c7e" />
<polygon points="193.0,187.9 449.5,201.3 450.6,259.8 194.1,246.4" fill="#e3a792" />
<polygon points="26.0,288.4 193.0,187.9 194.1,246.4 27.1,346.9" fill="#e0a48c" />
<polygon points="26.0,288.4 193.0,187.9 194.1,246.4 116.4,293.1" fill="#cf9b87" />
<line x1="193.0" y1="187.9" x2="194.1" y2="246.4" stroke="#5a3426" stroke-width="0.70" stroke-opacity="0.70"/>
<line x1="194.1" y1="246.4" x2="450.6" y2="259.8" stroke="#5a3426" stroke-width="0.70" stroke-opacity="0.70"/>
<line x1="27.1" y1="346.9" x2="194.1" y2="246.4" stroke="#5a3426" stroke-width="0.70" stroke-opacity="0.70"/>
<polygon points="141.9,311.7 64.6,322.9 107.2,295.2 122.6,292.9" fill="#b8643e" fill-opacity="0.16" stroke="#6e3a26" stroke-opacity="0.45" stroke-width="0.6" stroke-linejoin="round"/>
<polygon points="172.4,328.6 141.9,311.7 122.6,292.9 128.7,296.3" fill="#c87050" fill-opacity="0.10" stroke="#6e3a26" stroke-opacity="0.45" stroke-width="0.6" stroke-linejoin="round"/>
<polygon points="64.6,322.9 95.1,339.8 113.3,298.6 107.2,295.2" fill="#b05a36" fill-opacity="0.20" stroke="#6e3a26" stroke-opacity="0.45" stroke-width="0.6" stroke-linejoin="round"/>
<polygon points="95.1,339.8 172.4,328.6 128.7,296.3 113.3,298.6" fill="#c06848" fill-opacity="0.13" stroke="#6e3a26" stroke-opacity="0.45" stroke-width="0.6" stroke-linejoin="round"/>
<polygon points="107.2,295.2 113.3,298.6 128.7,296.3 122.6,292.9" fill="#c06848" fill-opacity="0.10" stroke="#6e3a26" stroke-opacity="0.45" stroke-width="0.6" stroke-linejoin="round"/>
<polygon points="225.8,328.0 157.9,338.6 194.3,311.5 207.8,309.4" fill="#b8643e" fill-opacity="0.16" stroke="#6e3a26" stroke-opacity="0.45" stroke-width="0.6" stroke-linejoin="round"/>
<polygon points="250.2,343.4 225.8,328.0 207.8,309.4 212.7,312.5" fill="#c87050" fill-opacity="0.10" stroke="#6e3a26" stroke-opacity="0.45" stroke-width="0.6" stroke-linejoin="round"/>
<polygon points="157.9,338.6 182.3,354.1 199.2,314.6 194.3,311.5" fill="#b05a36" fill-opacity="0.20" stroke="#6e3a26" stroke-opacity="0.45" stroke-width="0.6" stroke-linejoin="round"/>
<polygon points="182.3,354.1 250.2,343.4 212.7,312.5 199.2,314.6" fill="#c06848" fill-opacity="0.13" stroke="#6e3a26" stroke-opacity="0.45" stroke-width="0.6" stroke-linejoin="round"/>
<polygon points="194.3,311.5 199.2,314.6 212.7,312.5 207.8,309.4" fill="#c06848" fill-opacity="0.10" stroke="#6e3a26" stroke-opacity="0.45" stroke-width="0.6" stroke-linejoin="round"/>
<polygon points="211.7,290.0 143.8,300.6 180.1,272.6 193.7,270.4" fill="#b8643e" fill-opacity="0.16" stroke="#6e3a26" stroke-opacity="0.45" stroke-width="0.6" stroke-linejoin="round"/>
<polygon points="236.1,305.5 211.7,290.0 193.7,270.4 198.6,273.5" fill="#c87050" fill-opacity="0.10" stroke="#6e3a26" stroke-opacity="0.45" stroke-width="0.6" stroke-linejoin="round"/>
<polygon points="143.8,300.6 168.2,316.1 185.0,275.7 180.1,272.6" fill="#b05a36" fill-opacity="0.20" stroke="#6e3a26" stroke-opacity="0.45" stroke-width="0.6" stroke-linejoin="round"/>
<polygon points="168.2,316.1 236.1,305.5 198.6,273.5 185.0,275.7" fill="#c06848" fill-opacity="0.13" stroke="#6e3a26" stroke-opacity="0.45" stroke-width="0.6" stroke-linejoin="round"/>
<polygon points="180.1,272.6 185.0,275.7 198.6,273.5 193.7,270.4" fill="#c06848" fill-opacity="0.10" stroke="#6e3a26" stroke-opacity="0.45" stroke-width="0.6" stroke-linejoin="round"/>
<polygon points="234.8,266.5 164.3,277.0 202.7,247.1 216.8,245.0" fill="#b8643e" fill-opacity="0.16" stroke="#6e3a26" stroke-opacity="0.45" stroke-width="0.6" stroke-linejoin="round"/>
<polygon points="261.8,282.1 234.8,266.5 216.8,245.0 222.2,248.1" fill="#c87050" fill-opacity="0.10" stroke="#6e3a26" stroke-opacity="0.45" stroke-width="0.6" stroke-linejoin="round"/>
<polygon points="164.3,277.0 191.4,292.6 208.1,250.2 202.7,247.1" fill="#b05a36" fill-opacity="0.20" stroke="#6e3a26" stroke-opacity="0.45" stroke-width="0.6" stroke-linejoin="round"/>
<polygon points="191.4,292.6 261.8,282.1 222.2,248.1 208.1,250.2" fill="#c06848" fill-opacity="0.13" stroke="#6e3a26" stroke-opacity="0.45" stroke-width="0.6" stroke-linejoin="round"/>
<polygon points="202.7,247.1 208.1,250.2 222.2,248.1 216.8,245.0" fill="#c06848" fill-opacity="0.10" stroke="#6e3a26" stroke-opacity="0.45" stroke-width="0.6" stroke-linejoin="round"/>
<polygon points="277.7,307.0 207.2,317.5 245.6,289.5 259.7,287.4" fill="#b8643e" fill-opacity="0.16" stroke="#6e3a26" stroke-opacity="0.45" stroke-width="0.6" stroke-linejoin="round"/>
<polygon points="304.7,322.6 277.7,307.0 259.7,287.4 265.1,290.5" fill="#c87050" fill-opacity="0.10" stroke="#6e3a26" stroke-opacity="0.45" stroke-width="0.6" stroke-linejoin="round"/>
<polygon points="207.2,317.5 234.2,333.1 251.0,292.7 245.6,289.5" fill="#b05a36" fill-opacity="0.20" stroke="#6e3a26" stroke-opacity="0.45" stroke-width="0.6" stroke-linejoin="round"/>
<polygon points="234.2,333.1 304.7,322.6 265.1,290.5 251.0,292.7" fill="#c06848" fill-opacity="0.13" stroke="#6e3a26" stroke-opacity="0.45" stroke-width="0.6" stroke-linejoin="round"/>
<polygon points="245.6,289.5 251.0,292.7 265.1,290.5 259.7,287.4" fill="#c06848" fill-opacity="0.10" stroke="#6e3a26" stroke-opacity="0.45" stroke-width="0.6" stroke-linejoin="round"/>
<polygon points="322.3,252.9 245.0,264.2 287.5,234.5 303.0,232.2" fill="#b8643e" fill-opacity="0.16" stroke="#6e3a26" stroke-opacity="0.45" stroke-width="0.6" stroke-linejoin="round"/>
<polygon points="352.8,269.8 322.3,252.9 303.0,232.2 309.1,235.6" fill="#c87050" fill-opacity="0.10" stroke="#6e3a26" stroke-opacity="0.45" stroke-width="0.6" stroke-linejoin="round"/>
<polygon points="245.0,264.2 275.5,281.1 293.6,237.8 287.5,234.5" fill="#b05a36" fill-opacity="0.20" stroke="#6e3a26" stroke-opacity="0.45" stroke-width="0.6" stroke-linejoin="round"/>
<polygon points="275.5,281.1 352.8,269.8 309.1,235.6 293.6,237.8" fill="#c06848" fill-opacity="0.13" stroke="#6e3a26" stroke-opacity="0.45" stroke-width="0.6" stroke-linejoin="round"/>
<polygon points="287.5,234.5 293.6,237.8 309.1,235.6 303.0,232.2" fill="#c06848" fill-opacity="0.10" stroke="#6e3a26" stroke-opacity="0.45" stroke-width="0.6" stroke-linejoin="round"/>
<polygon points="339.9,277.9 269.5,288.4 307.9,259.5 322.0,257.3" fill="#b8643e" fill-opacity="0.16" stroke="#6e3a26" stroke-opacity="0.45" stroke-width="0.6" stroke-linejoin="round"/>
<polygon points="366.9,293.5 339.9,277.9 322.0,257.3 327.4,260.5" fill="#c87050" fill-opacity="0.10" stroke="#6e3a26" stroke-opacity="0.45" stroke-width="0.6" stroke-linejoin="round"/>
<polygon points="269.5,288.4 296.5,304.0 313.3,262.6 307.9,259.5" fill="#b05a36" fill-opacity="0.20" stroke="#6e3a26" stroke-opacity="0.45" stroke-width="0.6" stroke-linejoin="round"/>
<polygon points="296.5,304.0 366.9,293.5 327.4,260.5 313.3,262.6" fill="#c06848" fill-opacity="0.13" stroke="#6e3a26" stroke-opacity="0.45" stroke-width="0.6" stroke-linejoin="round"/>
<polygon points="307.9,259.5 313.3,262.6 327.4,260.5 322.0,257.3" fill="#c06848" fill-opacity="0.10" stroke="#6e3a26" stroke-opacity="0.45" stroke-width="0.6" stroke-linejoin="round"/>
<polygon points="341.9,321.8 265.5,332.6 308.0,303.8 323.3,301.7" fill="#b8643e" fill-opacity="0.16" stroke="#6e3a26" stroke-opacity="0.45" stroke-width="0.6" stroke-linejoin="round"/>
<polygon points="344.9,323.4 341.9,321.8 323.3,301.7 326.3,303.2" fill="#c87050" fill-opacity="0.10" stroke="#6e3a26" stroke-opacity="0.45" stroke-width="0.6" stroke-linejoin="round"/>
<polygon points="265.5,332.6 296.9,348.9 314.3,307.1 308.0,303.8" fill="#b05a36" fill-opacity="0.20" stroke="#6e3a26" stroke-opacity="0.45" stroke-width="0.6" stroke-linejoin="round"/>
<polygon points="296.9,348.9 304.1,347.9 321.6,306.1 314.3,307.1" fill="#c06848" fill-opacity="0.13" stroke="#6e3a26" stroke-opacity="0.45" stroke-width="0.6" stroke-linejoin="round"/>
<polygon points="308.0,303.8 314.3,307.1 321.6,306.1 326.3,303.2 323.3,301.7" fill="#c06848" fill-opacity="0.10" stroke="#6e3a26" stroke-opacity="0.45" stroke-width="0.6" stroke-linejoin="round"/>
<polygon points="341.9,321.8 265.5,332.6 308.0,303.8 323.3,301.7" fill="#804028" fill-opacity="0.30" clip-path="url(#facetclip)"/>
<polygon points="344.9,323.4 341.9,321.8 323.3,301.7 326.3,303.2" fill="#8a4a30" fill-opacity="0.25" clip-path="url(#facetclip)"/>
<polygon points="265.5,332.6 296.9,348.9 314.3,307.1 308.0,303.8" fill="#7a3c24" fill-opacity="0.35" clip-path="url(#facetclip)"/>
<polygon points="296.9,348.9 304.1,347.9 321.6,306.1 314.3,307.1" fill="#8a4a30" fill-opacity="0.30" clip-path="url(#facetclip)"/>
<polygon points="308.0,303.8 314.3,307.1 321.6,306.1 326.3,303.2 323.3,301.7" fill="#8a4a30" fill-opacity="0.25" clip-path="url(#facetclip)"/>
<polygon points="385.8,296.2 317.8,303.6 358.4,280.8 372.0,279.3" fill="#b8643e" fill-opacity="0.16" stroke="#6e3a26" stroke-opacity="0.45" stroke-width="0.6" stroke-linejoin="round"/>
<polygon points="388.4,297.2 385.8,296.2 372.0,279.3 374.6,280.2" fill="#c87050" fill-opacity="0.10" stroke="#6e3a26" stroke-opacity="0.45" stroke-width="0.6" stroke-linejoin="round"/>
<polygon points="317.8,303.6 352.4,316.3 365.3,283.3 358.4,280.8" fill="#b05a36" fill-opacity="0.20" stroke="#6e3a26" stroke-opacity="0.45" stroke-width="0.6" stroke-linejoin="round"/>
<polygon points="352.4,316.3 357.5,315.8 370.4,282.7 365.3,283.3" fill="#c06848" fill-opacity="0.13" stroke="#6e3a26" stroke-opacity="0.45" stroke-width="0.6" stroke-linejoin="round"/>
<polygon points="358.4,280.8 365.3,283.3 370.4,282.7 374.6,280.2 372.0,279.3" fill="#c06848" fill-opacity="0.10" stroke="#6e3a26" stroke-opacity="0.45" stroke-width="0.6" stroke-linejoin="round"/>
<polygon points="385.8,296.2 317.8,303.6 358.4,280.8 372.0,279.3" fill="#804028" fill-opacity="0.30" clip-path="url(#facetclip)"/>
<polygon points="388.4,297.2 385.8,296.2 372.0,279.3 374.6,280.2" fill="#8a4a30" fill-opacity="0.25" clip-path="url(#facetclip)"/>
<polygon points="317.8,303.6 352.4,316.3 365.3,283.3 358.4,280.8" fill="#7a3c24" fill-opacity="0.35" clip-path="url(#facetclip)"/>
<polygon points="352.4,316.3 357.5,315.8 370.4,282.7 365.3,283.3" fill="#8a4a30" fill-opacity="0.30" clip-path="url(#facetclip)"/>
<polygon points="358.4,280.8 365.3,283.3 370.4,282.7 374.6,280.2 372.0,279.3" fill="#8a4a30" fill-opacity="0.25" clip-path="url(#facetclip)"/>
<polygon points="450.6,258.1 368.3,272.4 410.8,244.6 427.3,241.8" fill="#b8643e" fill-opacity="0.16" stroke="#6e3a26" stroke-opacity="0.45" stroke-width="0.6" stroke-linejoin="round"/>
<polygon points="451.8,259.1 450.6,258.1 427.3,241.8 428.5,242.7" fill="#c87050" fill-opacity="0.10" stroke="#6e3a26" stroke-opacity="0.45" stroke-width="0.6" stroke-linejoin="round"/>
<polygon points="368.3,272.4 393.8,292.3 415.9,248.6 410.8,244.6" fill="#b05a36" fill-opacity="0.20" stroke="#6e3a26" stroke-opacity="0.45" stroke-width="0.6" stroke-linejoin="round"/>
<polygon points="393.8,292.3 397.7,291.6 419.8,247.9 415.9,248.6" fill="#c06848" fill-opacity="0.13" stroke="#6e3a26" stroke-opacity="0.45" stroke-width="0.6" stroke-linejoin="round"/>
<polygon points="410.8,244.6 415.9,248.6 419.8,247.9 428.5,242.7 427.3,241.8" fill="#c06848" fill-opacity="0.10" stroke="#6e3a26" stroke-opacity="0.45" stroke-width="0.6" stroke-linejoin="round"/>
<polygon points="450.6,258.1 368.3,272.4 410.8,244.6 427.3,241.8" fill="#804028" fill-opacity="0.30" clip-path="url(#facetclip)"/>
<polygon points="451.8,259.1 450.6,258.1 427.3,241.8 428.5,242.7" fill="#8a4a30" fill-opacity="0.25" clip-path="url(#facetclip)"/>
<polygon points="368.3,272.4 393.8,292.3 415.9,248.6 410.8,244.6" fill="#7a3c24" fill-opacity="0.35" clip-path="url(#facetclip)"/>
<polygon points="393.8,292.3 397.7,291.6 419.8,247.9 415.9,248.6" fill="#8a4a30" fill-opacity="0.30" clip-path="url(#facetclip)"/>
<polygon points="410.8,244.6 415.9,248.6 419.8,247.9 428.5,242.7 427.3,241.8" fill="#8a4a30" fill-opacity="0.25" clip-path="url(#facetclip)"/>
<polygon points="282.5,301.8 449.5,201.3 450.6,259.8 283.6,360.3" fill="#908070" fill-opacity="0.34"/>
<polygon points="321.6,306.1 326.3,303.2 344.9,323.4 324.5,335.6 304.1,347.9" fill="#5a5d70" stroke="#34406a" stroke-width="0.8" stroke-linejoin="round"/>
<polygon points="304.1,347.9 315.2,325.6 344.9,323.4" fill="#6c7288" fill-opacity="0.9"/>
<polygon points="321.6,306.1 326.3,303.2 344.9,323.4 324.5,335.6 304.1,347.9" fill="none" stroke="#34406a" stroke-width="0.8" stroke-linejoin="round"/>
<polygon points="370.4,282.7 374.6,280.2 388.4,297.2 373.0,306.5 357.5,315.8" fill="#5a5d70" stroke="#34406a" stroke-width="0.8" stroke-linejoin="round"/>
<polygon points="357.5,315.8 366.0,298.0 388.4,297.2" fill="#6c7288" fill-opacity="0.9"/>
<polygon points="370.4,282.7 374.6,280.2 388.4,297.2 373.0,306.5 357.5,315.8" fill="none" stroke="#34406a" stroke-width="0.8" stroke-linejoin="round"/>
<polygon points="419.8,247.9 428.5,242.7 451.8,259.1 424.7,275.3 397.7,291.6" fill="#5a5d70" stroke="#34406a" stroke-width="0.8" stroke-linejoin="round"/>
<polygon points="397.7,291.6 413.1,267.2 451.8,259.1" fill="#6c7288" fill-opacity="0.9"/>
<polygon points="419.8,247.9 428.5,242.7 451.8,259.1 424.7,275.3 397.7,291.6" fill="none" stroke="#34406a" stroke-width="0.8" stroke-linejoin="round"/>
<polygon points="27.1,346.9 283.6,360.3 284.0,380.8 27.5,367.4" fill="#ee9f80" />
<polygon points="27.1,346.9 58.9,348.5 27.5,367.4" fill="#e4a28a" />
<polygon points="27.5,367.4 284.0,380.8 285.5,459.8 29.0,446.4" fill="#f4ae90" />
<polygon points="27.5,367.4 149.7,373.8 29.0,446.4" fill="#dfa48c" />
<polygon points="283.6,360.3 450.6,259.8 451.0,280.3 284.0,380.8" fill="#bb856f" />
<polygon points="284.0,380.8 451.0,280.3 452.5,359.3 285.5,459.8" fill="#bd907e" />
<polygon points="284.0,380.8 303.2,369.2 304.7,448.2 285.5,459.8" fill="#8a6050" fill-opacity="0.14"/>
<line x1="26.0" y1="288.4" x2="282.5" y2="301.8" stroke="#5a3426" stroke-width="0.70" stroke-opacity="0.80"/>
<line x1="282.5" y1="301.8" x2="449.5" y2="201.3" stroke="#5a3426" stroke-width="0.70" stroke-opacity="0.80"/>
<line x1="449.5" y1="201.3" x2="193.0" y2="187.9" stroke="#5a3426" stroke-width="0.70" stroke-opacity="0.80"/>
<line x1="193.0" y1="187.9" x2="26.0" y2="288.4" stroke="#5a3426" stroke-width="0.70" stroke-opacity="0.80"/>
<line x1="26.0" y1="288.4" x2="29.0" y2="446.4" stroke="#5a3426" stroke-width="0.70" stroke-opacity="0.80"/>
<line x1="282.5" y1="301.8" x2="285.5" y2="459.8" stroke="#5a3426" stroke-width="0.70" stroke-opacity="0.80"/>
<line x1="449.5" y1="201.3" x2="452.5" y2="359.3" stroke="#5a3426" stroke-width="0.70" stroke-opacity="0.80"/>
<line x1="29.0" y1="446.4" x2="285.5" y2="459.8" stroke="#5a3426" stroke-width="0.70" stroke-opacity="0.80"/>
<line x1="285.5" y1="459.8" x2="452.5" y2="359.3" stroke="#5a3426" stroke-width="0.70" stroke-opacity="0.80"/>
<line x1="27.1" y1="346.9" x2="283.6" y2="360.3" stroke="#5a3426" stroke-width="0.70" stroke-opacity="0.80"/>
<line x1="283.6" y1="360.3" x2="450.6" y2="259.8" stroke="#5a3426" stroke-width="0.70" stroke-opacity="0.80"/>
<line x1="27.5" y1="367.4" x2="284.0" y2="380.8" stroke="#5a3426" stroke-width="0.70" stroke-opacity="0.80"/>
<line x1="284.0" y1="380.8" x2="451.0" y2="280.3" stroke="#5a3426" stroke-width="0.70" stroke-opacity="0.80"/>
<line x1="27.5" y1="367.4" x2="58.9" y2="348.5" stroke="#5a3426" stroke-width="0.70" stroke-opacity="0.50"/>
<line x1="29.0" y1="446.4" x2="149.7" y2="373.8" stroke="#5a3426" stroke-width="0.70" stroke-opacity="0.50"/>
<circle cx="100.6" cy="96.6" r="3.9" fill="#d09478" stroke="#c4886e" stroke-width="0.5"/>
<circle cx="104.8" cy="109.1" r="3.9" fill="#d09478" stroke="#c4886e" stroke-width="0.5"/>
<circle cx="101.6" cy="125.6" r="3.9" fill="#5074bc" stroke="#4262aa" stroke-width="0.6"/>
<circle cx="124.3" cy="102.9" r="3.9" fill="#5074bc" stroke="#4262aa" stroke-width="0.6"/>
<circle cx="132.9" cy="93.6" r="3.9" fill="#d09478" stroke="#c4886e" stroke-width="0.5"/>
<circle cx="144.0" cy="98.3" r="3.9" fill="#5074bc" stroke="#4262aa" stroke-width="0.6"/>
<circle cx="156.1" cy="90.2" r="3.9" fill="#d09478" stroke="#c4886e" stroke-width="0.5"/>
<circle cx="155.0" cy="109.3" r="3.9" fill="#5074bc" stroke="#4262aa" stroke-width="0.6"/>
<circle cx="165.6" cy="120.2" r="3.9" fill="#5074bc" stroke="#4262aa" stroke-width="0.6"/>
<circle cx="170.5" cy="118.5" r="3.9" fill="#d09478" stroke="#c4886e" stroke-width="0.5"/>
<circle cx="179.1" cy="104.5" r="3.9" fill="#5074bc" stroke="#4262aa" stroke-width="0.6"/>
<circle cx="189.3" cy="102.9" r="3.6" fill="#d09478" stroke="#e08838" stroke-width="0.9"/>
<circle cx="196.2" cy="91.1" r="3.9" fill="#5074bc" stroke="#4262aa" stroke-width="0.6"/>
<circle cx="202.6" cy="103.4" r="3.9" fill="#d09478" stroke="#c4886e" stroke-width="0.5"/>
<circle cx="206.7" cy="115.8" r="3.9" fill="#d09478" stroke="#c4886e" stroke-width="0.5"/>
<circle cx="127.7" cy="132.3" r="3.9" fill="#d09478" stroke="#c4886e" stroke-width="0.5"/>
<circle cx="140.6" cy="132.8" r="3.9" fill="#d09478" stroke="#c4886e" stroke-width="0.5"/>
<circle cx="160.0" cy="129.0" r="3.9" fill="#d09478" stroke="#c4886e" stroke-width="0.5"/>
<circle cx="151.6" cy="138.2" r="3.9" fill="#5074bc" stroke="#4262aa" stroke-width="0.6"/>
<circle cx="176.4" cy="130.6" r="3.9" fill="#5074bc" stroke="#4262aa" stroke-width="0.6"/>
<circle cx="171.0" cy="134.0" r="3.9" fill="#5074bc" stroke="#4262aa" stroke-width="0.6"/>
<circle cx="174.3" cy="136.5" r="3.9" fill="#d09478" stroke="#c4886e" stroke-width="0.5"/>
<circle cx="131.7" cy="144.6" r="3.9" fill="#d09478" stroke="#c4886e" stroke-width="0.5"/>
<circle cx="187.0" cy="141.3" r="3.9" fill="#5074bc" stroke="#4262aa" stroke-width="0.6"/>
<circle cx="181.9" cy="145.0" r="3.9" fill="#5074bc" stroke="#4262aa" stroke-width="0.6"/>
<circle cx="203.8" cy="132.3" r="3.9" fill="#5074bc" stroke="#4262aa" stroke-width="0.6"/>
<circle cx="206.3" cy="139.9" r="3.9" fill="#5074bc" stroke="#4262aa" stroke-width="0.6"/>
<circle cx="219.0" cy="148.6" r="3.9" fill="#d09478" stroke="#c4886e" stroke-width="0.5"/>
<circle cx="237.0" cy="82.6" r="3.9" fill="#d09478" stroke="#c4886e" stroke-width="0.5"/>
<circle cx="235.3" cy="100.0" r="3.9" fill="#d09478" stroke="#c4886e" stroke-width="0.5"/>
<circle cx="226.3" cy="109.6" r="3.9" fill="#5074bc" stroke="#4262aa" stroke-width="0.6"/>
<circle cx="245.9" cy="105.0" r="3.9" fill="#5074bc" stroke="#4262aa" stroke-width="0.6"/>
<circle cx="242.3" cy="111.8" r="3.9" fill="#5074bc" stroke="#4262aa" stroke-width="0.6"/>
<circle cx="258.9" cy="110.1" r="3.9" fill="#5074bc" stroke="#4262aa" stroke-width="0.6"/>
<circle cx="256.8" cy="115.8" r="3.9" fill="#5074bc" stroke="#4262aa" stroke-width="0.6"/>
<circle cx="272.0" cy="111.8" r="3.9" fill="#d09478" stroke="#c4886e" stroke-width="0.5"/>
<circle cx="280.8" cy="110.9" r="3.9" fill="#5074bc" stroke="#4262aa" stroke-width="0.6"/>
<circle cx="291.2" cy="109.6" r="3.6" fill="#d09478" stroke="#e08838" stroke-width="0.9"/>
<circle cx="298.4" cy="97.5" r="3.9" fill="#5074bc" stroke="#4262aa" stroke-width="0.6"/>
<circle cx="309.1" cy="93.1" r="3.9" fill="#d09478" stroke="#c4886e" stroke-width="0.5"/>
<circle cx="337.5" cy="106.2" r="3.9" fill="#d09478" stroke="#c4886e" stroke-width="0.5"/>
<circle cx="325.9" cy="114.1" r="3.9" fill="#d09478" stroke="#c4886e" stroke-width="0.5"/>
<circle cx="321.2" cy="119.2" r="3.9" fill="#d09478" stroke="#c4886e" stroke-width="0.5"/>
<circle cx="344.3" cy="118.9" r="3.9" fill="#5074bc" stroke="#4262aa" stroke-width="0.6"/>
<circle cx="223.8" cy="126.4" r="3.9" fill="#5074bc" stroke="#4262aa" stroke-width="0.6"/>
<circle cx="240.7" cy="126.9" r="3.9" fill="#d09478" stroke="#c4886e" stroke-width="0.5"/>
<circle cx="255.1" cy="129.0" r="3.9" fill="#d09478" stroke="#c4886e" stroke-width="0.5"/>
<circle cx="267.3" cy="126.8" r="3.9" fill="#5074bc" stroke="#4262aa" stroke-width="0.6"/>
<circle cx="272.3" cy="125.3" r="3.9" fill="#d09478" stroke="#c4886e" stroke-width="0.5"/>
<circle cx="262.7" cy="135.4" r="3.9" fill="#d09478" stroke="#c4886e" stroke-width="0.5"/>
<circle cx="242.9" cy="139.4" r="3.9" fill="#d09478" stroke="#c4886e" stroke-width="0.5"/>
<circle cx="278.2" cy="137.4" r="3.9" fill="#5074bc" stroke="#4262aa" stroke-width="0.6"/>
<circle cx="304.0" cy="139.4" r="3.9" fill="#5074bc" stroke="#4262aa" stroke-width="0.6"/>
<circle cx="318.2" cy="140.4" r="3.9" fill="#d09478" stroke="#c4886e" stroke-width="0.5"/>
<circle cx="316.5" cy="144.1" r="3.9" fill="#5074bc" stroke="#4262aa" stroke-width="0.6"/>
<circle cx="336.3" cy="129.0" r="3.9" fill="#d09478" stroke="#c4886e" stroke-width="0.5"/>
<circle cx="339.7" cy="142.4" r="3.9" fill="#5074bc" stroke="#4262aa" stroke-width="0.6"/>
<circle cx="225.2" cy="147.5" r="3.9" fill="#d09478" stroke="#c4886e" stroke-width="0.5"/>
<circle cx="253.0" cy="146.7" r="3.9" fill="#d09478" stroke="#c4886e" stroke-width="0.5"/>
<circle cx="269.3" cy="147.5" r="3.9" fill="#5074bc" stroke="#4262aa" stroke-width="0.6"/>
<circle cx="286.7" cy="145.8" r="3.9" fill="#5074bc" stroke="#4262aa" stroke-width="0.6"/>
<circle cx="289.2" cy="147.8" r="3.9" fill="#5074bc" stroke="#4262aa" stroke-width="0.6"/>
<circle cx="299.3" cy="147.5" r="3.9" fill="#d09478" stroke="#c4886e" stroke-width="0.5"/>
<circle cx="391.7" cy="104.5" r="3.9" fill="#d09478" stroke="#c4886e" stroke-width="0.5"/>
<circle cx="411.3" cy="100.0" r="3.9" fill="#d09478" stroke="#c4886e" stroke-width="0.5"/>
<circle cx="361.1" cy="116.8" r="3.9" fill="#5074bc" stroke="#4262aa" stroke-width="0.6"/>
<circle cx="374.2" cy="118.9" r="3.9" fill="#d09478" stroke="#c4886e" stroke-width="0.5"/>
<circle cx="375.0" cy="132.3" r="3.9" fill="#5074bc" stroke="#4262aa" stroke-width="0.6"/>
<circle cx="410.4" cy="135.0" r="3.9" fill="#5074bc" stroke="#4262aa" stroke-width="0.6"/>
<circle cx="353.5" cy="142.9" r="3.9" fill="#5074bc" stroke="#4262aa" stroke-width="0.6"/>
<circle cx="388.9" cy="145.8" r="3.9" fill="#5074bc" stroke="#4262aa" stroke-width="0.6"/>
<circle cx="429.3" cy="146.1" r="3.9" fill="#d09478" stroke="#c4886e" stroke-width="0.5"/>
<circle cx="409.9" cy="150.0" r="3.9" fill="#d09478" stroke="#c4886e" stroke-width="0.5"/>
<circle cx="356.0" cy="152.5" r="3.9" fill="#d09478" stroke="#c4886e" stroke-width="0.5"/>
<circle cx="122.1" cy="160.2" r="3.9" fill="#5074bc" stroke="#4262aa" stroke-width="0.6"/>
<circle cx="129.2" cy="161.4" r="3.9" fill="#5074bc" stroke="#4262aa" stroke-width="0.6"/>
<circle cx="157.5" cy="162.7" r="3.9" fill="#5074bc" stroke="#4262aa" stroke-width="0.6"/>
<circle cx="166.8" cy="162.2" r="3.9" fill="#d09478" stroke="#c4886e" stroke-width="0.5"/>
<circle cx="167.9" cy="168.6" r="3.9" fill="#d09478" stroke="#c4886e" stroke-width="0.5"/>
<circle cx="152.8" cy="174.2" r="3.9" fill="#d09478" stroke="#c4886e" stroke-width="0.5"/>
<circle cx="164.2" cy="179.1" r="3.9" fill="#5074bc" stroke="#4262aa" stroke-width="0.6"/>
<circle cx="144.5" cy="183.5" r="3.9" fill="#5074bc" stroke="#4262aa" stroke-width="0.6"/>
<circle cx="120.4" cy="177.4" r="3.9" fill="#d09478" stroke="#c4886e" stroke-width="0.5"/>
<circle cx="124.3" cy="190.0" r="3.9" fill="#d09478" stroke="#c4886e" stroke-width="0.5"/>
<circle cx="174.7" cy="190.0" r="3.9" fill="#5074bc" stroke="#4262aa" stroke-width="0.6"/>
<circle cx="145.7" cy="197.6" r="3.9" fill="#d09478" stroke="#c4886e" stroke-width="0.5"/>
<circle cx="121.8" cy="206.0" r="3.9" fill="#5074bc" stroke="#4262aa" stroke-width="0.6"/>
<circle cx="192.5" cy="155.7" r="3.9" fill="#5074bc" stroke="#4262aa" stroke-width="0.6"/>
<circle cx="197.4" cy="154.0" r="3.9" fill="#d09478" stroke="#c4886e" stroke-width="0.5"/>
<circle cx="203.8" cy="166.4" r="3.9" fill="#5074bc" stroke="#4262aa" stroke-width="0.6"/>
<circle cx="216.1" cy="171.7" r="3.9" fill="#5074bc" stroke="#4262aa" stroke-width="0.6"/>
<circle cx="213.1" cy="175.7" r="3.9" fill="#d09478" stroke="#c4886e" stroke-width="0.5"/>
<circle cx="214.3" cy="177.1" r="3.9" fill="#5074bc" stroke="#4262aa" stroke-width="0.6"/>
<circle cx="199.3" cy="184.8" r="3.9" fill="#5074bc" stroke="#4262aa" stroke-width="0.6"/>
<circle cx="209.4" cy="183.5" r="3.6" fill="#d09478" stroke="#e08838" stroke-width="0.9"/>
<circle cx="217.3" cy="188.9" r="3.9" fill="#d09478" stroke="#c4886e" stroke-width="0.5"/>
<circle cx="189.8" cy="199.0" r="3.9" fill="#b88878" fill-opacity="0.35"/>
<circle cx="185.3" cy="200.6" r="3.9" fill="#4862ac" stroke="#3a4e96" stroke-width="0.6"/>
<circle cx="196.2" cy="211.3" r="3.9" fill="#4862ac" stroke="#3a4e96" stroke-width="0.6"/>
<circle cx="214.3" cy="204.9" r="3.9" fill="#4862ac" stroke="#3a4e96" stroke-width="0.6"/>
<circle cx="161.1" cy="213.1" r="3.9" fill="#b88878" fill-opacity="0.35"/>
<circle cx="264.2" cy="151.8" r="3.9" fill="#5074bc" stroke="#4262aa" stroke-width="0.6"/>
<circle cx="244.5" cy="156.0" r="3.9" fill="#5074bc" stroke="#4262aa" stroke-width="0.6"/>
<circle cx="247.4" cy="155.5" r="3.9" fill="#d09478" stroke="#c4886e" stroke-width="0.5"/>
<circle cx="224.8" cy="161.9" r="3.9" fill="#d09478" stroke="#c4886e" stroke-width="0.5"/>
<circle cx="275.4" cy="162.2" r="3.9" fill="#5074bc" stroke="#4262aa" stroke-width="0.6"/>
<circle cx="299.3" cy="157.7" r="3.9" fill="#5074bc" stroke="#4262aa" stroke-width="0.6"/>
<circle cx="309.9" cy="156.0" r="3.6" fill="#d09478" stroke="#e08838" stroke-width="0.9"/>
<circle cx="327.4" cy="154.8" r="3.9" fill="#d09478" stroke="#c4886e" stroke-width="0.5"/>
<circle cx="339.4" cy="165.6" r="3.9" fill="#d09478" stroke="#c4886e" stroke-width="0.5"/>
<circle cx="222.1" cy="178.7" r="3.9" fill="#5074bc" stroke="#4262aa" stroke-width="0.6"/>
<circle cx="245.7" cy="172.9" r="3.9" fill="#d09478" stroke="#c4886e" stroke-width="0.5"/>
<circle cx="258.9" cy="172.9" r="3.9" fill="#d09478" stroke="#c4886e" stroke-width="0.5"/>
<circle cx="256.8" cy="178.4" r="3.9" fill="#5074bc" stroke="#4262aa" stroke-width="0.6"/>
<circle cx="237.0" cy="182.1" r="3.9" fill="#5074bc" stroke="#4262aa" stroke-width="0.6"/>
<circle cx="252.6" cy="183.5" r="3.9" fill="#d09478" stroke="#c4886e" stroke-width="0.5"/>
<circle cx="261.0" cy="185.8" r="3.9" fill="#d09478" stroke="#c4886e" stroke-width="0.5"/>
<circle cx="267.8" cy="188.5" r="3.9" fill="#5074bc" stroke="#4262aa" stroke-width="0.6"/>
<circle cx="285.8" cy="173.2" r="3.9" fill="#5074bc" stroke="#4262aa" stroke-width="0.6"/>
<circle cx="290.5" cy="171.7" r="3.9" fill="#d09478" stroke="#c4886e" stroke-width="0.5"/>
<circle cx="309.1" cy="170.7" r="3.9" fill="#5074bc" stroke="#4262aa" stroke-width="0.6"/>
<circle cx="329.3" cy="174.0" r="3.9" fill="#d09478" stroke="#c4886e" stroke-width="0.5"/>
<circle cx="347.8" cy="179.3" r="3.9" fill="#d09478" stroke="#c4886e" stroke-width="0.5"/>
<circle cx="291.7" cy="183.8" r="3.9" fill="#5074bc" stroke="#4262aa" stroke-width="0.6"/>
<circle cx="296.8" cy="184.1" r="3.9" fill="#5074bc" stroke="#4262aa" stroke-width="0.6"/>
<circle cx="302.3" cy="182.1" r="3.6" fill="#d09478" stroke="#e08838" stroke-width="0.9"/>
<circle cx="262.2" cy="193.6" r="3.9" fill="#4862ac" stroke="#3a4e96" stroke-width="0.6"/>
<circle cx="279.1" cy="191.0" r="3.9" fill="#5074bc" stroke="#4262aa" stroke-width="0.6"/>
<circle cx="278.2" cy="199.8" r="3.9" fill="#4862ac" stroke="#3a4e96" stroke-width="0.6"/>
<circle cx="283.3" cy="198.1" r="3.9" fill="#b88878" fill-opacity="0.35"/>
<circle cx="292.0" cy="193.1" r="3.9" fill="#c89480"/>
<circle cx="307.4" cy="194.8" r="3.9" fill="#4862ac" stroke="#3a4e96" stroke-width="0.6"/>
<circle cx="331.6" cy="191.9" r="3.9" fill="#d09478" stroke="#c4886e" stroke-width="0.5"/>
<circle cx="250.9" cy="199.5" r="3.9" fill="#b88878" fill-opacity="0.35"/>
<circle cx="237.8" cy="209.9" r="3.9" fill="#4862ac" stroke="#3a4e96" stroke-width="0.6"/>
<circle cx="253.5" cy="212.1" r="3.9" fill="#b88878" fill-opacity="0.35"/>
<circle cx="289.2" cy="209.9" r="3.9" fill="#4862ac" stroke="#3a4e96" stroke-width="0.6"/>
<circle cx="233.2" cy="217.8" r="3.9" fill="#4862ac" stroke="#3a4e96" stroke-width="0.6"/>
<circle cx="299.3" cy="219.2" r="3.9" fill="#4862ac" stroke="#3a4e96" stroke-width="0.6"/>
<circle cx="345.7" cy="200.8" r="3.9" fill="#b88878" fill-opacity="0.35"/>
<circle cx="345.5" cy="220.0" r="3.9" fill="#b88878" fill-opacity="0.35"/>
<circle cx="362.7" cy="165.3" r="3.9" fill="#5074bc" stroke="#4262aa" stroke-width="0.6"/>
<circle cx="379.6" cy="163.2" r="3.9" fill="#5074bc" stroke="#4262aa" stroke-width="0.6"/>
<circle cx="392.6" cy="165.3" r="3.9" fill="#d09478" stroke="#c4886e" stroke-width="0.5"/>
<circle cx="422.0" cy="172.9" r="3.9" fill="#d09478" stroke="#c4886e" stroke-width="0.5"/>
<circle cx="402.3" cy="177.1" r="3.9" fill="#d09478" stroke="#c4886e" stroke-width="0.5"/>
<circle cx="354.8" cy="191.4" r="3.9" fill="#5074bc" stroke="#4262aa" stroke-width="0.6"/>
<circle cx="371.7" cy="189.7" r="3.9" fill="#5074bc" stroke="#4262aa" stroke-width="0.6"/>
<circle cx="384.6" cy="191.7" r="3.9" fill="#d09478" stroke="#c4886e" stroke-width="0.5"/>
<circle cx="420.0" cy="189.4" r="3.9" fill="#5074bc" stroke="#4262aa" stroke-width="0.6"/>
<circle cx="170.0" cy="221.2" r="3.9" fill="#b88878" fill-opacity="0.35"/>
<circle cx="137.4" cy="224.6" r="3.9" fill="#b88878" fill-opacity="0.35"/>
<circle cx="181.1" cy="226.0" r="3.9" fill="#4862ac" stroke="#3a4e96" stroke-width="0.6"/>
<circle cx="161.4" cy="230.6" r="3.9" fill="#4862ac" stroke="#3a4e96" stroke-width="0.6"/>
<circle cx="207.2" cy="222.1" r="3.9" fill="#4862ac" stroke="#3a4e96" stroke-width="0.6"/>
<circle cx="215.6" cy="232.2" r="3.9" fill="#4862ac" stroke="#3a4e96" stroke-width="0.6"/>
<circle cx="191.7" cy="236.9" r="3.9" fill="#4862ac" stroke="#3a4e96" stroke-width="0.6"/>
<circle cx="141.2" cy="236.8" r="3.9" fill="#b88878" fill-opacity="0.35"/>
<circle cx="163.7" cy="243.8" r="3.9" fill="#b88878" fill-opacity="0.35"/>
<circle cx="202.3" cy="247.5" r="3.9" fill="#4862ac" stroke="#3a4e96" stroke-width="0.6"/>
<circle cx="207.3" cy="246.2" r="3.9" fill="#c89480"/>
<circle cx="138.5" cy="253.6" r="3.9" fill="#4862ac" stroke="#3a4e96" stroke-width="0.6"/>
<circle cx="213.2" cy="258.3" r="3.9" fill="#4862ac" stroke="#3a4e96" stroke-width="0.6"/>
<circle cx="177.5" cy="260.7" r="3.9" fill="#b88878" fill-opacity="0.35"/>
<circle cx="156.5" cy="270.4" r="3.9" fill="#b88878" fill-opacity="0.35"/>
<circle cx="226.2" cy="230.3" r="3.9" fill="#b88878" fill-opacity="0.35"/>
<circle cx="245.4" cy="228.5" r="3.9" fill="#b88878" fill-opacity="0.35"/>
<circle cx="272.3" cy="227.4" r="3.9" fill="#b88878" fill-opacity="0.35"/>
<circle cx="338.0" cy="227.2" r="3.9" fill="#b88878" fill-opacity="0.35"/>
<circle cx="279.1" cy="240.0" r="3.9" fill="#4862ac" stroke="#3a4e96" stroke-width="0.6"/>
<circle cx="295.9" cy="238.1" r="3.9" fill="#4862ac" stroke="#3a4e96" stroke-width="0.6"/>
<circle cx="308.9" cy="239.8" r="3.9" fill="#b88878" fill-opacity="0.35"/>
<circle cx="224.1" cy="269.0" r="3.9" fill="#4862ac" stroke="#3a4e96" stroke-width="0.6"/>
<circle cx="262.2" cy="275.4" r="3.9" fill="#b88878" fill-opacity="0.35"/>
<path d="M318.8 337.5 C372 334.5 412 322 447.4 306.6 L558.8 306.6 L558.8 365 L445.9 365 C412 353 372 341.5 318.8 337.5 Z" fill="#cdcdcd"/>
<text x="468" y="347" class="cm" font-size="33" textLength="73" lengthAdjust="spacingAndGlyphs" filter="url(#shd)">STM</text>
<rect x="66.3" y="27.3" width="410.5" height="45" fill="#d1d0d1"/>
<text x="86.5" y="61.4" class="cm" font-size="34.5" textLength="372" lengthAdjust="spacingAndGlyphs" filter="url(#shd)">Atom probe tomography</text>
<path d="M487.3 49.4 H510.6 V44.6 L529.7 54.3 L510.6 64 V59.3 H487.3 Z" fill="#000"/>
<text x="55.6" y="161.8" class="cm" font-size="21.5" textLength="45.5" lengthAdjust="spacingAndGlyphs" filter="url(#shd)">Ions</text>
<text transform="translate(44.8 363.8) rotate(2.6)" class="cm" font-size="17" textLength="156" lengthAdjust="spacingAndGlyphs" filter="url(#shd)">(InGa)(AsSb) QDs</text>
<text transform="translate(53 436.5) rotate(2.7)" class="cm" font-size="17.5" textLength="124" lengthAdjust="spacingAndGlyphs" filter="url(#shd)">GaP Substrate</text>
<text x="372.5" y="427" class="cm" font-size="17.5" textLength="64" lengthAdjust="spacingAndGlyphs" filter="url(#shd)">Cleaved</text>
<text x="381.8" y="448.1" class="cm" font-size="17.5" textLength="47.4" lengthAdjust="spacingAndGlyphs" filter="url(#shd)">Facet</text>
<path d="M21.6 451.6 V427 M21.6 451.6 L47 454" stroke="#222" stroke-width="0.9" fill="none"/>
<path d="M19.4 428.5 L21.6 423.8 L23.8 428.5 Z M46 451.6 L50.3 454.3 L45.5 456.2 Z" fill="#222"/>
<text transform="translate(10.2 433.8) rotate(-90)" font-size="13" font-weight="bold" fill="#111" text-anchor="middle" textLength="31" lengthAdjust="spacingAndGlyphs">[001]</text>
<text x="18.6" y="470.6" font-size="13" font-weight="bold" fill="#111" textLength="32" lengthAdjust="spacingAndGlyphs">[110]</text>
</svg>
</body></html>
